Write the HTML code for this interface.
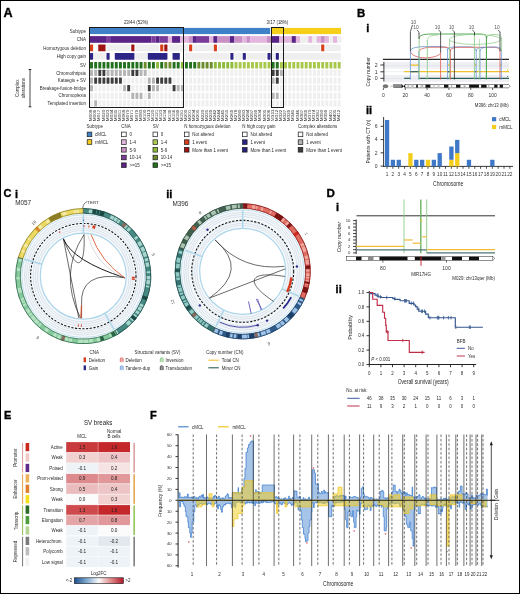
<!DOCTYPE html>
<html><head><meta charset="utf-8"><style>
html,body{margin:0;padding:0;background:#fff;}
body{width:520px;height:594px;overflow:hidden;}
svg{display:block;font-family:"Liberation Sans", sans-serif;will-change:transform;}
</style></head><body>
<svg width="520" height="594" viewBox="0 0 520 594">
<rect x="0" y="0" width="520" height="594" fill="#fff"/>
<text x="3.60" y="16.90" font-size="12.6" text-anchor="start" font-weight="bold" fill="#000" stroke="#000" stroke-width="0.35">A</text>
<text x="357.00" y="16.90" font-size="11.4" text-anchor="start" font-weight="bold" fill="#000" stroke="#000" stroke-width="0.35">B</text>
<text x="366.20" y="31.70" font-size="11" text-anchor="start" font-weight="bold" fill="#000" stroke="#000" stroke-width="0.35">i</text>
<text x="366.00" y="113.80" font-size="11" text-anchor="start" font-weight="bold" fill="#000" stroke="#000" stroke-width="0.35">ii</text>
<text x="3.60" y="197.10" font-size="11" text-anchor="start" font-weight="bold" fill="#000" stroke="#000" stroke-width="0.35">C</text>
<text x="15.00" y="197.50" font-size="11" text-anchor="start" font-weight="bold" fill="#000" stroke="#000" stroke-width="0.35">i</text>
<text x="166.20" y="197.80" font-size="11" text-anchor="start" font-weight="bold" fill="#000" stroke="#000" stroke-width="0.35">ii</text>
<text x="326.60" y="197.00" font-size="11.6" text-anchor="start" font-weight="bold" fill="#000" stroke="#000" stroke-width="0.35">D</text>
<text x="335.90" y="211.00" font-size="11" text-anchor="start" font-weight="bold" fill="#000" stroke="#000" stroke-width="0.35">i</text>
<text x="335.60" y="293.10" font-size="11" text-anchor="start" font-weight="bold" fill="#000" stroke="#000" stroke-width="0.35">ii</text>
<text x="4.00" y="419.20" font-size="11" text-anchor="start" font-weight="bold" fill="#000" stroke="#000" stroke-width="0.35">E</text>
<text x="150.00" y="418.60" font-size="11" text-anchor="start" font-weight="bold" fill="#000" stroke="#000" stroke-width="0.35">F</text>
<text x="86.00" y="32.60" font-size="4.45" text-anchor="end" font-weight="normal" fill="#2a2a2a">Subtype</text>
<text x="86.00" y="41.00" font-size="4.45" text-anchor="end" font-weight="normal" fill="#2a2a2a">CNA</text>
<text x="86.00" y="49.60" font-size="4.45" text-anchor="end" font-weight="normal" fill="#2a2a2a">Homozygous deletion</text>
<text x="86.00" y="58.00" font-size="4.45" text-anchor="end" font-weight="normal" fill="#2a2a2a">High copy gain</text>
<text x="86.00" y="66.70" font-size="4.45" text-anchor="end" font-weight="normal" fill="#2a2a2a">SV</text>
<text x="86.00" y="74.60" font-size="4.45" text-anchor="end" font-weight="normal" fill="#2a2a2a">Chromothripsis</text>
<text x="86.00" y="82.30" font-size="4.45" text-anchor="end" font-weight="normal" fill="#2a2a2a">Kataegis + SV</text>
<text x="86.00" y="89.80" font-size="4.45" text-anchor="end" font-weight="normal" fill="#2a2a2a">Breakage-fusion-bridge</text>
<text x="86.00" y="97.40" font-size="4.45" text-anchor="end" font-weight="normal" fill="#2a2a2a">Chromoplexia</text>
<text x="86.00" y="104.90" font-size="4.45" text-anchor="end" font-weight="normal" fill="#2a2a2a">Templated insertion</text>
<line x1="30.00" y1="69.50" x2="30.00" y2="106.80" stroke="#333" stroke-width="0.9"/>
<line x1="28.70" y1="69.50" x2="31.30" y2="69.50" stroke="#222" stroke-width="1.0"/>
<line x1="28.70" y1="106.80" x2="31.30" y2="106.80" stroke="#222" stroke-width="1.0"/>
<text x="19.50" y="88.30" font-size="4.45" text-anchor="middle" font-weight="normal" fill="#2a2a2a" transform="rotate(-90 19.50 88.30)" textLength="17.4" lengthAdjust="spacingAndGlyphs">Complex</text>
<text x="25.00" y="88.20" font-size="4.45" text-anchor="middle" font-weight="normal" fill="#2a2a2a" transform="rotate(-90 25.00 88.20)" textLength="20.2" lengthAdjust="spacingAndGlyphs">alterations</text>
<rect x="89.70" y="27.90" width="180.43" height="6.20" fill="#4080c6"/>
<rect x="271.63" y="27.90" width="69.38" height="6.20" fill="#f5cf1a"/>
<rect x="89.50" y="36.10" width="16.51" height="6.70" fill="#5a2388"/>
<rect x="106.01" y="36.10" width="4.13" height="6.70" fill="#7c3c99"/>
<rect x="110.14" y="36.10" width="41.28" height="6.70" fill="#5a2388"/>
<rect x="151.42" y="36.10" width="4.13" height="6.70" fill="#7c3c99"/>
<rect x="155.55" y="36.10" width="4.13" height="6.70" fill="#5a2388"/>
<rect x="159.68" y="36.10" width="8.26" height="6.70" fill="#7c3c99"/>
<rect x="167.93" y="36.10" width="4.13" height="6.70" fill="#e3b6dd"/>
<rect x="172.06" y="36.10" width="8.26" height="6.70" fill="#5a2388"/>
<rect x="180.32" y="36.10" width="8.26" height="6.70" fill="#e3b6dd"/>
<rect x="188.57" y="36.10" width="4.13" height="6.70" fill="#c990c6"/>
<rect x="192.70" y="36.10" width="4.13" height="6.70" fill="#5a2388"/>
<rect x="196.83" y="36.10" width="12.38" height="6.70" fill="#7c3c99"/>
<rect x="209.21" y="36.10" width="4.13" height="6.70" fill="#e3b6dd"/>
<rect x="213.34" y="36.10" width="4.13" height="6.70" fill="#5a2388"/>
<rect x="217.47" y="36.10" width="12.38" height="6.70" fill="#c990c6"/>
<rect x="229.85" y="36.10" width="4.13" height="6.70" fill="#5a2388"/>
<rect x="233.98" y="36.10" width="8.26" height="6.70" fill="#c990c6"/>
<rect x="242.24" y="36.10" width="4.13" height="6.70" fill="#e3b6dd"/>
<rect x="246.36" y="36.10" width="4.13" height="6.70" fill="#c990c6"/>
<rect x="250.49" y="36.10" width="16.51" height="6.70" fill="#e3b6dd"/>
<rect x="267.00" y="36.10" width="4.13" height="6.70" fill="#c990c6"/>
<rect x="271.13" y="36.10" width="8.26" height="6.70" fill="#5a2388"/>
<rect x="279.39" y="36.10" width="12.38" height="6.70" fill="#e3b6dd"/>
<rect x="291.77" y="36.10" width="4.13" height="6.70" fill="#5a2388"/>
<rect x="295.90" y="36.10" width="4.13" height="6.70" fill="#e3b6dd"/>
<rect x="300.03" y="36.10" width="8.26" height="6.70" fill="#efefef"/>
<rect x="308.28" y="36.10" width="4.13" height="6.70" fill="#e3b6dd"/>
<rect x="312.41" y="36.10" width="4.13" height="6.70" fill="#efefef"/>
<rect x="316.54" y="36.10" width="4.13" height="6.70" fill="#e3b6dd"/>
<rect x="320.67" y="36.10" width="4.13" height="6.70" fill="#c990c6"/>
<rect x="324.80" y="36.10" width="4.13" height="6.70" fill="#e3b6dd"/>
<rect x="328.92" y="36.10" width="4.13" height="6.70" fill="#efefef"/>
<rect x="333.05" y="36.10" width="4.13" height="6.70" fill="#e3b6dd"/>
<rect x="337.18" y="36.10" width="4.13" height="6.70" fill="#efefef"/>
<rect x="90.00" y="44.60" width="3.13" height="6.70" fill="#d8401c" rx="0.6"/>
<rect x="98.26" y="44.60" width="7.26" height="6.70" fill="#a01414" rx="0.6"/>
<rect x="106.51" y="44.60" width="23.77" height="6.70" fill="#efefef" rx="0.6"/>
<rect x="131.28" y="44.60" width="3.13" height="6.70" fill="#a01414" rx="0.6"/>
<rect x="135.41" y="44.60" width="23.77" height="6.70" fill="#efefef" rx="0.6"/>
<rect x="160.18" y="44.60" width="3.13" height="6.70" fill="#d8401c" rx="0.6"/>
<rect x="164.30" y="44.60" width="3.13" height="6.70" fill="#a01414" rx="0.6"/>
<rect x="168.43" y="44.60" width="19.64" height="6.70" fill="#efefef" rx="0.6"/>
<rect x="189.07" y="44.60" width="3.13" height="6.70" fill="#d8401c" rx="0.6"/>
<rect x="193.20" y="44.60" width="19.64" height="6.70" fill="#efefef" rx="0.6"/>
<rect x="213.84" y="44.60" width="3.13" height="6.70" fill="#d8401c" rx="0.6"/>
<rect x="217.97" y="44.60" width="102.20" height="6.70" fill="#efefef" rx="0.6"/>
<rect x="321.17" y="44.60" width="3.13" height="6.70" fill="#d8401c" rx="0.6"/>
<rect x="325.30" y="44.60" width="15.51" height="6.70" fill="#efefef" rx="0.6"/>
<rect x="90.00" y="53.00" width="3.13" height="6.70" fill="#2c2586" rx="0.6"/>
<rect x="94.13" y="53.00" width="11.38" height="6.70" fill="#efefef" rx="0.6"/>
<rect x="106.51" y="53.00" width="3.13" height="6.70" fill="#2c2586" rx="0.6"/>
<rect x="114.77" y="53.00" width="19.64" height="6.70" fill="#2c2586" rx="0.6"/>
<rect x="135.41" y="53.00" width="11.38" height="6.70" fill="#efefef" rx="0.6"/>
<rect x="147.79" y="53.00" width="19.64" height="6.70" fill="#2c2586" rx="0.6"/>
<rect x="172.56" y="53.00" width="7.26" height="6.70" fill="#2c2586" rx="0.6"/>
<rect x="184.94" y="53.00" width="44.41" height="6.70" fill="#efefef" rx="0.6"/>
<rect x="230.35" y="53.00" width="3.13" height="6.70" fill="#2c2586" rx="0.6"/>
<rect x="234.48" y="53.00" width="7.26" height="6.70" fill="#efefef" rx="0.6"/>
<rect x="242.74" y="53.00" width="3.13" height="6.70" fill="#2c2586" rx="0.6"/>
<rect x="246.86" y="53.00" width="19.64" height="6.70" fill="#efefef" rx="0.6"/>
<rect x="267.50" y="53.00" width="3.13" height="6.70" fill="#2c2586" rx="0.6"/>
<rect x="271.63" y="53.00" width="3.13" height="6.70" fill="#efefef" rx="0.6"/>
<rect x="275.76" y="53.00" width="3.13" height="6.70" fill="#2c2586" rx="0.6"/>
<rect x="279.89" y="53.00" width="60.92" height="6.70" fill="#efefef" rx="0.6"/>
<rect x="90.05" y="61.90" width="2.93" height="6.70" fill="#23701f" rx="0.5"/>
<rect x="94.18" y="61.90" width="2.93" height="6.70" fill="#23701f" rx="0.5"/>
<rect x="98.31" y="61.90" width="2.93" height="6.70" fill="#23701f" rx="0.5"/>
<rect x="102.43" y="61.90" width="2.93" height="6.70" fill="#23701f" rx="0.5"/>
<rect x="106.56" y="61.90" width="2.93" height="6.70" fill="#23701f" rx="0.5"/>
<rect x="110.69" y="61.90" width="2.93" height="6.70" fill="#23701f" rx="0.5"/>
<rect x="114.82" y="61.90" width="2.93" height="6.70" fill="#23701f" rx="0.5"/>
<rect x="118.95" y="61.90" width="2.93" height="6.70" fill="#23701f" rx="0.5"/>
<rect x="123.07" y="61.90" width="2.93" height="6.70" fill="#23701f" rx="0.5"/>
<rect x="127.20" y="61.90" width="2.93" height="6.70" fill="#23701f" rx="0.5"/>
<rect x="131.33" y="61.90" width="2.93" height="6.70" fill="#23701f" rx="0.5"/>
<rect x="135.46" y="61.90" width="2.93" height="6.70" fill="#23701f" rx="0.5"/>
<rect x="139.59" y="61.90" width="2.93" height="6.70" fill="#23701f" rx="0.5"/>
<rect x="143.71" y="61.90" width="2.93" height="6.70" fill="#6b8b2c" rx="0.5"/>
<rect x="147.84" y="61.90" width="2.93" height="6.70" fill="#23701f" rx="0.5"/>
<rect x="151.97" y="61.90" width="2.93" height="6.70" fill="#23701f" rx="0.5"/>
<rect x="156.10" y="61.90" width="2.93" height="6.70" fill="#8dbb3d" rx="0.5"/>
<rect x="160.23" y="61.90" width="2.93" height="6.70" fill="#23701f" rx="0.5"/>
<rect x="164.35" y="61.90" width="2.93" height="6.70" fill="#6b8b2c" rx="0.5"/>
<rect x="168.48" y="61.90" width="2.93" height="6.70" fill="#6b8b2c" rx="0.5"/>
<rect x="172.61" y="61.90" width="2.93" height="6.70" fill="#23701f" rx="0.5"/>
<rect x="176.74" y="61.90" width="2.93" height="6.70" fill="#23701f" rx="0.5"/>
<rect x="180.87" y="61.90" width="2.93" height="6.70" fill="#8dbb3d" rx="0.5"/>
<rect x="184.99" y="61.90" width="2.93" height="6.70" fill="#23701f" rx="0.5"/>
<rect x="189.12" y="61.90" width="2.93" height="6.70" fill="#23701f" rx="0.5"/>
<rect x="193.25" y="61.90" width="2.93" height="6.70" fill="#23701f" rx="0.5"/>
<rect x="197.38" y="61.90" width="2.93" height="6.70" fill="#6b8b2c" rx="0.5"/>
<rect x="201.51" y="61.90" width="2.93" height="6.70" fill="#6b8b2c" rx="0.5"/>
<rect x="205.63" y="61.90" width="2.93" height="6.70" fill="#6b8b2c" rx="0.5"/>
<rect x="209.76" y="61.90" width="2.93" height="6.70" fill="#6b8b2c" rx="0.5"/>
<rect x="213.89" y="61.90" width="2.93" height="6.70" fill="#8dbb3d" rx="0.5"/>
<rect x="218.02" y="61.90" width="2.93" height="6.70" fill="#8dbb3d" rx="0.5"/>
<rect x="222.15" y="61.90" width="2.93" height="6.70" fill="#8dbb3d" rx="0.5"/>
<rect x="226.27" y="61.90" width="2.93" height="6.70" fill="#8dbb3d" rx="0.5"/>
<rect x="230.40" y="61.90" width="2.93" height="6.70" fill="#8dbb3d" rx="0.5"/>
<rect x="234.53" y="61.90" width="2.93" height="6.70" fill="#a8c84c" rx="0.5"/>
<rect x="238.66" y="61.90" width="2.93" height="6.70" fill="#a8c84c" rx="0.5"/>
<rect x="242.79" y="61.90" width="2.93" height="6.70" fill="#a8c84c" rx="0.5"/>
<rect x="246.91" y="61.90" width="2.93" height="6.70" fill="#a8c84c" rx="0.5"/>
<rect x="251.04" y="61.90" width="2.93" height="6.70" fill="#a8c84c" rx="0.5"/>
<rect x="255.17" y="61.90" width="2.93" height="6.70" fill="#a8c84c" rx="0.5"/>
<rect x="259.30" y="61.90" width="2.93" height="6.70" fill="#a8c84c" rx="0.5"/>
<rect x="263.43" y="61.90" width="2.93" height="6.70" fill="#a8c84c" rx="0.5"/>
<rect x="267.55" y="61.90" width="2.93" height="6.70" fill="#a8c84c" rx="0.5"/>
<rect x="271.68" y="61.90" width="2.93" height="6.70" fill="#23701f" rx="0.5"/>
<rect x="275.81" y="61.90" width="2.93" height="6.70" fill="#23701f" rx="0.5"/>
<rect x="279.94" y="61.90" width="2.93" height="6.70" fill="#a8c84c" rx="0.5"/>
<rect x="284.07" y="61.90" width="2.93" height="6.70" fill="#a8c84c" rx="0.5"/>
<rect x="288.19" y="61.90" width="2.93" height="6.70" fill="#a8c84c" rx="0.5"/>
<rect x="292.32" y="61.90" width="2.93" height="6.70" fill="#a8c84c" rx="0.5"/>
<rect x="296.45" y="61.90" width="2.93" height="6.70" fill="#a8c84c" rx="0.5"/>
<rect x="300.58" y="61.90" width="2.93" height="6.70" fill="#a8c84c" rx="0.5"/>
<rect x="304.71" y="61.90" width="2.93" height="6.70" fill="#a8c84c" rx="0.5"/>
<rect x="308.83" y="61.90" width="2.93" height="6.70" fill="#a8c84c" rx="0.5"/>
<rect x="312.96" y="61.90" width="2.93" height="6.70" fill="#a8c84c" rx="0.5"/>
<rect x="317.09" y="61.90" width="2.93" height="6.70" fill="#a8c84c" rx="0.5"/>
<rect x="321.22" y="61.90" width="2.93" height="6.70" fill="#a8c84c" rx="0.5"/>
<rect x="325.35" y="61.90" width="2.93" height="6.70" fill="#a8c84c" rx="0.5"/>
<rect x="329.47" y="61.90" width="2.93" height="6.70" fill="#a8c84c" rx="0.5"/>
<rect x="333.60" y="61.90" width="2.93" height="6.70" fill="#a8c84c" rx="0.5"/>
<rect x="337.73" y="61.90" width="2.93" height="6.70" fill="#a8c84c" rx="0.5"/>
<rect x="90.05" y="69.80" width="2.93" height="6.20" fill="#b4b4b4" rx="0.4"/>
<rect x="94.18" y="69.80" width="2.93" height="6.20" fill="#b4b4b4" rx="0.4"/>
<rect x="98.31" y="69.80" width="2.93" height="6.20" fill="#3e3e3e" rx="0.4"/>
<rect x="102.43" y="69.80" width="2.93" height="6.20" fill="#3e3e3e" rx="0.4"/>
<rect x="106.56" y="69.80" width="2.93" height="6.20" fill="#b4b4b4" rx="0.4"/>
<rect x="110.69" y="69.80" width="2.93" height="6.20" fill="#b4b4b4" rx="0.4"/>
<rect x="114.82" y="69.80" width="2.93" height="6.20" fill="#b4b4b4" rx="0.4"/>
<rect x="118.95" y="69.80" width="2.93" height="6.20" fill="#b4b4b4" rx="0.4"/>
<rect x="123.07" y="69.80" width="2.93" height="6.20" fill="#b4b4b4" rx="0.4"/>
<rect x="127.20" y="69.80" width="2.93" height="6.20" fill="#b4b4b4" rx="0.4"/>
<rect x="131.33" y="69.80" width="2.93" height="6.20" fill="#3e3e3e" rx="0.4"/>
<rect x="135.46" y="69.80" width="2.93" height="6.20" fill="#3e3e3e" rx="0.4"/>
<rect x="139.59" y="69.80" width="2.93" height="6.20" fill="#b4b4b4" rx="0.4"/>
<rect x="143.71" y="69.80" width="2.93" height="6.20" fill="#b4b4b4" rx="0.4"/>
<rect x="147.84" y="69.80" width="2.93" height="6.20" fill="#efefef" rx="0.4"/>
<rect x="151.97" y="69.80" width="2.93" height="6.20" fill="#efefef" rx="0.4"/>
<rect x="156.10" y="69.80" width="2.93" height="6.20" fill="#efefef" rx="0.4"/>
<rect x="160.23" y="69.80" width="2.93" height="6.20" fill="#efefef" rx="0.4"/>
<rect x="164.35" y="69.80" width="2.93" height="6.20" fill="#efefef" rx="0.4"/>
<rect x="168.48" y="69.80" width="2.93" height="6.20" fill="#efefef" rx="0.4"/>
<rect x="172.61" y="69.80" width="2.93" height="6.20" fill="#efefef" rx="0.4"/>
<rect x="176.74" y="69.80" width="2.93" height="6.20" fill="#efefef" rx="0.4"/>
<rect x="180.87" y="69.80" width="2.93" height="6.20" fill="#efefef" rx="0.4"/>
<rect x="184.99" y="69.80" width="2.93" height="6.20" fill="#efefef" rx="0.4"/>
<rect x="189.12" y="69.80" width="2.93" height="6.20" fill="#efefef" rx="0.4"/>
<rect x="193.25" y="69.80" width="2.93" height="6.20" fill="#efefef" rx="0.4"/>
<rect x="197.38" y="69.80" width="2.93" height="6.20" fill="#efefef" rx="0.4"/>
<rect x="201.51" y="69.80" width="2.93" height="6.20" fill="#efefef" rx="0.4"/>
<rect x="205.63" y="69.80" width="2.93" height="6.20" fill="#efefef" rx="0.4"/>
<rect x="209.76" y="69.80" width="2.93" height="6.20" fill="#efefef" rx="0.4"/>
<rect x="213.89" y="69.80" width="2.93" height="6.20" fill="#efefef" rx="0.4"/>
<rect x="218.02" y="69.80" width="2.93" height="6.20" fill="#efefef" rx="0.4"/>
<rect x="222.15" y="69.80" width="2.93" height="6.20" fill="#efefef" rx="0.4"/>
<rect x="226.27" y="69.80" width="2.93" height="6.20" fill="#efefef" rx="0.4"/>
<rect x="230.40" y="69.80" width="2.93" height="6.20" fill="#efefef" rx="0.4"/>
<rect x="234.53" y="69.80" width="2.93" height="6.20" fill="#efefef" rx="0.4"/>
<rect x="238.66" y="69.80" width="2.93" height="6.20" fill="#efefef" rx="0.4"/>
<rect x="242.79" y="69.80" width="2.93" height="6.20" fill="#efefef" rx="0.4"/>
<rect x="246.91" y="69.80" width="2.93" height="6.20" fill="#efefef" rx="0.4"/>
<rect x="251.04" y="69.80" width="2.93" height="6.20" fill="#efefef" rx="0.4"/>
<rect x="255.17" y="69.80" width="2.93" height="6.20" fill="#efefef" rx="0.4"/>
<rect x="259.30" y="69.80" width="2.93" height="6.20" fill="#efefef" rx="0.4"/>
<rect x="263.43" y="69.80" width="2.93" height="6.20" fill="#efefef" rx="0.4"/>
<rect x="267.55" y="69.80" width="2.93" height="6.20" fill="#efefef" rx="0.4"/>
<rect x="271.68" y="69.80" width="2.93" height="6.20" fill="#3e3e3e" rx="0.4"/>
<rect x="275.81" y="69.80" width="2.93" height="6.20" fill="#3e3e3e" rx="0.4"/>
<rect x="279.94" y="69.80" width="2.93" height="6.20" fill="#b4b4b4" rx="0.4"/>
<rect x="284.07" y="69.80" width="2.93" height="6.20" fill="#efefef" rx="0.4"/>
<rect x="288.19" y="69.80" width="2.93" height="6.20" fill="#efefef" rx="0.4"/>
<rect x="292.32" y="69.80" width="2.93" height="6.20" fill="#efefef" rx="0.4"/>
<rect x="296.45" y="69.80" width="2.93" height="6.20" fill="#efefef" rx="0.4"/>
<rect x="300.58" y="69.80" width="2.93" height="6.20" fill="#efefef" rx="0.4"/>
<rect x="304.71" y="69.80" width="2.93" height="6.20" fill="#efefef" rx="0.4"/>
<rect x="308.83" y="69.80" width="2.93" height="6.20" fill="#efefef" rx="0.4"/>
<rect x="312.96" y="69.80" width="2.93" height="6.20" fill="#efefef" rx="0.4"/>
<rect x="317.09" y="69.80" width="2.93" height="6.20" fill="#efefef" rx="0.4"/>
<rect x="321.22" y="69.80" width="2.93" height="6.20" fill="#efefef" rx="0.4"/>
<rect x="325.35" y="69.80" width="2.93" height="6.20" fill="#efefef" rx="0.4"/>
<rect x="329.47" y="69.80" width="2.93" height="6.20" fill="#efefef" rx="0.4"/>
<rect x="333.60" y="69.80" width="2.93" height="6.20" fill="#efefef" rx="0.4"/>
<rect x="337.73" y="69.80" width="2.93" height="6.20" fill="#efefef" rx="0.4"/>
<rect x="90.05" y="77.50" width="2.93" height="6.20" fill="#b4b4b4" rx="0.4"/>
<rect x="94.18" y="77.50" width="2.93" height="6.20" fill="#3e3e3e" rx="0.4"/>
<rect x="98.31" y="77.50" width="2.93" height="6.20" fill="#3e3e3e" rx="0.4"/>
<rect x="102.43" y="77.50" width="2.93" height="6.20" fill="#3e3e3e" rx="0.4"/>
<rect x="106.56" y="77.50" width="2.93" height="6.20" fill="#3e3e3e" rx="0.4"/>
<rect x="110.69" y="77.50" width="2.93" height="6.20" fill="#3e3e3e" rx="0.4"/>
<rect x="114.82" y="77.50" width="2.93" height="6.20" fill="#3e3e3e" rx="0.4"/>
<rect x="118.95" y="77.50" width="2.93" height="6.20" fill="#3e3e3e" rx="0.4"/>
<rect x="123.07" y="77.50" width="2.93" height="6.20" fill="#efefef" rx="0.4"/>
<rect x="127.20" y="77.50" width="2.93" height="6.20" fill="#efefef" rx="0.4"/>
<rect x="131.33" y="77.50" width="2.93" height="6.20" fill="#efefef" rx="0.4"/>
<rect x="135.46" y="77.50" width="2.93" height="6.20" fill="#efefef" rx="0.4"/>
<rect x="139.59" y="77.50" width="2.93" height="6.20" fill="#efefef" rx="0.4"/>
<rect x="143.71" y="77.50" width="2.93" height="6.20" fill="#efefef" rx="0.4"/>
<rect x="147.84" y="77.50" width="2.93" height="6.20" fill="#b4b4b4" rx="0.4"/>
<rect x="151.97" y="77.50" width="2.93" height="6.20" fill="#b4b4b4" rx="0.4"/>
<rect x="156.10" y="77.50" width="2.93" height="6.20" fill="#3e3e3e" rx="0.4"/>
<rect x="160.23" y="77.50" width="2.93" height="6.20" fill="#3e3e3e" rx="0.4"/>
<rect x="164.35" y="77.50" width="2.93" height="6.20" fill="#3e3e3e" rx="0.4"/>
<rect x="168.48" y="77.50" width="2.93" height="6.20" fill="#3e3e3e" rx="0.4"/>
<rect x="172.61" y="77.50" width="2.93" height="6.20" fill="#efefef" rx="0.4"/>
<rect x="176.74" y="77.50" width="2.93" height="6.20" fill="#efefef" rx="0.4"/>
<rect x="180.87" y="77.50" width="2.93" height="6.20" fill="#efefef" rx="0.4"/>
<rect x="184.99" y="77.50" width="2.93" height="6.20" fill="#efefef" rx="0.4"/>
<rect x="189.12" y="77.50" width="2.93" height="6.20" fill="#efefef" rx="0.4"/>
<rect x="193.25" y="77.50" width="2.93" height="6.20" fill="#efefef" rx="0.4"/>
<rect x="197.38" y="77.50" width="2.93" height="6.20" fill="#efefef" rx="0.4"/>
<rect x="201.51" y="77.50" width="2.93" height="6.20" fill="#efefef" rx="0.4"/>
<rect x="205.63" y="77.50" width="2.93" height="6.20" fill="#efefef" rx="0.4"/>
<rect x="209.76" y="77.50" width="2.93" height="6.20" fill="#efefef" rx="0.4"/>
<rect x="213.89" y="77.50" width="2.93" height="6.20" fill="#efefef" rx="0.4"/>
<rect x="218.02" y="77.50" width="2.93" height="6.20" fill="#efefef" rx="0.4"/>
<rect x="222.15" y="77.50" width="2.93" height="6.20" fill="#efefef" rx="0.4"/>
<rect x="226.27" y="77.50" width="2.93" height="6.20" fill="#efefef" rx="0.4"/>
<rect x="230.40" y="77.50" width="2.93" height="6.20" fill="#efefef" rx="0.4"/>
<rect x="234.53" y="77.50" width="2.93" height="6.20" fill="#efefef" rx="0.4"/>
<rect x="238.66" y="77.50" width="2.93" height="6.20" fill="#efefef" rx="0.4"/>
<rect x="242.79" y="77.50" width="2.93" height="6.20" fill="#efefef" rx="0.4"/>
<rect x="246.91" y="77.50" width="2.93" height="6.20" fill="#efefef" rx="0.4"/>
<rect x="251.04" y="77.50" width="2.93" height="6.20" fill="#efefef" rx="0.4"/>
<rect x="255.17" y="77.50" width="2.93" height="6.20" fill="#efefef" rx="0.4"/>
<rect x="259.30" y="77.50" width="2.93" height="6.20" fill="#efefef" rx="0.4"/>
<rect x="263.43" y="77.50" width="2.93" height="6.20" fill="#efefef" rx="0.4"/>
<rect x="267.55" y="77.50" width="2.93" height="6.20" fill="#efefef" rx="0.4"/>
<rect x="271.68" y="77.50" width="2.93" height="6.20" fill="#b4b4b4" rx="0.4"/>
<rect x="275.81" y="77.50" width="2.93" height="6.20" fill="#3e3e3e" rx="0.4"/>
<rect x="279.94" y="77.50" width="2.93" height="6.20" fill="#efefef" rx="0.4"/>
<rect x="284.07" y="77.50" width="2.93" height="6.20" fill="#efefef" rx="0.4"/>
<rect x="288.19" y="77.50" width="2.93" height="6.20" fill="#efefef" rx="0.4"/>
<rect x="292.32" y="77.50" width="2.93" height="6.20" fill="#efefef" rx="0.4"/>
<rect x="296.45" y="77.50" width="2.93" height="6.20" fill="#efefef" rx="0.4"/>
<rect x="300.58" y="77.50" width="2.93" height="6.20" fill="#efefef" rx="0.4"/>
<rect x="304.71" y="77.50" width="2.93" height="6.20" fill="#efefef" rx="0.4"/>
<rect x="308.83" y="77.50" width="2.93" height="6.20" fill="#efefef" rx="0.4"/>
<rect x="312.96" y="77.50" width="2.93" height="6.20" fill="#efefef" rx="0.4"/>
<rect x="317.09" y="77.50" width="2.93" height="6.20" fill="#efefef" rx="0.4"/>
<rect x="321.22" y="77.50" width="2.93" height="6.20" fill="#efefef" rx="0.4"/>
<rect x="325.35" y="77.50" width="2.93" height="6.20" fill="#efefef" rx="0.4"/>
<rect x="329.47" y="77.50" width="2.93" height="6.20" fill="#efefef" rx="0.4"/>
<rect x="333.60" y="77.50" width="2.93" height="6.20" fill="#efefef" rx="0.4"/>
<rect x="337.73" y="77.50" width="2.93" height="6.20" fill="#efefef" rx="0.4"/>
<rect x="90.05" y="85.10" width="2.93" height="6.20" fill="#b4b4b4" rx="0.4"/>
<rect x="94.18" y="85.10" width="2.93" height="6.20" fill="#efefef" rx="0.4"/>
<rect x="98.31" y="85.10" width="2.93" height="6.20" fill="#efefef" rx="0.4"/>
<rect x="102.43" y="85.10" width="2.93" height="6.20" fill="#efefef" rx="0.4"/>
<rect x="106.56" y="85.10" width="2.93" height="6.20" fill="#efefef" rx="0.4"/>
<rect x="110.69" y="85.10" width="2.93" height="6.20" fill="#efefef" rx="0.4"/>
<rect x="114.82" y="85.10" width="2.93" height="6.20" fill="#efefef" rx="0.4"/>
<rect x="118.95" y="85.10" width="2.93" height="6.20" fill="#efefef" rx="0.4"/>
<rect x="123.07" y="85.10" width="2.93" height="6.20" fill="#b4b4b4" rx="0.4"/>
<rect x="127.20" y="85.10" width="2.93" height="6.20" fill="#3e3e3e" rx="0.4"/>
<rect x="131.33" y="85.10" width="2.93" height="6.20" fill="#efefef" rx="0.4"/>
<rect x="135.46" y="85.10" width="2.93" height="6.20" fill="#efefef" rx="0.4"/>
<rect x="139.59" y="85.10" width="2.93" height="6.20" fill="#efefef" rx="0.4"/>
<rect x="143.71" y="85.10" width="2.93" height="6.20" fill="#efefef" rx="0.4"/>
<rect x="147.84" y="85.10" width="2.93" height="6.20" fill="#3e3e3e" rx="0.4"/>
<rect x="151.97" y="85.10" width="2.93" height="6.20" fill="#b4b4b4" rx="0.4"/>
<rect x="156.10" y="85.10" width="2.93" height="6.20" fill="#b4b4b4" rx="0.4"/>
<rect x="160.23" y="85.10" width="2.93" height="6.20" fill="#efefef" rx="0.4"/>
<rect x="164.35" y="85.10" width="2.93" height="6.20" fill="#efefef" rx="0.4"/>
<rect x="168.48" y="85.10" width="2.93" height="6.20" fill="#efefef" rx="0.4"/>
<rect x="172.61" y="85.10" width="2.93" height="6.20" fill="#3e3e3e" rx="0.4"/>
<rect x="176.74" y="85.10" width="2.93" height="6.20" fill="#b4b4b4" rx="0.4"/>
<rect x="180.87" y="85.10" width="2.93" height="6.20" fill="#b4b4b4" rx="0.4"/>
<rect x="184.99" y="85.10" width="2.93" height="6.20" fill="#efefef" rx="0.4"/>
<rect x="189.12" y="85.10" width="2.93" height="6.20" fill="#efefef" rx="0.4"/>
<rect x="193.25" y="85.10" width="2.93" height="6.20" fill="#efefef" rx="0.4"/>
<rect x="197.38" y="85.10" width="2.93" height="6.20" fill="#efefef" rx="0.4"/>
<rect x="201.51" y="85.10" width="2.93" height="6.20" fill="#efefef" rx="0.4"/>
<rect x="205.63" y="85.10" width="2.93" height="6.20" fill="#efefef" rx="0.4"/>
<rect x="209.76" y="85.10" width="2.93" height="6.20" fill="#efefef" rx="0.4"/>
<rect x="213.89" y="85.10" width="2.93" height="6.20" fill="#efefef" rx="0.4"/>
<rect x="218.02" y="85.10" width="2.93" height="6.20" fill="#efefef" rx="0.4"/>
<rect x="222.15" y="85.10" width="2.93" height="6.20" fill="#efefef" rx="0.4"/>
<rect x="226.27" y="85.10" width="2.93" height="6.20" fill="#efefef" rx="0.4"/>
<rect x="230.40" y="85.10" width="2.93" height="6.20" fill="#efefef" rx="0.4"/>
<rect x="234.53" y="85.10" width="2.93" height="6.20" fill="#efefef" rx="0.4"/>
<rect x="238.66" y="85.10" width="2.93" height="6.20" fill="#efefef" rx="0.4"/>
<rect x="242.79" y="85.10" width="2.93" height="6.20" fill="#efefef" rx="0.4"/>
<rect x="246.91" y="85.10" width="2.93" height="6.20" fill="#efefef" rx="0.4"/>
<rect x="251.04" y="85.10" width="2.93" height="6.20" fill="#efefef" rx="0.4"/>
<rect x="255.17" y="85.10" width="2.93" height="6.20" fill="#efefef" rx="0.4"/>
<rect x="259.30" y="85.10" width="2.93" height="6.20" fill="#efefef" rx="0.4"/>
<rect x="263.43" y="85.10" width="2.93" height="6.20" fill="#efefef" rx="0.4"/>
<rect x="267.55" y="85.10" width="2.93" height="6.20" fill="#efefef" rx="0.4"/>
<rect x="271.68" y="85.10" width="2.93" height="6.20" fill="#efefef" rx="0.4"/>
<rect x="275.81" y="85.10" width="2.93" height="6.20" fill="#efefef" rx="0.4"/>
<rect x="279.94" y="85.10" width="2.93" height="6.20" fill="#efefef" rx="0.4"/>
<rect x="284.07" y="85.10" width="2.93" height="6.20" fill="#efefef" rx="0.4"/>
<rect x="288.19" y="85.10" width="2.93" height="6.20" fill="#efefef" rx="0.4"/>
<rect x="292.32" y="85.10" width="2.93" height="6.20" fill="#efefef" rx="0.4"/>
<rect x="296.45" y="85.10" width="2.93" height="6.20" fill="#efefef" rx="0.4"/>
<rect x="300.58" y="85.10" width="2.93" height="6.20" fill="#efefef" rx="0.4"/>
<rect x="304.71" y="85.10" width="2.93" height="6.20" fill="#efefef" rx="0.4"/>
<rect x="308.83" y="85.10" width="2.93" height="6.20" fill="#efefef" rx="0.4"/>
<rect x="312.96" y="85.10" width="2.93" height="6.20" fill="#efefef" rx="0.4"/>
<rect x="317.09" y="85.10" width="2.93" height="6.20" fill="#efefef" rx="0.4"/>
<rect x="321.22" y="85.10" width="2.93" height="6.20" fill="#efefef" rx="0.4"/>
<rect x="325.35" y="85.10" width="2.93" height="6.20" fill="#efefef" rx="0.4"/>
<rect x="329.47" y="85.10" width="2.93" height="6.20" fill="#efefef" rx="0.4"/>
<rect x="333.60" y="85.10" width="2.93" height="6.20" fill="#efefef" rx="0.4"/>
<rect x="337.73" y="85.10" width="2.93" height="6.20" fill="#efefef" rx="0.4"/>
<rect x="90.05" y="92.70" width="2.93" height="6.20" fill="#efefef" rx="0.4"/>
<rect x="94.18" y="92.70" width="2.93" height="6.20" fill="#efefef" rx="0.4"/>
<rect x="98.31" y="92.70" width="2.93" height="6.20" fill="#efefef" rx="0.4"/>
<rect x="102.43" y="92.70" width="2.93" height="6.20" fill="#efefef" rx="0.4"/>
<rect x="106.56" y="92.70" width="2.93" height="6.20" fill="#efefef" rx="0.4"/>
<rect x="110.69" y="92.70" width="2.93" height="6.20" fill="#efefef" rx="0.4"/>
<rect x="114.82" y="92.70" width="2.93" height="6.20" fill="#efefef" rx="0.4"/>
<rect x="118.95" y="92.70" width="2.93" height="6.20" fill="#efefef" rx="0.4"/>
<rect x="123.07" y="92.70" width="2.93" height="6.20" fill="#efefef" rx="0.4"/>
<rect x="127.20" y="92.70" width="2.93" height="6.20" fill="#efefef" rx="0.4"/>
<rect x="131.33" y="92.70" width="2.93" height="6.20" fill="#b4b4b4" rx="0.4"/>
<rect x="135.46" y="92.70" width="2.93" height="6.20" fill="#b4b4b4" rx="0.4"/>
<rect x="139.59" y="92.70" width="2.93" height="6.20" fill="#b4b4b4" rx="0.4"/>
<rect x="143.71" y="92.70" width="2.93" height="6.20" fill="#efefef" rx="0.4"/>
<rect x="147.84" y="92.70" width="2.93" height="6.20" fill="#b4b4b4" rx="0.4"/>
<rect x="151.97" y="92.70" width="2.93" height="6.20" fill="#efefef" rx="0.4"/>
<rect x="156.10" y="92.70" width="2.93" height="6.20" fill="#efefef" rx="0.4"/>
<rect x="160.23" y="92.70" width="2.93" height="6.20" fill="#efefef" rx="0.4"/>
<rect x="164.35" y="92.70" width="2.93" height="6.20" fill="#efefef" rx="0.4"/>
<rect x="168.48" y="92.70" width="2.93" height="6.20" fill="#efefef" rx="0.4"/>
<rect x="172.61" y="92.70" width="2.93" height="6.20" fill="#efefef" rx="0.4"/>
<rect x="176.74" y="92.70" width="2.93" height="6.20" fill="#efefef" rx="0.4"/>
<rect x="180.87" y="92.70" width="2.93" height="6.20" fill="#efefef" rx="0.4"/>
<rect x="184.99" y="92.70" width="2.93" height="6.20" fill="#efefef" rx="0.4"/>
<rect x="189.12" y="92.70" width="2.93" height="6.20" fill="#efefef" rx="0.4"/>
<rect x="193.25" y="92.70" width="2.93" height="6.20" fill="#efefef" rx="0.4"/>
<rect x="197.38" y="92.70" width="2.93" height="6.20" fill="#efefef" rx="0.4"/>
<rect x="201.51" y="92.70" width="2.93" height="6.20" fill="#efefef" rx="0.4"/>
<rect x="205.63" y="92.70" width="2.93" height="6.20" fill="#efefef" rx="0.4"/>
<rect x="209.76" y="92.70" width="2.93" height="6.20" fill="#efefef" rx="0.4"/>
<rect x="213.89" y="92.70" width="2.93" height="6.20" fill="#efefef" rx="0.4"/>
<rect x="218.02" y="92.70" width="2.93" height="6.20" fill="#efefef" rx="0.4"/>
<rect x="222.15" y="92.70" width="2.93" height="6.20" fill="#efefef" rx="0.4"/>
<rect x="226.27" y="92.70" width="2.93" height="6.20" fill="#efefef" rx="0.4"/>
<rect x="230.40" y="92.70" width="2.93" height="6.20" fill="#efefef" rx="0.4"/>
<rect x="234.53" y="92.70" width="2.93" height="6.20" fill="#efefef" rx="0.4"/>
<rect x="238.66" y="92.70" width="2.93" height="6.20" fill="#efefef" rx="0.4"/>
<rect x="242.79" y="92.70" width="2.93" height="6.20" fill="#efefef" rx="0.4"/>
<rect x="246.91" y="92.70" width="2.93" height="6.20" fill="#efefef" rx="0.4"/>
<rect x="251.04" y="92.70" width="2.93" height="6.20" fill="#efefef" rx="0.4"/>
<rect x="255.17" y="92.70" width="2.93" height="6.20" fill="#efefef" rx="0.4"/>
<rect x="259.30" y="92.70" width="2.93" height="6.20" fill="#efefef" rx="0.4"/>
<rect x="263.43" y="92.70" width="2.93" height="6.20" fill="#efefef" rx="0.4"/>
<rect x="267.55" y="92.70" width="2.93" height="6.20" fill="#efefef" rx="0.4"/>
<rect x="271.68" y="92.70" width="2.93" height="6.20" fill="#b4b4b4" rx="0.4"/>
<rect x="275.81" y="92.70" width="2.93" height="6.20" fill="#b4b4b4" rx="0.4"/>
<rect x="279.94" y="92.70" width="2.93" height="6.20" fill="#efefef" rx="0.4"/>
<rect x="284.07" y="92.70" width="2.93" height="6.20" fill="#efefef" rx="0.4"/>
<rect x="288.19" y="92.70" width="2.93" height="6.20" fill="#efefef" rx="0.4"/>
<rect x="292.32" y="92.70" width="2.93" height="6.20" fill="#efefef" rx="0.4"/>
<rect x="296.45" y="92.70" width="2.93" height="6.20" fill="#efefef" rx="0.4"/>
<rect x="300.58" y="92.70" width="2.93" height="6.20" fill="#efefef" rx="0.4"/>
<rect x="304.71" y="92.70" width="2.93" height="6.20" fill="#efefef" rx="0.4"/>
<rect x="308.83" y="92.70" width="2.93" height="6.20" fill="#efefef" rx="0.4"/>
<rect x="312.96" y="92.70" width="2.93" height="6.20" fill="#efefef" rx="0.4"/>
<rect x="317.09" y="92.70" width="2.93" height="6.20" fill="#efefef" rx="0.4"/>
<rect x="321.22" y="92.70" width="2.93" height="6.20" fill="#efefef" rx="0.4"/>
<rect x="325.35" y="92.70" width="2.93" height="6.20" fill="#efefef" rx="0.4"/>
<rect x="329.47" y="92.70" width="2.93" height="6.20" fill="#efefef" rx="0.4"/>
<rect x="333.60" y="92.70" width="2.93" height="6.20" fill="#efefef" rx="0.4"/>
<rect x="337.73" y="92.70" width="2.93" height="6.20" fill="#efefef" rx="0.4"/>
<rect x="90.05" y="100.30" width="2.93" height="6.20" fill="#efefef" rx="0.4"/>
<rect x="94.18" y="100.30" width="2.93" height="6.20" fill="#b4b4b4" rx="0.4"/>
<rect x="98.31" y="100.30" width="2.93" height="6.20" fill="#efefef" rx="0.4"/>
<rect x="102.43" y="100.30" width="2.93" height="6.20" fill="#efefef" rx="0.4"/>
<rect x="106.56" y="100.30" width="2.93" height="6.20" fill="#efefef" rx="0.4"/>
<rect x="110.69" y="100.30" width="2.93" height="6.20" fill="#efefef" rx="0.4"/>
<rect x="114.82" y="100.30" width="2.93" height="6.20" fill="#efefef" rx="0.4"/>
<rect x="118.95" y="100.30" width="2.93" height="6.20" fill="#efefef" rx="0.4"/>
<rect x="123.07" y="100.30" width="2.93" height="6.20" fill="#efefef" rx="0.4"/>
<rect x="127.20" y="100.30" width="2.93" height="6.20" fill="#efefef" rx="0.4"/>
<rect x="131.33" y="100.30" width="2.93" height="6.20" fill="#efefef" rx="0.4"/>
<rect x="135.46" y="100.30" width="2.93" height="6.20" fill="#efefef" rx="0.4"/>
<rect x="139.59" y="100.30" width="2.93" height="6.20" fill="#efefef" rx="0.4"/>
<rect x="143.71" y="100.30" width="2.93" height="6.20" fill="#efefef" rx="0.4"/>
<rect x="147.84" y="100.30" width="2.93" height="6.20" fill="#efefef" rx="0.4"/>
<rect x="151.97" y="100.30" width="2.93" height="6.20" fill="#efefef" rx="0.4"/>
<rect x="156.10" y="100.30" width="2.93" height="6.20" fill="#efefef" rx="0.4"/>
<rect x="160.23" y="100.30" width="2.93" height="6.20" fill="#efefef" rx="0.4"/>
<rect x="164.35" y="100.30" width="2.93" height="6.20" fill="#efefef" rx="0.4"/>
<rect x="168.48" y="100.30" width="2.93" height="6.20" fill="#efefef" rx="0.4"/>
<rect x="172.61" y="100.30" width="2.93" height="6.20" fill="#efefef" rx="0.4"/>
<rect x="176.74" y="100.30" width="2.93" height="6.20" fill="#efefef" rx="0.4"/>
<rect x="180.87" y="100.30" width="2.93" height="6.20" fill="#efefef" rx="0.4"/>
<rect x="184.99" y="100.30" width="2.93" height="6.20" fill="#efefef" rx="0.4"/>
<rect x="189.12" y="100.30" width="2.93" height="6.20" fill="#efefef" rx="0.4"/>
<rect x="193.25" y="100.30" width="2.93" height="6.20" fill="#efefef" rx="0.4"/>
<rect x="197.38" y="100.30" width="2.93" height="6.20" fill="#efefef" rx="0.4"/>
<rect x="201.51" y="100.30" width="2.93" height="6.20" fill="#efefef" rx="0.4"/>
<rect x="205.63" y="100.30" width="2.93" height="6.20" fill="#efefef" rx="0.4"/>
<rect x="209.76" y="100.30" width="2.93" height="6.20" fill="#efefef" rx="0.4"/>
<rect x="213.89" y="100.30" width="2.93" height="6.20" fill="#efefef" rx="0.4"/>
<rect x="218.02" y="100.30" width="2.93" height="6.20" fill="#efefef" rx="0.4"/>
<rect x="222.15" y="100.30" width="2.93" height="6.20" fill="#efefef" rx="0.4"/>
<rect x="226.27" y="100.30" width="2.93" height="6.20" fill="#efefef" rx="0.4"/>
<rect x="230.40" y="100.30" width="2.93" height="6.20" fill="#efefef" rx="0.4"/>
<rect x="234.53" y="100.30" width="2.93" height="6.20" fill="#efefef" rx="0.4"/>
<rect x="238.66" y="100.30" width="2.93" height="6.20" fill="#efefef" rx="0.4"/>
<rect x="242.79" y="100.30" width="2.93" height="6.20" fill="#efefef" rx="0.4"/>
<rect x="246.91" y="100.30" width="2.93" height="6.20" fill="#efefef" rx="0.4"/>
<rect x="251.04" y="100.30" width="2.93" height="6.20" fill="#efefef" rx="0.4"/>
<rect x="255.17" y="100.30" width="2.93" height="6.20" fill="#efefef" rx="0.4"/>
<rect x="259.30" y="100.30" width="2.93" height="6.20" fill="#efefef" rx="0.4"/>
<rect x="263.43" y="100.30" width="2.93" height="6.20" fill="#efefef" rx="0.4"/>
<rect x="267.55" y="100.30" width="2.93" height="6.20" fill="#efefef" rx="0.4"/>
<rect x="271.68" y="100.30" width="2.93" height="6.20" fill="#efefef" rx="0.4"/>
<rect x="275.81" y="100.30" width="2.93" height="6.20" fill="#efefef" rx="0.4"/>
<rect x="279.94" y="100.30" width="2.93" height="6.20" fill="#efefef" rx="0.4"/>
<rect x="284.07" y="100.30" width="2.93" height="6.20" fill="#efefef" rx="0.4"/>
<rect x="288.19" y="100.30" width="2.93" height="6.20" fill="#efefef" rx="0.4"/>
<rect x="292.32" y="100.30" width="2.93" height="6.20" fill="#efefef" rx="0.4"/>
<rect x="296.45" y="100.30" width="2.93" height="6.20" fill="#efefef" rx="0.4"/>
<rect x="300.58" y="100.30" width="2.93" height="6.20" fill="#efefef" rx="0.4"/>
<rect x="304.71" y="100.30" width="2.93" height="6.20" fill="#efefef" rx="0.4"/>
<rect x="308.83" y="100.30" width="2.93" height="6.20" fill="#efefef" rx="0.4"/>
<rect x="312.96" y="100.30" width="2.93" height="6.20" fill="#efefef" rx="0.4"/>
<rect x="317.09" y="100.30" width="2.93" height="6.20" fill="#efefef" rx="0.4"/>
<rect x="321.22" y="100.30" width="2.93" height="6.20" fill="#efefef" rx="0.4"/>
<rect x="325.35" y="100.30" width="2.93" height="6.20" fill="#efefef" rx="0.4"/>
<rect x="329.47" y="100.30" width="2.93" height="6.20" fill="#efefef" rx="0.4"/>
<rect x="333.60" y="100.30" width="2.93" height="6.20" fill="#efefef" rx="0.4"/>
<rect x="337.73" y="100.30" width="2.93" height="6.20" fill="#efefef" rx="0.4"/>
<rect x="89.50" y="27.50" width="94.00" height="80.00" fill="none" stroke="#1a1a1a" stroke-width="1.0"/>
<rect x="271.50" y="27.50" width="12.00" height="80.00" fill="none" stroke="#1a1a1a" stroke-width="1.0"/>
<text x="136.00" y="23.60" font-size="4.45" text-anchor="middle" font-weight="normal" fill="#2a2a2a">23/44 (52%)</text>
<text x="277.40" y="23.60" font-size="4.45" text-anchor="middle" font-weight="normal" fill="#2a2a2a">3/17 (18%)</text>
<text x="92.16" y="121.20" font-size="3.9" text-anchor="start" font-weight="normal" fill="#333" transform="rotate(-90 92.16 121.20)" textLength="11.6" lengthAdjust="spacingAndGlyphs">M008</text>
<text x="96.29" y="121.20" font-size="3.9" text-anchor="start" font-weight="normal" fill="#333" transform="rotate(-90 96.29 121.20)" textLength="11.6" lengthAdjust="spacingAndGlyphs">M009</text>
<text x="100.42" y="121.20" font-size="3.9" text-anchor="start" font-weight="normal" fill="#333" transform="rotate(-90 100.42 121.20)" textLength="11.6" lengthAdjust="spacingAndGlyphs">M017</text>
<text x="104.55" y="121.20" font-size="3.9" text-anchor="start" font-weight="normal" fill="#333" transform="rotate(-90 104.55 121.20)" textLength="11.6" lengthAdjust="spacingAndGlyphs">M020</text>
<text x="108.68" y="121.20" font-size="3.9" text-anchor="start" font-weight="normal" fill="#333" transform="rotate(-90 108.68 121.20)" textLength="11.6" lengthAdjust="spacingAndGlyphs">M023</text>
<text x="112.80" y="121.20" font-size="3.9" text-anchor="start" font-weight="normal" fill="#333" transform="rotate(-90 112.80 121.20)" textLength="11.6" lengthAdjust="spacingAndGlyphs">M034</text>
<text x="116.93" y="121.20" font-size="3.9" text-anchor="start" font-weight="normal" fill="#333" transform="rotate(-90 116.93 121.20)" textLength="11.6" lengthAdjust="spacingAndGlyphs">M035</text>
<text x="121.06" y="121.20" font-size="3.9" text-anchor="start" font-weight="normal" fill="#333" transform="rotate(-90 121.06 121.20)" textLength="11.6" lengthAdjust="spacingAndGlyphs">M051</text>
<text x="125.19" y="121.20" font-size="3.9" text-anchor="start" font-weight="normal" fill="#333" transform="rotate(-90 125.19 121.20)" textLength="11.6" lengthAdjust="spacingAndGlyphs">M068</text>
<text x="129.32" y="121.20" font-size="3.9" text-anchor="start" font-weight="normal" fill="#333" transform="rotate(-90 129.32 121.20)" textLength="11.6" lengthAdjust="spacingAndGlyphs">M070</text>
<text x="133.44" y="121.20" font-size="3.9" text-anchor="start" font-weight="normal" fill="#333" transform="rotate(-90 133.44 121.20)" textLength="11.6" lengthAdjust="spacingAndGlyphs">M071</text>
<text x="137.57" y="121.20" font-size="3.9" text-anchor="start" font-weight="normal" fill="#333" transform="rotate(-90 137.57 121.20)" textLength="11.6" lengthAdjust="spacingAndGlyphs">M079</text>
<text x="141.70" y="121.20" font-size="3.9" text-anchor="start" font-weight="normal" fill="#333" transform="rotate(-90 141.70 121.20)" textLength="11.6" lengthAdjust="spacingAndGlyphs">M083</text>
<text x="145.83" y="121.20" font-size="3.9" text-anchor="start" font-weight="normal" fill="#333" transform="rotate(-90 145.83 121.20)" textLength="11.6" lengthAdjust="spacingAndGlyphs">M100</text>
<text x="149.96" y="121.20" font-size="3.9" text-anchor="start" font-weight="normal" fill="#333" transform="rotate(-90 149.96 121.20)" textLength="11.6" lengthAdjust="spacingAndGlyphs">M113</text>
<text x="154.08" y="121.20" font-size="3.9" text-anchor="start" font-weight="normal" fill="#333" transform="rotate(-90 154.08 121.20)" textLength="11.6" lengthAdjust="spacingAndGlyphs">M120</text>
<text x="158.21" y="121.20" font-size="3.9" text-anchor="start" font-weight="normal" fill="#333" transform="rotate(-90 158.21 121.20)" textLength="11.6" lengthAdjust="spacingAndGlyphs">M121</text>
<text x="162.34" y="121.20" font-size="3.9" text-anchor="start" font-weight="normal" fill="#333" transform="rotate(-90 162.34 121.20)" textLength="11.6" lengthAdjust="spacingAndGlyphs">M123</text>
<text x="166.47" y="121.20" font-size="3.9" text-anchor="start" font-weight="normal" fill="#333" transform="rotate(-90 166.47 121.20)" textLength="11.6" lengthAdjust="spacingAndGlyphs">M134</text>
<text x="170.60" y="121.20" font-size="3.9" text-anchor="start" font-weight="normal" fill="#333" transform="rotate(-90 170.60 121.20)" textLength="11.6" lengthAdjust="spacingAndGlyphs">M139</text>
<text x="174.72" y="121.20" font-size="3.9" text-anchor="start" font-weight="normal" fill="#333" transform="rotate(-90 174.72 121.20)" textLength="11.6" lengthAdjust="spacingAndGlyphs">M156</text>
<text x="178.85" y="121.20" font-size="3.9" text-anchor="start" font-weight="normal" fill="#333" transform="rotate(-90 178.85 121.20)" textLength="11.6" lengthAdjust="spacingAndGlyphs">M189</text>
<text x="182.98" y="121.20" font-size="3.9" text-anchor="start" font-weight="normal" fill="#333" transform="rotate(-90 182.98 121.20)" textLength="11.6" lengthAdjust="spacingAndGlyphs">M191</text>
<text x="187.11" y="121.20" font-size="3.9" text-anchor="start" font-weight="normal" fill="#333" transform="rotate(-90 187.11 121.20)" textLength="11.6" lengthAdjust="spacingAndGlyphs">M200</text>
<text x="191.24" y="121.20" font-size="3.9" text-anchor="start" font-weight="normal" fill="#333" transform="rotate(-90 191.24 121.20)" textLength="11.6" lengthAdjust="spacingAndGlyphs">M201</text>
<text x="195.36" y="121.20" font-size="3.9" text-anchor="start" font-weight="normal" fill="#333" transform="rotate(-90 195.36 121.20)" textLength="11.6" lengthAdjust="spacingAndGlyphs">M204</text>
<text x="199.49" y="121.20" font-size="3.9" text-anchor="start" font-weight="normal" fill="#333" transform="rotate(-90 199.49 121.20)" textLength="11.6" lengthAdjust="spacingAndGlyphs">M205</text>
<text x="203.62" y="121.20" font-size="3.9" text-anchor="start" font-weight="normal" fill="#333" transform="rotate(-90 203.62 121.20)" textLength="11.6" lengthAdjust="spacingAndGlyphs">M220</text>
<text x="207.75" y="121.20" font-size="3.9" text-anchor="start" font-weight="normal" fill="#333" transform="rotate(-90 207.75 121.20)" textLength="11.6" lengthAdjust="spacingAndGlyphs">M225</text>
<text x="211.88" y="121.20" font-size="3.9" text-anchor="start" font-weight="normal" fill="#333" transform="rotate(-90 211.88 121.20)" textLength="11.6" lengthAdjust="spacingAndGlyphs">M229</text>
<text x="216.00" y="121.20" font-size="3.9" text-anchor="start" font-weight="normal" fill="#333" transform="rotate(-90 216.00 121.20)" textLength="11.6" lengthAdjust="spacingAndGlyphs">M242</text>
<text x="220.13" y="121.20" font-size="3.9" text-anchor="start" font-weight="normal" fill="#333" transform="rotate(-90 220.13 121.20)" textLength="11.6" lengthAdjust="spacingAndGlyphs">M244</text>
<text x="224.26" y="121.20" font-size="3.9" text-anchor="start" font-weight="normal" fill="#333" transform="rotate(-90 224.26 121.20)" textLength="11.6" lengthAdjust="spacingAndGlyphs">M245</text>
<text x="228.39" y="121.20" font-size="3.9" text-anchor="start" font-weight="normal" fill="#333" transform="rotate(-90 228.39 121.20)" textLength="11.6" lengthAdjust="spacingAndGlyphs">M255</text>
<text x="232.52" y="121.20" font-size="3.9" text-anchor="start" font-weight="normal" fill="#333" transform="rotate(-90 232.52 121.20)" textLength="11.6" lengthAdjust="spacingAndGlyphs">M269</text>
<text x="236.64" y="121.20" font-size="3.9" text-anchor="start" font-weight="normal" fill="#333" transform="rotate(-90 236.64 121.20)" textLength="11.6" lengthAdjust="spacingAndGlyphs">M278</text>
<text x="240.77" y="121.20" font-size="3.9" text-anchor="start" font-weight="normal" fill="#333" transform="rotate(-90 240.77 121.20)" textLength="11.6" lengthAdjust="spacingAndGlyphs">M280</text>
<text x="244.90" y="121.20" font-size="3.9" text-anchor="start" font-weight="normal" fill="#333" transform="rotate(-90 244.90 121.20)" textLength="11.6" lengthAdjust="spacingAndGlyphs">M283</text>
<text x="249.03" y="121.20" font-size="3.9" text-anchor="start" font-weight="normal" fill="#333" transform="rotate(-90 249.03 121.20)" textLength="11.6" lengthAdjust="spacingAndGlyphs">M284</text>
<text x="253.16" y="121.20" font-size="3.9" text-anchor="start" font-weight="normal" fill="#333" transform="rotate(-90 253.16 121.20)" textLength="11.6" lengthAdjust="spacingAndGlyphs">M297</text>
<text x="257.28" y="121.20" font-size="3.9" text-anchor="start" font-weight="normal" fill="#333" transform="rotate(-90 257.28 121.20)" textLength="11.6" lengthAdjust="spacingAndGlyphs">M299</text>
<text x="261.41" y="121.20" font-size="3.9" text-anchor="start" font-weight="normal" fill="#333" transform="rotate(-90 261.41 121.20)" textLength="11.6" lengthAdjust="spacingAndGlyphs">M304</text>
<text x="265.54" y="121.20" font-size="3.9" text-anchor="start" font-weight="normal" fill="#333" transform="rotate(-90 265.54 121.20)" textLength="11.6" lengthAdjust="spacingAndGlyphs">M305</text>
<text x="269.67" y="121.20" font-size="3.9" text-anchor="start" font-weight="normal" fill="#333" transform="rotate(-90 269.67 121.20)" textLength="11.6" lengthAdjust="spacingAndGlyphs">M306</text>
<text x="273.80" y="121.20" font-size="3.9" text-anchor="start" font-weight="normal" fill="#333" transform="rotate(-90 273.80 121.20)" textLength="11.6" lengthAdjust="spacingAndGlyphs">M311</text>
<text x="277.92" y="121.20" font-size="3.9" text-anchor="start" font-weight="normal" fill="#333" transform="rotate(-90 277.92 121.20)" textLength="11.6" lengthAdjust="spacingAndGlyphs">M312</text>
<text x="282.05" y="121.20" font-size="3.9" text-anchor="start" font-weight="normal" fill="#333" transform="rotate(-90 282.05 121.20)" textLength="11.6" lengthAdjust="spacingAndGlyphs">M322</text>
<text x="286.18" y="121.20" font-size="3.9" text-anchor="start" font-weight="normal" fill="#333" transform="rotate(-90 286.18 121.20)" textLength="11.6" lengthAdjust="spacingAndGlyphs">M327</text>
<text x="290.31" y="121.20" font-size="3.9" text-anchor="start" font-weight="normal" fill="#333" transform="rotate(-90 290.31 121.20)" textLength="11.6" lengthAdjust="spacingAndGlyphs">M329</text>
<text x="294.44" y="121.20" font-size="3.9" text-anchor="start" font-weight="normal" fill="#333" transform="rotate(-90 294.44 121.20)" textLength="11.6" lengthAdjust="spacingAndGlyphs">M345</text>
<text x="298.56" y="121.20" font-size="3.9" text-anchor="start" font-weight="normal" fill="#333" transform="rotate(-90 298.56 121.20)" textLength="11.6" lengthAdjust="spacingAndGlyphs">M346</text>
<text x="302.69" y="121.20" font-size="3.9" text-anchor="start" font-weight="normal" fill="#333" transform="rotate(-90 302.69 121.20)" textLength="11.6" lengthAdjust="spacingAndGlyphs">M367</text>
<text x="306.82" y="121.20" font-size="3.9" text-anchor="start" font-weight="normal" fill="#333" transform="rotate(-90 306.82 121.20)" textLength="11.6" lengthAdjust="spacingAndGlyphs">M369</text>
<text x="310.95" y="121.20" font-size="3.9" text-anchor="start" font-weight="normal" fill="#333" transform="rotate(-90 310.95 121.20)" textLength="11.6" lengthAdjust="spacingAndGlyphs">M370</text>
<text x="315.08" y="121.20" font-size="3.9" text-anchor="start" font-weight="normal" fill="#333" transform="rotate(-90 315.08 121.20)" textLength="11.6" lengthAdjust="spacingAndGlyphs">M374</text>
<text x="319.20" y="121.20" font-size="3.9" text-anchor="start" font-weight="normal" fill="#333" transform="rotate(-90 319.20 121.20)" textLength="11.6" lengthAdjust="spacingAndGlyphs">M381</text>
<text x="323.33" y="121.20" font-size="3.9" text-anchor="start" font-weight="normal" fill="#333" transform="rotate(-90 323.33 121.20)" textLength="11.6" lengthAdjust="spacingAndGlyphs">M390</text>
<text x="327.46" y="121.20" font-size="3.9" text-anchor="start" font-weight="normal" fill="#333" transform="rotate(-90 327.46 121.20)" textLength="11.6" lengthAdjust="spacingAndGlyphs">M399</text>
<text x="331.59" y="121.20" font-size="3.9" text-anchor="start" font-weight="normal" fill="#333" transform="rotate(-90 331.59 121.20)" textLength="11.6" lengthAdjust="spacingAndGlyphs">M401</text>
<text x="335.72" y="121.20" font-size="3.9" text-anchor="start" font-weight="normal" fill="#333" transform="rotate(-90 335.72 121.20)" textLength="11.6" lengthAdjust="spacingAndGlyphs">M405</text>
<text x="339.84" y="121.20" font-size="3.9" text-anchor="start" font-weight="normal" fill="#333" transform="rotate(-90 339.84 121.20)" textLength="11.6" lengthAdjust="spacingAndGlyphs">M412</text>
<text x="86.60" y="128.20" font-size="4.45" text-anchor="start" font-weight="normal" fill="#2a2a2a">Subtype</text>
<rect x="87.20" y="132.10" width="4.60" height="4.60" fill="#4381c6" stroke="#1a1a1a" stroke-width="0.7"/>
<text x="95.00" y="136.10" font-size="4.45" text-anchor="start" font-weight="normal" fill="#2a2a2a">cMCL</text>
<rect x="87.20" y="139.70" width="4.60" height="4.60" fill="#f4cd1c" stroke="#1a1a1a" stroke-width="0.7"/>
<text x="95.00" y="143.70" font-size="4.45" text-anchor="start" font-weight="normal" fill="#2a2a2a">rnMCL</text>
<text x="121.30" y="128.20" font-size="4.45" text-anchor="start" font-weight="normal" fill="#2a2a2a">CNA</text>
<rect x="121.60" y="132.10" width="4.60" height="4.60" fill="#ffffff" stroke="#1a1a1a" stroke-width="0.7"/>
<text x="129.60" y="136.10" font-size="4.45" text-anchor="start" font-weight="normal" fill="#2a2a2a">0</text>
<rect x="121.60" y="139.80" width="4.60" height="4.60" fill="#e3b6dd" stroke="#1a1a1a" stroke-width="0.7"/>
<text x="129.60" y="143.80" font-size="4.45" text-anchor="start" font-weight="normal" fill="#2a2a2a">1-4</text>
<rect x="121.60" y="147.50" width="4.60" height="4.60" fill="#c990c6" stroke="#1a1a1a" stroke-width="0.7"/>
<text x="129.60" y="151.50" font-size="4.45" text-anchor="start" font-weight="normal" fill="#2a2a2a">5-9</text>
<rect x="121.60" y="155.20" width="4.60" height="4.60" fill="#7c3c99" stroke="#1a1a1a" stroke-width="0.7"/>
<text x="129.60" y="159.20" font-size="4.45" text-anchor="start" font-weight="normal" fill="#2a2a2a">10-14</text>
<rect x="121.60" y="162.90" width="4.60" height="4.60" fill="#5a2388" stroke="#1a1a1a" stroke-width="0.7"/>
<text x="129.60" y="166.90" font-size="4.45" text-anchor="start" font-weight="normal" fill="#2a2a2a">&gt;=15</text>
<text x="152.70" y="128.20" font-size="4.45" text-anchor="start" font-weight="normal" fill="#2a2a2a">SV</text>
<rect x="153.00" y="132.10" width="4.60" height="4.60" fill="#ffffff" stroke="#1a1a1a" stroke-width="0.7"/>
<text x="160.80" y="136.10" font-size="4.45" text-anchor="start" font-weight="normal" fill="#2a2a2a">0</text>
<rect x="153.00" y="139.80" width="4.60" height="4.60" fill="#b0cb52" stroke="#1a1a1a" stroke-width="0.7"/>
<text x="160.80" y="143.80" font-size="4.45" text-anchor="start" font-weight="normal" fill="#2a2a2a">1-4</text>
<rect x="153.00" y="147.50" width="4.60" height="4.60" fill="#8dbb3d" stroke="#1a1a1a" stroke-width="0.7"/>
<text x="160.80" y="151.50" font-size="4.45" text-anchor="start" font-weight="normal" fill="#2a2a2a">5-9</text>
<rect x="153.00" y="155.20" width="4.60" height="4.60" fill="#6b8b2c" stroke="#1a1a1a" stroke-width="0.7"/>
<text x="160.80" y="159.20" font-size="4.45" text-anchor="start" font-weight="normal" fill="#2a2a2a">10-14</text>
<rect x="153.00" y="162.90" width="4.60" height="4.60" fill="#23701f" stroke="#1a1a1a" stroke-width="0.7"/>
<text x="160.80" y="166.90" font-size="4.45" text-anchor="start" font-weight="normal" fill="#2a2a2a">&gt;=15</text>
<text x="184.20" y="128.20" font-size="4.45" text-anchor="start" font-weight="normal" fill="#2a2a2a">N homozygous deletion</text>
<rect x="184.40" y="132.10" width="4.60" height="4.60" fill="#ffffff" stroke="#1a1a1a" stroke-width="0.7"/>
<text x="192.30" y="136.10" font-size="4.45" text-anchor="start" font-weight="normal" fill="#2a2a2a">Not altered</text>
<rect x="184.40" y="139.80" width="4.60" height="4.60" fill="#d8401c" stroke="#1a1a1a" stroke-width="0.7"/>
<text x="192.30" y="143.80" font-size="4.45" text-anchor="start" font-weight="normal" fill="#2a2a2a">1 event</text>
<rect x="184.40" y="147.50" width="4.60" height="4.60" fill="#a01414" stroke="#1a1a1a" stroke-width="0.7"/>
<text x="192.30" y="151.50" font-size="4.45" text-anchor="start" font-weight="normal" fill="#2a2a2a">More than 1 event</text>
<text x="242.30" y="128.20" font-size="4.45" text-anchor="start" font-weight="normal" fill="#2a2a2a">N high copy gain</text>
<rect x="242.50" y="132.10" width="4.60" height="4.60" fill="#ffffff" stroke="#1a1a1a" stroke-width="0.7"/>
<text x="250.40" y="136.10" font-size="4.45" text-anchor="start" font-weight="normal" fill="#2a2a2a">Not altered</text>
<rect x="242.50" y="139.80" width="4.60" height="4.60" fill="#2c2586" stroke="#1a1a1a" stroke-width="0.7"/>
<text x="250.40" y="143.80" font-size="4.45" text-anchor="start" font-weight="normal" fill="#2a2a2a">1 event</text>
<rect x="242.50" y="147.50" width="4.60" height="4.60" fill="#27237a" stroke="#1a1a1a" stroke-width="0.7"/>
<text x="250.40" y="151.50" font-size="4.45" text-anchor="start" font-weight="normal" fill="#2a2a2a">More than 1 event</text>
<text x="298.00" y="128.20" font-size="4.45" text-anchor="start" font-weight="normal" fill="#2a2a2a">Complex alterations</text>
<rect x="298.20" y="132.10" width="4.60" height="4.60" fill="#ffffff" stroke="#1a1a1a" stroke-width="0.7"/>
<text x="306.20" y="136.10" font-size="4.45" text-anchor="start" font-weight="normal" fill="#2a2a2a">Not altered</text>
<rect x="298.20" y="139.80" width="4.60" height="4.60" fill="#b4b4b4" stroke="#1a1a1a" stroke-width="0.7"/>
<text x="306.20" y="143.80" font-size="4.45" text-anchor="start" font-weight="normal" fill="#2a2a2a">1 event</text>
<rect x="298.20" y="147.50" width="4.60" height="4.60" fill="#3e3e3e" stroke="#1a1a1a" stroke-width="0.7"/>
<text x="306.20" y="151.50" font-size="4.45" text-anchor="start" font-weight="normal" fill="#2a2a2a">More than 1 event</text>
<rect x="383.40" y="61.90" width="125.60" height="6.80" fill="#eef0f3"/>
<rect x="383.40" y="75.10" width="125.60" height="6.80" fill="#eef0f3"/>
<line x1="383.40" y1="65.70" x2="509.00" y2="65.70" stroke="#dfe1e6" stroke-width="0.6"/>
<line x1="383.40" y1="71.70" x2="509.00" y2="71.70" stroke="#e6e6e9" stroke-width="0.6"/>
<line x1="383.40" y1="78.40" x2="509.00" y2="78.40" stroke="#dcdee3" stroke-width="0.6"/>
<line x1="382.90" y1="59.40" x2="509.00" y2="59.40" stroke="#2a2a2a" stroke-width="1.1"/>
<line x1="383.90" y1="61.90" x2="383.90" y2="81.50" stroke="#222" stroke-width="0.9"/>
<line x1="380.40" y1="65.00" x2="383.90" y2="65.00" stroke="#222" stroke-width="0.9"/>
<text x="376.20" y="66.80" font-size="5.2" text-anchor="middle" font-weight="normal" fill="#333">2</text>
<line x1="380.40" y1="71.80" x2="383.90" y2="71.80" stroke="#222" stroke-width="0.9"/>
<text x="376.20" y="73.60" font-size="5.2" text-anchor="middle" font-weight="normal" fill="#333">1</text>
<line x1="380.40" y1="78.30" x2="383.90" y2="78.30" stroke="#222" stroke-width="0.9"/>
<text x="376.20" y="80.10" font-size="5.2" text-anchor="middle" font-weight="normal" fill="#333">0</text>
<text x="369.90" y="71.80" font-size="5.8" text-anchor="middle" font-weight="normal" fill="#2a2a2a" transform="rotate(-90 369.90 71.80)" textLength="29.5" lengthAdjust="spacingAndGlyphs">Copy number</text>
<line x1="410.30" y1="65.10" x2="418.80" y2="65.10" stroke="#f2c12e" stroke-width="1.3"/>
<line x1="404.20" y1="71.70" x2="509.00" y2="71.70" stroke="#f2c12e" stroke-width="1.3"/>
<line x1="410.30" y1="71.70" x2="418.80" y2="71.70" stroke="#2f5f5a" stroke-width="1.2"/>
<line x1="404.20" y1="78.30" x2="410.30" y2="78.30" stroke="#2f5f5a" stroke-width="1.2"/>
<line x1="418.80" y1="78.30" x2="509.00" y2="78.30" stroke="#2f5f5a" stroke-width="1.2"/>
<circle cx="507.5" cy="76.5" r="0.5" fill="#2f5f5a"/>
<line x1="447.80" y1="65.00" x2="450.20" y2="65.00" stroke="#f2c12e" stroke-width="1.3"/>
<line x1="474.60" y1="65.00" x2="476.00" y2="65.00" stroke="#f2c12e" stroke-width="1.3"/>
<line x1="500.10" y1="65.00" x2="501.10" y2="65.00" stroke="#f2c12e" stroke-width="1.3"/>
<line x1="447.80" y1="71.70" x2="450.20" y2="71.70" stroke="#2f5f5a" stroke-width="1.3"/>
<line x1="474.60" y1="71.70" x2="476.00" y2="71.70" stroke="#2f5f5a" stroke-width="1.3"/>
<line x1="507.60" y1="69.00" x2="507.60" y2="71.50" stroke="#f2c12e" stroke-width="0.8"/>
<path d="M419,39 C419,35.2 423,34.1 432,34.0 L480,34.0 C484,34.0 486.7,35.0 486.7,38" stroke="#4fa64f" stroke-width="0.95" fill="none"/>
<path d="M427.3,41 C427.3,37 430,35.2 438,35.0" stroke="#8fcb8a" stroke-width="0.75" fill="none"/>
<path d="M486.7,38 C486.7,35.5 490,34.5 494,34.5 C499,34.5 501.5,35.5 501.5,39" stroke="#8fcb8a" stroke-width="0.85" fill="none"/>
<ellipse cx="475" cy="39.4" rx="25.5" ry="5.0" fill="none" stroke="#8fcb8a" stroke-width="0.75"/>
<path d="M410.5,51 C410.5,47.5 418,46.5 430,46.5 L440,46.6 C445,46.8 447.6,47.3 447.6,50" stroke="#5b8fd6" stroke-width="0.75" fill="none"/>
<path d="M410.5,51 C410.5,55.5 418,57.8 425.5,57.8 C433,57.8 440.6,55.5 440.6,52.5" stroke="#d9504a" stroke-width="0.75" fill="none"/>
<path d="M418.8,52.5 C418.8,48.8 425,47.3 432,47.2 L445,47.2 C448.5,47.3 450.4,48.2 450.4,51" stroke="#d9504a" stroke-width="0.75" fill="none"/>
<path d="M447.6,50 C447.6,47.8 452,46.8 458,46.8 L470,46.8 C474,47 476.2,48 476.2,51" stroke="#5b8fd6" stroke-width="0.75" fill="none"/>
<path d="M450.4,51 C450.4,48.5 454,47.3 460,47.3 L494,47.3 C498,47.5 500,48.8 500,51.5" stroke="#d9504a" stroke-width="0.75" fill="none"/>
<path d="M480,51 C480,48.2 484,47.0 490,47.0 L496,47.0 C499.5,47.2 501.3,48.5 501.3,51" stroke="#5b8fd6" stroke-width="0.75" fill="none"/>
<path d="M476.2,51 C476.2,48.6 479,47.5 484,47.3" stroke="#5b8fd6" stroke-width="0.75" fill="none"/>
<line x1="410.40" y1="50.80" x2="410.40" y2="79.50" stroke="#5b8fd6" stroke-width="0.75"/>
<line x1="418.80" y1="52.00" x2="418.80" y2="79.50" stroke="#5b8fd6" stroke-width="0.75"/>
<line x1="419.20" y1="38.00" x2="419.20" y2="79.50" stroke="#8fcb8a" stroke-width="0.9"/>
<line x1="427.30" y1="40.00" x2="427.30" y2="79.50" stroke="#8fcb8a" stroke-width="0.9"/>
<line x1="440.60" y1="52.50" x2="440.60" y2="79.50" stroke="#d9504a" stroke-width="0.75"/>
<line x1="447.60" y1="49.00" x2="447.60" y2="79.50" stroke="#5b8fd6" stroke-width="0.75"/>
<line x1="450.40" y1="50.00" x2="450.40" y2="79.50" stroke="#d9504a" stroke-width="0.75"/>
<line x1="449.60" y1="39.00" x2="449.60" y2="79.50" stroke="#8fcb8a" stroke-width="0.8"/>
<line x1="474.40" y1="35.00" x2="474.40" y2="79.50" stroke="#8fcb8a" stroke-width="0.9"/>
<line x1="476.20" y1="50.00" x2="476.20" y2="79.50" stroke="#5b8fd6" stroke-width="0.75"/>
<line x1="480.00" y1="50.00" x2="480.00" y2="79.50" stroke="#5b8fd6" stroke-width="0.75"/>
<line x1="486.40" y1="36.00" x2="486.40" y2="79.50" stroke="#4fa64f" stroke-width="1.1"/>
<line x1="500.00" y1="51.00" x2="500.00" y2="79.50" stroke="#d9504a" stroke-width="0.75"/>
<line x1="501.30" y1="50.00" x2="501.30" y2="79.50" stroke="#5b8fd6" stroke-width="0.75"/>
<line x1="479.40" y1="39.00" x2="479.40" y2="79.50" stroke="#8fcb8a" stroke-width="0.6"/>
<line x1="501.60" y1="38.00" x2="501.60" y2="52.00" stroke="#8fcb8a" stroke-width="0.8"/>
<line x1="410.40" y1="32.50" x2="410.40" y2="50.80" stroke="#222" stroke-width="0.75"/>
<path d="M410.4,32.8 L410.4,31.7 L412.50,24.90" stroke="#222" stroke-width="0.7" fill="none"/>
<text x="413.40" y="23.60" font-size="4.8" text-anchor="middle" font-weight="normal" fill="#555">10</text>
<line x1="419.00" y1="33.00" x2="419.00" y2="38.50" stroke="#222" stroke-width="0.75"/>
<path d="M419.0,33.3 L419.0,32.2 L416.90,30.10" stroke="#222" stroke-width="0.7" fill="none"/>
<text x="416.00" y="28.80" font-size="4.8" text-anchor="middle" font-weight="normal" fill="#555">10</text>
<line x1="440.60" y1="32.50" x2="440.60" y2="52.50" stroke="#222" stroke-width="0.75"/>
<path d="M440.6,32.8 L440.6,31.7 L438.43,30.10" stroke="#222" stroke-width="0.7" fill="none"/>
<text x="437.50" y="28.80" font-size="4.8" text-anchor="middle" font-weight="normal" fill="#555">10</text>
<line x1="454.40" y1="32.50" x2="454.40" y2="79.50" stroke="#222" stroke-width="0.75"/>
<path d="M454.4,32.8 L454.4,31.7 L452.44,30.10" stroke="#222" stroke-width="0.7" fill="none"/>
<text x="451.60" y="28.80" font-size="4.8" text-anchor="middle" font-weight="normal" fill="#555">10</text>
<line x1="474.50" y1="32.80" x2="474.50" y2="35.50" stroke="#222" stroke-width="0.75"/>
<path d="M474.5,33.099999999999994 L474.5,31.999999999999996 L472.33,30.10" stroke="#222" stroke-width="0.7" fill="none"/>
<text x="471.40" y="28.80" font-size="4.8" text-anchor="middle" font-weight="normal" fill="#555">10</text>
<line x1="500.00" y1="32.50" x2="500.00" y2="51.00" stroke="#222" stroke-width="0.75"/>
<path d="M500.0,32.8 L500.0,31.7 L497.90,30.10" stroke="#222" stroke-width="0.7" fill="none"/>
<text x="497.00" y="28.80" font-size="4.8" text-anchor="middle" font-weight="normal" fill="#555">10</text>
<rect x="383.10" y="84.70" width="4.80" height="3.00" fill="#777" stroke="#333" stroke-width="0.4" rx="1.6"/>
<rect x="390.28" y="85.50" width="3.00" height="1.40" fill="#cfcfcf"/>
<rect x="393.77" y="84.60" width="8.19" height="3.20" fill="#8a8a8a" stroke="#444" stroke-width="0.4"/>
<path d="M401.75,84.50 L403.93,86.20 L401.75,87.90 Z" stroke="none" stroke-width="1" fill="#111"/>
<path d="M405.24,84.50 L403.38,86.20 L405.24,87.90 Z" stroke="none" stroke-width="1" fill="#111"/>
<rect x="405.02" y="84.50" width="102.32" height="3.40" fill="#fff" stroke="#222" stroke-width="0.5"/>
<rect x="407.42" y="84.75" width="1.64" height="2.90" fill="#bbb"/>
<rect x="410.70" y="84.75" width="3.28" height="2.90" fill="#ccc"/>
<rect x="416.16" y="84.75" width="1.75" height="2.90" fill="#111"/>
<rect x="420.53" y="84.75" width="2.73" height="2.90" fill="#bbb"/>
<rect x="425.44" y="84.75" width="4.91" height="2.90" fill="#111"/>
<rect x="433.09" y="84.75" width="1.64" height="2.90" fill="#ccc"/>
<rect x="437.45" y="84.75" width="2.18" height="2.90" fill="#ccc"/>
<rect x="444.01" y="84.75" width="4.37" height="2.90" fill="#111"/>
<rect x="451.10" y="84.75" width="1.09" height="2.90" fill="#aaa"/>
<rect x="456.02" y="84.75" width="4.37" height="2.90" fill="#111"/>
<rect x="463.66" y="84.75" width="1.64" height="2.90" fill="#aaa"/>
<rect x="469.12" y="84.75" width="9.83" height="2.90" fill="#111"/>
<rect x="481.13" y="84.75" width="5.46" height="2.90" fill="#111"/>
<rect x="488.23" y="84.75" width="1.09" height="2.90" fill="#aaa"/>
<rect x="494.24" y="84.75" width="3.28" height="2.90" fill="#111"/>
<rect x="499.70" y="84.75" width="3.28" height="2.90" fill="#111"/>
<path d="M507.01,84.50 L508.51,84.50 L510.21,86.20 L508.51,87.90 L507.01,87.90" stroke="#222" stroke-width="0.5" fill="#fff"/>
<line x1="383.40" y1="87.90" x2="383.40" y2="90.00" stroke="#222" stroke-width="0.7"/>
<text x="383.40" y="97.20" font-size="5.0" text-anchor="middle" font-weight="normal" fill="#333">0</text>
<line x1="405.24" y1="87.90" x2="405.24" y2="90.00" stroke="#222" stroke-width="0.7"/>
<text x="405.24" y="97.20" font-size="5.0" text-anchor="middle" font-weight="normal" fill="#333">20</text>
<line x1="427.08" y1="87.90" x2="427.08" y2="90.00" stroke="#222" stroke-width="0.7"/>
<text x="427.08" y="97.20" font-size="5.0" text-anchor="middle" font-weight="normal" fill="#333">40</text>
<line x1="448.92" y1="87.90" x2="448.92" y2="90.00" stroke="#222" stroke-width="0.7"/>
<text x="448.92" y="97.20" font-size="5.0" text-anchor="middle" font-weight="normal" fill="#333">60</text>
<line x1="470.76" y1="87.90" x2="470.76" y2="90.00" stroke="#222" stroke-width="0.7"/>
<text x="470.76" y="97.20" font-size="5.0" text-anchor="middle" font-weight="normal" fill="#333">80</text>
<line x1="492.60" y1="87.90" x2="492.60" y2="90.00" stroke="#222" stroke-width="0.7"/>
<text x="492.60" y="97.20" font-size="5.0" text-anchor="middle" font-weight="normal" fill="#333">100</text>
<text x="508.80" y="106.60" font-size="4.45" text-anchor="end" font-weight="normal" fill="#2a2a2a" textLength="34.0" lengthAdjust="spacingAndGlyphs">M396: chr13 (Mb)</text>
<line x1="383.60" y1="117.00" x2="383.60" y2="166.80" stroke="#222" stroke-width="0.9"/>
<line x1="383.20" y1="166.40" x2="513.00" y2="166.40" stroke="#222" stroke-width="0.9"/>
<line x1="380.60" y1="166.10" x2="383.60" y2="166.10" stroke="#222" stroke-width="0.9"/>
<text x="376.20" y="167.90" font-size="5.0" text-anchor="middle" font-weight="normal" fill="#333">0</text>
<line x1="380.60" y1="152.84" x2="383.60" y2="152.84" stroke="#222" stroke-width="0.9"/>
<text x="376.20" y="154.64" font-size="5.0" text-anchor="middle" font-weight="normal" fill="#333">2</text>
<line x1="380.60" y1="139.58" x2="383.60" y2="139.58" stroke="#222" stroke-width="0.9"/>
<text x="376.20" y="141.38" font-size="5.0" text-anchor="middle" font-weight="normal" fill="#333">4</text>
<line x1="380.60" y1="126.32" x2="383.60" y2="126.32" stroke="#222" stroke-width="0.9"/>
<text x="376.20" y="128.12" font-size="5.0" text-anchor="middle" font-weight="normal" fill="#333">6</text>
<text x="370.10" y="141.60" font-size="6.0" text-anchor="middle" font-weight="normal" fill="#2a2a2a" transform="rotate(-90 370.10 141.60)" textLength="44.0" lengthAdjust="spacingAndGlyphs">Patients with CT (n)</text>
<line x1="387.00" y1="166.40" x2="387.00" y2="168.80" stroke="#222" stroke-width="0.8"/>
<text x="387.00" y="176.40" font-size="4.7" text-anchor="middle" font-weight="normal" fill="#333">1</text>
<rect x="384.90" y="119.99" width="4.30" height="46.41" fill="#3f78c6"/>
<line x1="392.85" y1="166.40" x2="392.85" y2="168.80" stroke="#222" stroke-width="0.8"/>
<text x="392.85" y="176.40" font-size="4.7" text-anchor="middle" font-weight="normal" fill="#333">2</text>
<rect x="390.75" y="159.77" width="4.30" height="6.63" fill="#3f78c6"/>
<line x1="398.70" y1="166.40" x2="398.70" y2="168.80" stroke="#222" stroke-width="0.8"/>
<text x="398.70" y="176.40" font-size="4.7" text-anchor="middle" font-weight="normal" fill="#333">3</text>
<rect x="396.60" y="159.77" width="4.30" height="6.63" fill="#3f78c6"/>
<line x1="404.55" y1="166.40" x2="404.55" y2="168.80" stroke="#222" stroke-width="0.8"/>
<text x="404.55" y="176.40" font-size="4.7" text-anchor="middle" font-weight="normal" fill="#333">4</text>
<line x1="410.40" y1="166.40" x2="410.40" y2="168.80" stroke="#222" stroke-width="0.8"/>
<text x="410.40" y="176.40" font-size="4.7" text-anchor="middle" font-weight="normal" fill="#333">5</text>
<rect x="408.30" y="153.14" width="4.30" height="13.26" fill="#f4cd1c"/>
<line x1="416.25" y1="166.40" x2="416.25" y2="168.80" stroke="#222" stroke-width="0.8"/>
<text x="416.25" y="176.40" font-size="4.7" text-anchor="middle" font-weight="normal" fill="#333">6</text>
<rect x="414.15" y="159.77" width="4.30" height="6.63" fill="#3f78c6"/>
<line x1="422.10" y1="166.40" x2="422.10" y2="168.80" stroke="#222" stroke-width="0.8"/>
<text x="422.10" y="176.40" font-size="4.7" text-anchor="middle" font-weight="normal" fill="#333">7</text>
<rect x="420.00" y="159.77" width="4.30" height="6.63" fill="#3f78c6"/>
<line x1="427.95" y1="166.40" x2="427.95" y2="168.80" stroke="#222" stroke-width="0.8"/>
<text x="427.95" y="176.40" font-size="4.7" text-anchor="middle" font-weight="normal" fill="#333">8</text>
<rect x="425.85" y="159.77" width="4.30" height="6.63" fill="#f4cd1c"/>
<line x1="433.80" y1="166.40" x2="433.80" y2="168.80" stroke="#222" stroke-width="0.8"/>
<text x="433.80" y="176.40" font-size="4.7" text-anchor="middle" font-weight="normal" fill="#333">9</text>
<rect x="431.70" y="159.77" width="4.30" height="6.63" fill="#3f78c6"/>
<line x1="439.65" y1="166.40" x2="439.65" y2="168.80" stroke="#222" stroke-width="0.8"/>
<text x="439.65" y="176.40" font-size="4.7" text-anchor="middle" font-weight="normal" fill="#333">10</text>
<rect x="437.55" y="153.14" width="4.30" height="13.26" fill="#3f78c6"/>
<line x1="445.50" y1="166.40" x2="445.50" y2="168.80" stroke="#222" stroke-width="0.8"/>
<text x="445.50" y="176.40" font-size="4.7" text-anchor="middle" font-weight="normal" fill="#333">11</text>
<line x1="451.35" y1="166.40" x2="451.35" y2="168.80" stroke="#222" stroke-width="0.8"/>
<text x="451.35" y="176.40" font-size="4.7" text-anchor="middle" font-weight="normal" fill="#333">12</text>
<rect x="449.25" y="159.77" width="4.30" height="6.63" fill="#f4cd1c"/>
<rect x="449.25" y="146.51" width="4.30" height="13.26" fill="#3f78c6"/>
<line x1="457.20" y1="166.40" x2="457.20" y2="168.80" stroke="#222" stroke-width="0.8"/>
<text x="457.20" y="176.40" font-size="4.7" text-anchor="middle" font-weight="normal" fill="#333">13</text>
<rect x="455.10" y="153.14" width="4.30" height="13.26" fill="#f4cd1c"/>
<rect x="455.10" y="139.88" width="4.30" height="13.26" fill="#3f78c6"/>
<line x1="463.05" y1="166.40" x2="463.05" y2="168.80" stroke="#222" stroke-width="0.8"/>
<text x="463.05" y="176.40" font-size="4.7" text-anchor="middle" font-weight="normal" fill="#333">14</text>
<line x1="468.90" y1="166.40" x2="468.90" y2="168.80" stroke="#222" stroke-width="0.8"/>
<text x="468.90" y="176.40" font-size="4.7" text-anchor="middle" font-weight="normal" fill="#333">15</text>
<rect x="466.80" y="159.77" width="4.30" height="6.63" fill="#3f78c6"/>
<line x1="474.75" y1="166.40" x2="474.75" y2="168.80" stroke="#222" stroke-width="0.8"/>
<text x="474.75" y="176.40" font-size="4.7" text-anchor="middle" font-weight="normal" fill="#333">16</text>
<line x1="480.60" y1="166.40" x2="480.60" y2="168.80" stroke="#222" stroke-width="0.8"/>
<text x="480.60" y="176.40" font-size="4.7" text-anchor="middle" font-weight="normal" fill="#333">17</text>
<line x1="486.45" y1="166.40" x2="486.45" y2="168.80" stroke="#222" stroke-width="0.8"/>
<text x="486.45" y="176.40" font-size="4.7" text-anchor="middle" font-weight="normal" fill="#333">18</text>
<line x1="492.30" y1="166.40" x2="492.30" y2="168.80" stroke="#222" stroke-width="0.8"/>
<text x="492.30" y="176.40" font-size="4.7" text-anchor="middle" font-weight="normal" fill="#333">19</text>
<rect x="490.20" y="159.77" width="4.30" height="6.63" fill="#3f78c6"/>
<line x1="498.15" y1="166.40" x2="498.15" y2="168.80" stroke="#222" stroke-width="0.8"/>
<text x="498.15" y="176.40" font-size="4.7" text-anchor="middle" font-weight="normal" fill="#333">20</text>
<line x1="504.00" y1="166.40" x2="504.00" y2="168.80" stroke="#222" stroke-width="0.8"/>
<text x="504.00" y="176.40" font-size="4.7" text-anchor="middle" font-weight="normal" fill="#333">21</text>
<line x1="509.85" y1="166.40" x2="509.85" y2="168.80" stroke="#222" stroke-width="0.8"/>
<text x="509.85" y="176.40" font-size="4.7" text-anchor="middle" font-weight="normal" fill="#333">22</text>
<rect x="492.00" y="117.10" width="4.20" height="4.20" fill="#3f78c6"/>
<text x="499.20" y="121.00" font-size="4.45" text-anchor="start" font-weight="normal" fill="#2a2a2a">cMCL</text>
<rect x="492.00" y="124.90" width="4.20" height="4.20" fill="#f4cd1c"/>
<text x="499.20" y="128.80" font-size="4.45" text-anchor="start" font-weight="normal" fill="#2a2a2a">rnMCL</text>
<text x="448.10" y="185.80" font-size="6.4" text-anchor="middle" font-weight="normal" fill="#2a2a2a" textLength="30.2" lengthAdjust="spacingAndGlyphs">Chromosome</text>
<text x="15.20" y="205.00" font-size="6.4" text-anchor="start" font-weight="normal" fill="#2a2a2a">M057</text>
<circle cx="83.3" cy="276.1" r="62.7" fill="#f4f8fb"/>
<circle cx="83.3" cy="276.1" r="43.0" fill="#ffffff"/>
<circle cx="83.3" cy="276.1" r="45.9" fill="none" stroke="#d3dce6" stroke-width="0.8"/>
<circle cx="83.3" cy="276.1" r="47.9" fill="none" stroke="#d3dce6" stroke-width="0.8"/>
<circle cx="83.3" cy="276.1" r="50.2" fill="none" stroke="#d3dce6" stroke-width="0.8"/>
<circle cx="83.3" cy="276.1" r="54.8" fill="none" stroke="#d3dce6" stroke-width="0.8"/>
<circle cx="83.3" cy="276.1" r="56.9" fill="none" stroke="#d3dce6" stroke-width="0.8"/>
<circle cx="83.3" cy="276.1" r="58.9" fill="none" stroke="#d3dce6" stroke-width="0.8"/>
<circle cx="83.3" cy="276.1" r="61.4" fill="none" stroke="#bfdfee" stroke-width="0.9"/>
<circle cx="83.3" cy="276.1" r="43.0" fill="none" stroke="#acd5ea" stroke-width="1.2"/>
<circle cx="83.3" cy="276.1" r="52.7" fill="none" stroke="#111" stroke-width="1.05" stroke-dasharray="2.2,1.5"/>
<line x1="83.30" y1="233.10" x2="83.30" y2="214.70" stroke="#acd6ea" stroke-width="1.5"/>
<line x1="104.80" y1="313.34" x2="114.00" y2="329.27" stroke="#acd6ea" stroke-width="1.5"/>
<line x1="41.97" y1="264.25" x2="24.28" y2="259.18" stroke="#acd6ea" stroke-width="1.5"/>
<path d="M83.30,208.20 A67.9,67.9 0 0 1 117.25,334.90 L114.65,330.40 A62.7,62.7 0 0 0 83.30,213.40 Z" stroke="none" stroke-width="0" fill="#468a83"/>
<path d="M89.01,208.74 A67.60000000000001,67.60000000000001 0 0 1 92.39,209.11 L91.77,213.67 A63.0,63.0 0 0 0 88.63,213.33 Z" stroke="none" stroke-width="0" fill="#a6d5cd"/>
<path d="M93.11,209.22 A67.60000000000001,67.60000000000001 0 0 1 96.47,209.80 L95.58,214.31 A63.0,63.0 0 0 0 92.44,213.77 Z" stroke="none" stroke-width="0" fill="#1c4743"/>
<path d="M98.03,210.12 A67.60000000000001,67.60000000000001 0 0 1 99.77,210.54 L98.65,215.00 A63.0,63.0 0 0 0 97.03,214.61 Z" stroke="none" stroke-width="0" fill="#a6d5cd"/>
<path d="M100.35,210.68 A67.60000000000001,67.60000000000001 0 0 1 104.73,211.99 L103.27,216.35 A63.0,63.0 0 0 0 99.19,215.14 Z" stroke="none" stroke-width="0" fill="#1c4743"/>
<path d="M111.39,214.61 A67.60000000000001,67.60000000000001 0 0 1 114.81,216.29 L112.67,220.36 A63.0,63.0 0 0 0 109.48,218.80 Z" stroke="none" stroke-width="0" fill="#a6d5cd"/>
<path d="M115.25,216.53 A67.60000000000001,67.60000000000001 0 0 1 118.27,218.25 L115.89,222.18 A63.0,63.0 0 0 0 113.07,220.58 Z" stroke="none" stroke-width="0" fill="#a6d5cd"/>
<path d="M118.90,218.63 A67.60000000000001,67.60000000000001 0 0 1 120.88,219.91 L118.32,223.73 A63.0,63.0 0 0 0 116.48,222.54 Z" stroke="none" stroke-width="0" fill="#a6d5cd"/>
<path d="M125.30,223.13 A67.60000000000001,67.60000000000001 0 0 1 128.29,225.64 L125.23,229.08 A63.0,63.0 0 0 0 122.44,226.73 Z" stroke="none" stroke-width="0" fill="#a6d5cd"/>
<path d="M129.33,226.59 A67.60000000000001,67.60000000000001 0 0 1 131.62,228.82 L128.33,232.04 A63.0,63.0 0 0 0 126.20,229.96 Z" stroke="none" stroke-width="0" fill="#a6d5cd"/>
<path d="M137.26,235.38 A67.60000000000001,67.60000000000001 0 0 1 138.81,237.52 L135.03,240.14 A63.0,63.0 0 0 0 133.59,238.15 Z" stroke="none" stroke-width="0" fill="#a6d5cd"/>
<path d="M140.79,240.53 A67.60000000000001,67.60000000000001 0 0 1 143.13,244.62 L139.05,246.77 A63.0,63.0 0 0 0 136.88,242.95 Z" stroke="none" stroke-width="0" fill="#a6d5cd"/>
<path d="M143.95,246.25 A67.60000000000001,67.60000000000001 0 0 1 145.89,250.55 L141.63,252.29 A63.0,63.0 0 0 0 139.83,248.29 Z" stroke="none" stroke-width="0" fill="#a6d5cd"/>
<path d="M146.17,251.27 A67.60000000000001,67.60000000000001 0 0 1 147.82,255.94 L143.43,257.31 A63.0,63.0 0 0 0 141.90,252.96 Z" stroke="none" stroke-width="0" fill="#a6d5cd"/>
<path d="M148.35,257.73 A67.60000000000001,67.60000000000001 0 0 1 149.10,260.59 L144.62,261.65 A63.0,63.0 0 0 0 143.93,258.98 Z" stroke="none" stroke-width="0" fill="#a6d5cd"/>
<path d="M149.40,261.92 A67.60000000000001,67.60000000000001 0 0 1 150.19,266.30 L145.63,266.97 A63.0,63.0 0 0 0 144.90,262.89 Z" stroke="none" stroke-width="0" fill="#a6d5cd"/>
<path d="M150.72,271.12 A67.60000000000001,67.60000000000001 0 0 1 150.83,272.99 L146.23,273.20 A63.0,63.0 0 0 0 146.13,271.46 Z" stroke="none" stroke-width="0" fill="#a6d5cd"/>
<path d="M150.90,275.98 A67.60000000000001,67.60000000000001 0 0 1 150.81,279.57 L146.22,279.33 A63.0,63.0 0 0 0 146.30,275.99 Z" stroke="none" stroke-width="0" fill="#a6d5cd"/>
<path d="M150.77,280.31 A67.60000000000001,67.60000000000001 0 0 1 150.37,284.56 L145.81,283.98 A63.0,63.0 0 0 0 146.18,280.02 Z" stroke="none" stroke-width="0" fill="#a6d5cd"/>
<path d="M150.18,285.93 A67.60000000000001,67.60000000000001 0 0 1 149.88,287.77 L145.35,286.98 A63.0,63.0 0 0 0 145.63,285.26 Z" stroke="none" stroke-width="0" fill="#a6d5cd"/>
<path d="M144.26,305.33 A67.60000000000001,67.60000000000001 0 0 1 143.10,307.62 L139.03,305.48 A63.0,63.0 0 0 0 140.11,303.34 Z" stroke="none" stroke-width="0" fill="#a6d5cd"/>
<path d="M142.82,308.15 A67.60000000000001,67.60000000000001 0 0 1 140.98,311.35 L137.06,308.95 A63.0,63.0 0 0 0 138.77,305.97 Z" stroke="none" stroke-width="0" fill="#a6d5cd"/>
<path d="M140.28,312.47 A67.60000000000001,67.60000000000001 0 0 1 138.69,314.85 L134.92,312.21 A63.0,63.0 0 0 0 136.41,309.99 Z" stroke="none" stroke-width="0" fill="#a6d5cd"/>
<path d="M137.62,316.33 A67.60000000000001,67.60000000000001 0 0 1 135.60,318.94 L132.04,316.02 A63.0,63.0 0 0 0 133.93,313.59 Z" stroke="none" stroke-width="0" fill="#a6d5cd"/>
<path d="M134.50,320.24 A67.60000000000001,67.60000000000001 0 0 1 133.09,321.83 L129.70,318.71 A63.0,63.0 0 0 0 131.02,317.23 Z" stroke="none" stroke-width="0" fill="#a6d5cd"/>
<path d="M131.88,323.10 A67.60000000000001,67.60000000000001 0 0 1 128.58,326.30 L125.49,322.88 A63.0,63.0 0 0 0 128.58,319.91 Z" stroke="none" stroke-width="0" fill="#a6d5cd"/>
<path d="M118.81,333.62 A67.60000000000001,67.60000000000001 0 0 1 117.41,334.47 L115.09,330.49 A63.0,63.0 0 0 0 116.39,329.71 Z" stroke="none" stroke-width="0" fill="#a6d5cd"/>
<path d="M97.42,209.68 A67.9,67.9 0 0 1 99.73,210.22 L98.47,215.26 A62.7,62.7 0 0 0 96.34,214.77 Z" stroke="none" stroke-width="0" fill="#1c4743"/>
<path d="M147.88,297.08 A67.9,67.9 0 0 1 146.69,300.43 L141.84,298.57 A62.7,62.7 0 0 0 142.93,295.48 Z" stroke="none" stroke-width="0" fill="#1c4743"/>
<path d="M136.81,317.90 A67.9,67.9 0 0 1 134.54,320.65 L130.62,317.23 A62.7,62.7 0 0 0 132.71,314.70 Z" stroke="none" stroke-width="0" fill="#1c4743"/>
<path d="M124.45,222.09 A67.9,67.9 0 0 1 127.04,224.16 L123.69,228.14 A62.7,62.7 0 0 0 121.30,226.22 Z" stroke="none" stroke-width="0" fill="#8a6a5e"/>
<path d="M117.25,334.90 A67.9,67.9 0 0 1 18.03,257.38 L23.03,258.82 A62.7,62.7 0 0 0 114.65,330.40 Z" stroke="none" stroke-width="0" fill="#86c99c"/>
<path d="M116.21,335.15 A67.60000000000001,67.60000000000001 0 0 1 112.68,336.98 L110.68,332.84 A63.0,63.0 0 0 0 113.97,331.13 Z" stroke="none" stroke-width="0" fill="#2a6646"/>
<path d="M112.07,337.27 A67.60000000000001,67.60000000000001 0 0 1 110.75,337.88 L108.88,333.67 A63.0,63.0 0 0 0 110.11,333.11 Z" stroke="none" stroke-width="0" fill="#b4e2c2"/>
<path d="M104.45,340.31 A67.60000000000001,67.60000000000001 0 0 1 101.01,341.34 L99.80,336.90 A63.0,63.0 0 0 0 103.01,335.94 Z" stroke="none" stroke-width="0" fill="#2a6646"/>
<path d="M100.35,341.51 A67.60000000000001,67.60000000000001 0 0 1 97.31,342.23 L96.36,337.73 A63.0,63.0 0 0 0 99.19,337.06 Z" stroke="none" stroke-width="0" fill="#b4e2c2"/>
<path d="M93.40,342.94 A67.60000000000001,67.60000000000001 0 0 1 89.34,343.43 L88.93,338.85 A63.0,63.0 0 0 0 92.71,338.39 Z" stroke="none" stroke-width="0" fill="#b4e2c2"/>
<path d="M88.29,343.52 A67.60000000000001,67.60000000000001 0 0 1 83.60,343.70 L83.58,339.10 A63.0,63.0 0 0 0 87.95,338.93 Z" stroke="none" stroke-width="0" fill="#b4e2c2"/>
<path d="M83.05,343.70 A67.60000000000001,67.60000000000001 0 0 1 78.07,343.50 L78.43,338.91 A63.0,63.0 0 0 0 83.06,339.10 Z" stroke="none" stroke-width="0" fill="#b4e2c2"/>
<path d="M71.63,342.69 A67.60000000000001,67.60000000000001 0 0 1 68.63,342.09 L69.63,337.60 A63.0,63.0 0 0 0 72.43,338.15 Z" stroke="none" stroke-width="0" fill="#b4e2c2"/>
<path d="M67.74,341.88 A67.60000000000001,67.60000000000001 0 0 1 64.03,340.90 L65.34,336.49 A63.0,63.0 0 0 0 68.80,337.41 Z" stroke="none" stroke-width="0" fill="#b4e2c2"/>
<path d="M62.64,340.47 A67.60000000000001,67.60000000000001 0 0 1 61.11,339.95 L62.62,335.61 A63.0,63.0 0 0 0 64.05,336.09 Z" stroke="none" stroke-width="0" fill="#b4e2c2"/>
<path d="M59.58,339.40 A67.60000000000001,67.60000000000001 0 0 1 56.82,338.30 L58.62,334.06 A63.0,63.0 0 0 0 61.19,335.09 Z" stroke="none" stroke-width="0" fill="#b4e2c2"/>
<path d="M55.61,337.77 A67.60000000000001,67.60000000000001 0 0 1 52.66,336.36 L54.74,332.26 A63.0,63.0 0 0 0 57.49,333.57 Z" stroke="none" stroke-width="0" fill="#b4e2c2"/>
<path d="M46.92,333.08 A67.60000000000001,67.60000000000001 0 0 1 43.61,330.82 L46.31,327.10 A63.0,63.0 0 0 0 49.40,329.20 Z" stroke="none" stroke-width="0" fill="#b4e2c2"/>
<path d="M39.13,327.27 A67.60000000000001,67.60000000000001 0 0 1 37.39,325.72 L40.52,322.34 A63.0,63.0 0 0 0 42.14,323.79 Z" stroke="none" stroke-width="0" fill="#b4e2c2"/>
<path d="M36.52,324.90 A67.60000000000001,67.60000000000001 0 0 1 33.33,321.63 L36.73,318.53 A63.0,63.0 0 0 0 39.70,321.58 Z" stroke="none" stroke-width="0" fill="#b4e2c2"/>
<path d="M32.99,321.25 A67.60000000000001,67.60000000000001 0 0 1 30.02,317.71 L33.65,314.88 A63.0,63.0 0 0 0 36.41,318.18 Z" stroke="none" stroke-width="0" fill="#b4e2c2"/>
<path d="M29.29,316.75 A67.60000000000001,67.60000000000001 0 0 1 27.95,314.91 L31.72,312.27 A63.0,63.0 0 0 0 32.96,313.99 Z" stroke="none" stroke-width="0" fill="#b4e2c2"/>
<path d="M27.37,314.07 A67.60000000000001,67.60000000000001 0 0 1 25.01,310.33 L28.97,308.00 A63.0,63.0 0 0 0 31.17,311.48 Z" stroke="none" stroke-width="0" fill="#b4e2c2"/>
<path d="M23.14,306.93 A67.60000000000001,67.60000000000001 0 0 1 22.04,304.69 L26.21,302.74 A63.0,63.0 0 0 0 27.23,304.83 Z" stroke="none" stroke-width="0" fill="#b4e2c2"/>
<path d="M21.47,303.44 A67.60000000000001,67.60000000000001 0 0 1 20.84,301.95 L25.09,300.19 A63.0,63.0 0 0 0 25.68,301.58 Z" stroke="none" stroke-width="0" fill="#b4e2c2"/>
<path d="M20.55,301.24 A67.60000000000001,67.60000000000001 0 0 1 19.66,298.89 L23.99,297.34 A63.0,63.0 0 0 0 24.82,299.53 Z" stroke="none" stroke-width="0" fill="#b4e2c2"/>
<path d="M17.93,293.32 A67.60000000000001,67.60000000000001 0 0 1 16.83,288.43 L21.36,287.59 A63.0,63.0 0 0 0 22.38,292.15 Z" stroke="none" stroke-width="0" fill="#b4e2c2"/>
<path d="M15.79,279.53 A67.60000000000001,67.60000000000001 0 0 1 15.71,277.18 L20.31,277.10 A63.0,63.0 0 0 0 20.38,279.30 Z" stroke="none" stroke-width="0" fill="#b4e2c2"/>
<path d="M15.90,270.94 A67.60000000000001,67.60000000000001 0 0 1 16.24,267.58 L20.80,268.16 A63.0,63.0 0 0 0 20.48,271.29 Z" stroke="none" stroke-width="0" fill="#b4e2c2"/>
<path d="M17.43,260.90 A67.60000000000001,67.60000000000001 0 0 1 17.99,258.66 L22.43,259.85 A63.0,63.0 0 0 0 21.91,261.94 Z" stroke="none" stroke-width="0" fill="#b4e2c2"/>
<path d="M63.90,341.17 A67.9,67.9 0 0 1 60.75,340.14 L62.47,335.24 A62.7,62.7 0 0 0 65.39,336.19 Z" stroke="none" stroke-width="0" fill="#8a6a5e"/>
<path d="M18.03,257.38 A67.9,67.9 0 0 1 83.30,208.20 L83.30,213.40 A62.7,62.7 0 0 0 23.03,258.82 Z" stroke="none" stroke-width="0" fill="#ecda62"/>
<path d="M20.40,251.33 A67.60000000000001,67.60000000000001 0 0 1 21.22,249.36 L25.44,251.18 A63.0,63.0 0 0 0 24.68,253.02 Z" stroke="none" stroke-width="0" fill="#f4eba4"/>
<path d="M22.74,246.06 A67.60000000000001,67.60000000000001 0 0 1 24.37,242.98 L28.38,245.24 A63.0,63.0 0 0 0 26.86,248.11 Z" stroke="none" stroke-width="0" fill="#f4eba4"/>
<path d="M27.15,238.45 A67.60000000000001,67.60000000000001 0 0 1 27.99,237.24 L31.75,239.88 A63.0,63.0 0 0 0 30.97,241.02 Z" stroke="none" stroke-width="0" fill="#f4eba4"/>
<path d="M36.83,227.00 A67.60000000000001,67.60000000000001 0 0 1 40.20,224.02 L43.14,227.56 A63.0,63.0 0 0 0 39.99,230.35 Z" stroke="none" stroke-width="0" fill="#f4eba4"/>
<path d="M45.20,220.26 A67.60000000000001,67.60000000000001 0 0 1 47.79,218.58 L50.21,222.49 A63.0,63.0 0 0 0 47.79,224.06 Z" stroke="none" stroke-width="0" fill="#f4eba4"/>
<path d="M48.72,218.02 A67.60000000000001,67.60000000000001 0 0 1 51.01,216.71 L53.21,220.75 A63.0,63.0 0 0 0 51.07,221.97 Z" stroke="none" stroke-width="0" fill="#f4eba4"/>
<path d="M61.85,211.99 A67.60000000000001,67.60000000000001 0 0 1 65.73,210.82 L66.93,215.26 A63.0,63.0 0 0 0 63.31,216.35 Z" stroke="none" stroke-width="0" fill="#f4eba4"/>
<path d="M73.56,209.21 A67.60000000000001,67.60000000000001 0 0 1 75.46,208.96 L76.00,213.52 A63.0,63.0 0 0 0 74.22,213.76 Z" stroke="none" stroke-width="0" fill="#f4eba4"/>
<path d="M76.26,208.87 A67.60000000000001,67.60000000000001 0 0 1 78.59,208.66 L78.91,213.25 A63.0,63.0 0 0 0 76.74,213.44 Z" stroke="none" stroke-width="0" fill="#f4eba4"/>
<path d="M48.33,217.90 A67.9,67.9 0 0 1 60.08,212.29 L61.86,217.18 A62.7,62.7 0 0 0 51.01,222.36 Z" stroke="none" stroke-width="0" fill="#8c7e24"/>
<path d="M34.70,228.68 A67.9,67.9 0 0 1 37.08,226.36 L40.62,230.17 A62.7,62.7 0 0 0 38.43,232.31 Z" stroke="none" stroke-width="0" fill="#e0882e"/>
<path d="M83.48,208.50 A67.60000000000001,67.60000000000001 0 0 1 117.25,334.55" stroke="#1c4743" stroke-width="0.8" fill="none"/>
<path d="M83.46,213.10 A63.0,63.0 0 0 1 114.94,330.58" stroke="#1c4743" stroke-width="0.7" fill="none"/>
<path d="M116.95,334.73 A67.60000000000001,67.60000000000001 0 0 1 18.27,257.64" stroke="#2a6646" stroke-width="0.8" fill="none"/>
<path d="M114.66,330.74 A63.0,63.0 0 0 1 22.70,258.89" stroke="#2a6646" stroke-width="0.7" fill="none"/>
<path d="M18.37,257.30 A67.60000000000001,67.60000000000001 0 0 1 83.12,208.50" stroke="#8c7e24" stroke-width="0.8" fill="none"/>
<path d="M22.79,258.58 A63.0,63.0 0 0 1 83.14,213.10" stroke="#8c7e24" stroke-width="0.7" fill="none"/>
<line x1="83.30" y1="213.40" x2="83.30" y2="208.20" stroke="#1c2a28" stroke-width="0.6"/>
<line x1="114.65" y1="330.40" x2="117.25" y2="334.90" stroke="#1c2a28" stroke-width="0.6"/>
<line x1="23.03" y1="258.82" x2="18.03" y2="257.38" stroke="#1c2a28" stroke-width="0.6"/>
<path d="M82.8,208.2 C82.8,205 84.8,202.5 87.3,201.5" stroke="#222" stroke-width="0.6" fill="none"/>
<text x="87.40" y="203.90" font-size="4.3" text-anchor="start" font-weight="normal" fill="#2a2a2a">TERT</text>
<text x="35.00" y="223.80" font-size="4.2" text-anchor="middle" font-weight="normal" fill="#444" transform="rotate(-45 35.00 223.80)">16</text>
<text x="152.00" y="255.00" font-size="4.2" text-anchor="middle" font-weight="normal" fill="#444" transform="rotate(70 152.00 255.00)">5</text>
<text x="38.50" y="336.50" font-size="4.2" text-anchor="middle" font-weight="normal" fill="#444" transform="rotate(-140 38.50 336.50)">6</text>
<path d="M83.70,224.90 A51.2,51.2 0 0 1 84.51,224.91 L84.45,227.31 A48.8,48.8 0 0 0 83.68,227.30 Z" stroke="none" stroke-width="0" fill="#d83b1e"/>
<path d="M88.70,225.19 A51.2,51.2 0 0 1 89.50,225.28 L89.20,227.66 A48.8,48.8 0 0 0 88.44,227.57 Z" stroke="none" stroke-width="0" fill="#d83b1e"/>
<path d="M92.83,225.18 A51.8,51.8 0 0 1 95.66,225.80 L94.89,228.90 A48.6,48.6 0 0 0 92.24,228.33 Z" stroke="none" stroke-width="0" fill="#d83b1e"/>
<path d="M58.77,231.39 A51.0,51.0 0 0 1 59.47,231.01 L60.50,232.95 A48.8,48.8 0 0 0 59.83,233.32 Z" stroke="none" stroke-width="0" fill="#d83b1e"/>
<path d="M134.89,276.82 A51.6,51.6 0 0 1 134.85,278.26 L131.86,278.14 A48.6,48.6 0 0 0 131.90,276.78 Z" stroke="none" stroke-width="0" fill="#d83b1e"/>
<path d="M134.84,278.62 A51.6,51.6 0 0 1 134.75,280.06 L131.76,279.83 A48.6,48.6 0 0 0 131.84,278.47 Z" stroke="none" stroke-width="0" fill="#d83b1e"/>
<path d="M81.65,327.07 A51.0,51.0 0 0 1 80.85,327.04 L80.98,324.34 A48.3,48.3 0 0 0 81.74,324.37 Z" stroke="none" stroke-width="0" fill="#d83b1e"/>
<path d="M78.54,326.88 A51.0,51.0 0 0 1 77.75,326.80 L78.04,324.11 A48.3,48.3 0 0 0 78.80,324.19 Z" stroke="none" stroke-width="0" fill="#d83b1e"/>
<rect x="83.09" y="219.70" width="1.00" height="0.90" fill="#2b2a8a"/>
<path d="M63.4,238.8 Q72.5,260.9 124.8,277.8" stroke="#1a1a1a" stroke-width="1.0" fill="none"/>
<path d="M63.4,238.8 L78.8,318.2" stroke="#1a1a1a" stroke-width="0.65" fill="none"/>
<path d="M84.1,234.5 Q58.3,273.8 80.6,318.2" stroke="#1a1a1a" stroke-width="0.65" fill="none"/>
<path d="M84.1,234.5 C85.2,266 78,276 63.4,238.8" stroke="#1a1a1a" stroke-width="0.65" fill="none"/>
<path d="M124.8,277.8 Q79,270 81.6,305.5 L81.6,318.2" stroke="#1a1a1a" stroke-width="0.65" fill="none"/>
<path d="M87.6,234.5 Q96,266 124.8,277.8" stroke="#c4c4c4" stroke-width="0.6" fill="none"/>
<path d="M91.0,234.5 Q101,262 124.8,277.8" stroke="#d9481f" stroke-width="0.8" fill="none"/>
<path d="M81.7,305.0 L80.2,318.2 M81.2,305.5 L81.6,318.2" stroke="#d9481f" stroke-width="0.6" fill="none"/>
<text x="172.40" y="205.60" font-size="6.4" text-anchor="start" font-weight="normal" fill="#2a2a2a">M396</text>
<circle cx="242.7" cy="271.3" r="62.7" fill="#f4f8fb"/>
<circle cx="242.7" cy="271.3" r="43.0" fill="#ffffff"/>
<circle cx="242.7" cy="271.3" r="45.9" fill="none" stroke="#d3dce6" stroke-width="0.8"/>
<circle cx="242.7" cy="271.3" r="47.9" fill="none" stroke="#d3dce6" stroke-width="0.8"/>
<circle cx="242.7" cy="271.3" r="50.2" fill="none" stroke="#d3dce6" stroke-width="0.8"/>
<circle cx="242.7" cy="271.3" r="54.8" fill="none" stroke="#d3dce6" stroke-width="0.8"/>
<circle cx="242.7" cy="271.3" r="56.9" fill="none" stroke="#d3dce6" stroke-width="0.8"/>
<circle cx="242.7" cy="271.3" r="58.9" fill="none" stroke="#d3dce6" stroke-width="0.8"/>
<circle cx="242.7" cy="271.3" r="61.4" fill="none" stroke="#bfdfee" stroke-width="0.9"/>
<circle cx="242.7" cy="271.3" r="43.0" fill="none" stroke="#acd5ea" stroke-width="1.2"/>
<circle cx="242.7" cy="271.3" r="51.0" fill="none" stroke="#111" stroke-width="1.05" stroke-dasharray="2.2,1.5"/>
<line x1="242.70" y1="228.30" x2="242.70" y2="209.90" stroke="#acd6ea" stroke-width="1.5"/>
<line x1="281.98" y1="288.79" x2="298.79" y2="296.27" stroke="#acd6ea" stroke-width="1.5"/>
<line x1="223.85" y1="309.95" x2="215.78" y2="326.49" stroke="#acd6ea" stroke-width="1.5"/>
<line x1="202.29" y1="256.59" x2="185.00" y2="250.30" stroke="#acd6ea" stroke-width="1.5"/>
<path d="M242.70,203.40 A67.9,67.9 0 0 1 304.73,298.92 L299.98,296.80 A62.7,62.7 0 0 0 242.70,208.60 Z" stroke="none" stroke-width="0" fill="#e06c62"/>
<path d="M243.29,203.70 A67.60000000000001,67.60000000000001 0 0 1 247.39,203.86 L247.07,208.45 A63.0,63.0 0 0 0 243.25,208.30 Z" stroke="none" stroke-width="0" fill="#7a1414"/>
<path d="M252.38,204.40 A67.60000000000001,67.60000000000001 0 0 1 255.74,204.97 L254.85,209.48 A63.0,63.0 0 0 0 251.72,208.95 Z" stroke="none" stroke-width="0" fill="#f1a49c"/>
<path d="M256.53,205.13 A67.60000000000001,67.60000000000001 0 0 1 257.93,205.44 L256.89,209.92 A63.0,63.0 0 0 0 255.59,209.63 Z" stroke="none" stroke-width="0" fill="#f1a49c"/>
<path d="M261.59,206.39 A67.60000000000001,67.60000000000001 0 0 1 263.81,207.08 L262.37,211.45 A63.0,63.0 0 0 0 260.30,210.81 Z" stroke="none" stroke-width="0" fill="#f1a49c"/>
<path d="M270.81,209.82 A67.60000000000001,67.60000000000001 0 0 1 272.21,210.48 L270.20,214.62 A63.0,63.0 0 0 0 268.89,214.00 Z" stroke="none" stroke-width="0" fill="#f1a49c"/>
<path d="M278.08,213.70 A67.60000000000001,67.60000000000001 0 0 1 282.27,216.49 L279.57,220.22 A63.0,63.0 0 0 0 275.68,217.62 Z" stroke="none" stroke-width="0" fill="#f1a49c"/>
<path d="M283.28,217.23 A67.60000000000001,67.60000000000001 0 0 1 285.44,218.93 L282.53,222.49 A63.0,63.0 0 0 0 280.51,220.91 Z" stroke="none" stroke-width="0" fill="#f1a49c"/>
<path d="M287.80,220.94 A67.60000000000001,67.60000000000001 0 0 1 291.02,224.02 L287.73,227.24 A63.0,63.0 0 0 0 284.73,224.37 Z" stroke="none" stroke-width="0" fill="#f1a49c"/>
<path d="M303.90,242.59 A67.60000000000001,67.60000000000001 0 0 1 305.05,245.18 L300.81,246.96 A63.0,63.0 0 0 0 299.73,244.54 Z" stroke="none" stroke-width="0" fill="#f1a49c"/>
<path d="M305.44,246.12 A67.60000000000001,67.60000000000001 0 0 1 307.21,251.10 L302.82,252.48 A63.0,63.0 0 0 0 301.17,247.84 Z" stroke="none" stroke-width="0" fill="#f1a49c"/>
<path d="M308.33,255.11 A67.60000000000001,67.60000000000001 0 0 1 309.05,258.38 L304.54,259.26 A63.0,63.0 0 0 0 303.87,256.22 Z" stroke="none" stroke-width="0" fill="#f1a49c"/>
<path d="M309.28,259.61 A67.60000000000001,67.60000000000001 0 0 1 309.89,263.90 L305.32,264.40 A63.0,63.0 0 0 0 304.75,260.41 Z" stroke="none" stroke-width="0" fill="#f1a49c"/>
<path d="M310.03,265.23 A67.60000000000001,67.60000000000001 0 0 1 310.25,268.80 L305.66,268.97 A63.0,63.0 0 0 0 305.45,265.64 Z" stroke="none" stroke-width="0" fill="#7a1414"/>
<path d="M310.28,269.53 A67.60000000000001,67.60000000000001 0 0 1 310.30,271.61 L305.70,271.58 A63.0,63.0 0 0 0 305.68,269.65 Z" stroke="none" stroke-width="0" fill="#f1a49c"/>
<path d="M310.27,273.39 A67.60000000000001,67.60000000000001 0 0 1 310.13,276.15 L305.54,275.82 A63.0,63.0 0 0 0 305.67,273.25 Z" stroke="none" stroke-width="0" fill="#f1a49c"/>
<path d="M310.05,277.05 A67.60000000000001,67.60000000000001 0 0 1 309.88,278.86 L305.30,278.35 A63.0,63.0 0 0 0 305.47,276.66 Z" stroke="none" stroke-width="0" fill="#f1a49c"/>
<path d="M309.67,280.47 A67.60000000000001,67.60000000000001 0 0 1 308.93,284.85 L304.42,283.93 A63.0,63.0 0 0 0 305.12,279.85 Z" stroke="none" stroke-width="0" fill="#f1a49c"/>
<path d="M276.65,212.50 A67.9,67.9 0 0 1 283.56,217.07 L280.43,221.23 A62.7,62.7 0 0 0 274.05,217.00 Z" stroke="none" stroke-width="0" fill="#7a1414"/>
<path d="M289.87,222.46 A67.9,67.9 0 0 1 292.36,224.99 L288.56,228.54 A62.7,62.7 0 0 0 286.26,226.20 Z" stroke="none" stroke-width="0" fill="#8a1a1a"/>
<path d="M309.76,281.92 A67.9,67.9 0 0 1 309.35,284.26 L304.25,283.26 A62.7,62.7 0 0 0 304.63,281.11 Z" stroke="none" stroke-width="0" fill="#8a1a1a"/>
<path d="M308.58,287.73 A67.9,67.9 0 0 1 306.90,293.41 L301.98,291.71 A62.7,62.7 0 0 0 303.54,286.47 Z" stroke="none" stroke-width="0" fill="#7a1414"/>
<path d="M297.35,231.01 A67.9,67.9 0 0 1 299.26,233.72 L294.92,236.60 A62.7,62.7 0 0 0 293.17,234.09 Z" stroke="none" stroke-width="0" fill="#d42a1e"/>
<path d="M304.73,298.92 A67.9,67.9 0 0 1 212.93,332.33 L215.21,327.65 A62.7,62.7 0 0 0 299.98,296.80 Z" stroke="none" stroke-width="0" fill="#2f5c8a"/>
<path d="M303.74,300.35 A67.60000000000001,67.60000000000001 0 0 1 302.87,302.11 L298.78,300.01 A63.0,63.0 0 0 0 299.59,298.37 Z" stroke="none" stroke-width="0" fill="#9ec2e6"/>
<path d="M301.99,303.77 A67.60000000000001,67.60000000000001 0 0 1 300.93,305.63 L296.97,303.29 A63.0,63.0 0 0 0 297.95,301.57 Z" stroke="none" stroke-width="0" fill="#9ec2e6"/>
<path d="M298.26,309.80 A67.60000000000001,67.60000000000001 0 0 1 295.17,313.92 L291.60,311.02 A63.0,63.0 0 0 0 294.48,307.18 Z" stroke="none" stroke-width="0" fill="#9ec2e6"/>
<path d="M294.33,314.94 A67.60000000000001,67.60000000000001 0 0 1 290.93,318.67 L287.65,315.44 A63.0,63.0 0 0 0 290.81,311.97 Z" stroke="none" stroke-width="0" fill="#1d3f66"/>
<path d="M289.67,319.92 A67.60000000000001,67.60000000000001 0 0 1 286.58,322.73 L283.59,319.23 A63.0,63.0 0 0 0 286.47,316.61 Z" stroke="none" stroke-width="0" fill="#9ec2e6"/>
<path d="M285.25,323.83 A67.60000000000001,67.60000000000001 0 0 1 282.31,326.08 L279.61,322.35 A63.0,63.0 0 0 0 282.36,320.25 Z" stroke="none" stroke-width="0" fill="#9ec2e6"/>
<path d="M281.71,326.51 A67.60000000000001,67.60000000000001 0 0 1 277.75,329.10 L275.37,325.17 A63.0,63.0 0 0 0 279.05,322.75 Z" stroke="none" stroke-width="0" fill="#9ec2e6"/>
<path d="M271.14,332.63 A67.60000000000001,67.60000000000001 0 0 1 267.33,334.25 L265.66,329.97 A63.0,63.0 0 0 0 269.20,328.45 Z" stroke="none" stroke-width="0" fill="#9ec2e6"/>
<path d="M266.55,334.55 A67.60000000000001,67.60000000000001 0 0 1 261.68,336.18 L260.39,331.77 A63.0,63.0 0 0 0 264.93,330.25 Z" stroke="none" stroke-width="0" fill="#9ec2e6"/>
<path d="M260.16,336.61 A67.60000000000001,67.60000000000001 0 0 1 255.15,337.74 L254.31,333.22 A63.0,63.0 0 0 0 258.97,332.16 Z" stroke="none" stroke-width="0" fill="#9ec2e6"/>
<path d="M254.49,337.86 A67.60000000000001,67.60000000000001 0 0 1 249.91,338.51 L249.42,333.94 A63.0,63.0 0 0 0 253.69,333.33 Z" stroke="none" stroke-width="0" fill="#1d3f66"/>
<path d="M249.18,338.59 A67.60000000000001,67.60000000000001 0 0 1 247.58,338.72 L247.25,334.14 A63.0,63.0 0 0 0 248.74,334.01 Z" stroke="none" stroke-width="0" fill="#9ec2e6"/>
<path d="M247.06,338.76 A67.60000000000001,67.60000000000001 0 0 1 242.05,338.90 L242.09,334.30 A63.0,63.0 0 0 0 246.77,334.17 Z" stroke="none" stroke-width="0" fill="#9ec2e6"/>
<path d="M240.84,338.87 A67.60000000000001,67.60000000000001 0 0 1 237.84,338.72 L238.17,334.14 A63.0,63.0 0 0 0 240.97,334.28 Z" stroke="none" stroke-width="0" fill="#1d3f66"/>
<path d="M236.07,338.57 A67.60000000000001,67.60000000000001 0 0 1 233.48,338.27 L234.11,333.71 A63.0,63.0 0 0 0 236.53,334.00 Z" stroke="none" stroke-width="0" fill="#9ec2e6"/>
<path d="M232.20,338.08 A67.60000000000001,67.60000000000001 0 0 1 229.66,337.63 L230.55,333.12 A63.0,63.0 0 0 0 232.91,333.54 Z" stroke="none" stroke-width="0" fill="#9ec2e6"/>
<path d="M228.45,337.38 A67.60000000000001,67.60000000000001 0 0 1 225.43,336.66 L226.61,332.21 A63.0,63.0 0 0 0 229.42,332.88 Z" stroke="none" stroke-width="0" fill="#1d3f66"/>
<path d="M221.64,335.54 A67.60000000000001,67.60000000000001 0 0 1 218.72,334.50 L220.35,330.20 A63.0,63.0 0 0 0 223.07,331.16 Z" stroke="none" stroke-width="0" fill="#9ec2e6"/>
<path d="M217.06,333.85 A67.60000000000001,67.60000000000001 0 0 1 213.38,332.21 L215.38,328.07 A63.0,63.0 0 0 0 218.80,329.59 Z" stroke="none" stroke-width="0" fill="#9ec2e6"/>
<path d="M258.44,337.35 A67.9,67.9 0 0 1 255.19,338.04 L254.23,332.93 A62.7,62.7 0 0 0 257.23,332.29 Z" stroke="none" stroke-width="0" fill="#8a6a5e"/>
<path d="M212.93,332.33 A67.9,67.9 0 0 1 178.89,248.08 L183.78,249.86 A62.7,62.7 0 0 0 215.21,327.65 Z" stroke="none" stroke-width="0" fill="#357372"/>
<path d="M206.64,328.48 A67.60000000000001,67.60000000000001 0 0 1 203.55,326.41 L206.21,322.66 A63.0,63.0 0 0 0 209.09,324.59 Z" stroke="none" stroke-width="0" fill="#92cac6"/>
<path d="M202.56,325.69 A67.60000000000001,67.60000000000001 0 0 1 201.03,324.53 L203.86,320.90 A63.0,63.0 0 0 0 205.29,321.99 Z" stroke="none" stroke-width="0" fill="#92cac6"/>
<path d="M200.16,323.84 A67.60000000000001,67.60000000000001 0 0 1 198.42,322.38 L201.43,318.90 A63.0,63.0 0 0 0 203.06,320.26 Z" stroke="none" stroke-width="0" fill="#92cac6"/>
<path d="M198.04,322.04 A67.60000000000001,67.60000000000001 0 0 1 196.74,320.87 L199.87,317.50 A63.0,63.0 0 0 0 201.08,318.59 Z" stroke="none" stroke-width="0" fill="#92cac6"/>
<path d="M195.96,320.14 A67.60000000000001,67.60000000000001 0 0 1 193.56,317.72 L196.90,314.56 A63.0,63.0 0 0 0 199.14,316.82 Z" stroke="none" stroke-width="0" fill="#92cac6"/>
<path d="M192.89,317.00 A67.60000000000001,67.60000000000001 0 0 1 191.79,315.78 L195.26,312.75 A63.0,63.0 0 0 0 196.28,313.89 Z" stroke="none" stroke-width="0" fill="#1e4a48"/>
<path d="M190.95,314.79 A67.60000000000001,67.60000000000001 0 0 1 188.48,311.67 L192.17,308.92 A63.0,63.0 0 0 0 194.47,311.83 Z" stroke="none" stroke-width="0" fill="#92cac6"/>
<path d="M187.40,310.17 A67.60000000000001,67.60000000000001 0 0 1 185.82,307.83 L189.69,305.34 A63.0,63.0 0 0 0 191.16,307.53 Z" stroke="none" stroke-width="0" fill="#1e4a48"/>
<path d="M185.29,306.99 A67.60000000000001,67.60000000000001 0 0 1 183.45,303.84 L187.48,301.63 A63.0,63.0 0 0 0 189.19,304.56 Z" stroke="none" stroke-width="0" fill="#92cac6"/>
<path d="M183.01,303.03 A67.60000000000001,67.60000000000001 0 0 1 182.21,301.48 L186.33,299.43 A63.0,63.0 0 0 0 187.07,300.88 Z" stroke="none" stroke-width="0" fill="#92cac6"/>
<path d="M181.56,300.14 A67.60000000000001,67.60000000000001 0 0 1 180.07,296.74 L184.33,295.01 A63.0,63.0 0 0 0 185.72,298.18 Z" stroke="none" stroke-width="0" fill="#92cac6"/>
<path d="M179.56,295.45 A67.60000000000001,67.60000000000001 0 0 1 178.83,293.46 L183.18,291.95 A63.0,63.0 0 0 0 183.86,293.81 Z" stroke="none" stroke-width="0" fill="#92cac6"/>
<path d="M178.54,292.58 A67.60000000000001,67.60000000000001 0 0 1 177.24,288.17 L181.69,287.02 A63.0,63.0 0 0 0 182.90,291.13 Z" stroke="none" stroke-width="0" fill="#92cac6"/>
<path d="M177.08,287.56 A67.60000000000001,67.60000000000001 0 0 1 176.67,285.81 L181.17,284.82 A63.0,63.0 0 0 0 181.55,286.45 Z" stroke="none" stroke-width="0" fill="#92cac6"/>
<path d="M175.72,280.44 A67.60000000000001,67.60000000000001 0 0 1 175.39,277.61 L179.97,277.18 A63.0,63.0 0 0 0 180.28,279.82 Z" stroke="none" stroke-width="0" fill="#92cac6"/>
<path d="M175.32,276.71 A67.60000000000001,67.60000000000001 0 0 1 175.11,272.27 L179.71,272.20 A63.0,63.0 0 0 0 179.90,276.34 Z" stroke="none" stroke-width="0" fill="#92cac6"/>
<path d="M175.10,271.43 A67.60000000000001,67.60000000000001 0 0 1 175.12,269.60 L179.72,269.71 A63.0,63.0 0 0 0 179.70,271.42 Z" stroke="none" stroke-width="0" fill="#1e4a48"/>
<path d="M175.17,268.13 A67.60000000000001,67.60000000000001 0 0 1 175.55,263.50 L180.12,264.03 A63.0,63.0 0 0 0 179.77,268.34 Z" stroke="none" stroke-width="0" fill="#92cac6"/>
<path d="M175.71,262.27 A67.60000000000001,67.60000000000001 0 0 1 176.56,257.35 L181.06,258.30 A63.0,63.0 0 0 0 180.27,262.88 Z" stroke="none" stroke-width="0" fill="#92cac6"/>
<path d="M177.61,253.05 A67.60000000000001,67.60000000000001 0 0 1 178.50,250.14 L182.87,251.58 A63.0,63.0 0 0 0 182.04,254.29 Z" stroke="none" stroke-width="0" fill="#92cac6"/>
<path d="M193.37,317.95 A67.9,67.9 0 0 1 191.15,315.49 L195.09,312.10 A62.7,62.7 0 0 0 197.14,314.38 Z" stroke="none" stroke-width="0" fill="#8a6a5e"/>
<path d="M178.89,248.08 A67.9,67.9 0 0 1 242.70,203.40 L242.70,208.60 A62.7,62.7 0 0 0 183.78,249.86 Z" stroke="none" stroke-width="0" fill="#42604f"/>
<path d="M179.66,246.90 A67.60000000000001,67.60000000000001 0 0 1 181.50,242.60 L185.66,244.55 A63.0,63.0 0 0 0 183.95,248.56 Z" stroke="none" stroke-width="0" fill="#a9c2b1"/>
<path d="M183.62,238.45 A67.60000000000001,67.60000000000001 0 0 1 185.86,234.71 L189.73,237.20 A63.0,63.0 0 0 0 187.64,240.69 Z" stroke="none" stroke-width="0" fill="#a9c2b1"/>
<path d="M196.88,221.59 A67.60000000000001,67.60000000000001 0 0 1 199.25,219.52 L202.20,223.04 A63.0,63.0 0 0 0 200.00,224.98 Z" stroke="none" stroke-width="0" fill="#a9c2b1"/>
<path d="M203.38,216.31 A67.60000000000001,67.60000000000001 0 0 1 205.05,215.16 L207.61,218.98 A63.0,63.0 0 0 0 206.06,220.05 Z" stroke="none" stroke-width="0" fill="#a9c2b1"/>
<path d="M205.80,214.66 A67.60000000000001,67.60000000000001 0 0 1 208.81,212.81 L211.11,216.79 A63.0,63.0 0 0 0 208.32,218.51 Z" stroke="none" stroke-width="0" fill="#a9c2b1"/>
<path d="M210.32,211.96 A67.60000000000001,67.60000000000001 0 0 1 214.81,209.72 L216.71,213.91 A63.0,63.0 0 0 0 212.53,216.00 Z" stroke="none" stroke-width="0" fill="#a9c2b1"/>
<path d="M216.40,209.02 A67.60000000000001,67.60000000000001 0 0 1 217.97,208.39 L219.65,212.67 A63.0,63.0 0 0 0 218.19,213.26 Z" stroke="none" stroke-width="0" fill="#a9c2b1"/>
<path d="M225.39,205.95 A67.60000000000001,67.60000000000001 0 0 1 230.03,204.90 L230.89,209.42 A63.0,63.0 0 0 0 226.57,210.40 Z" stroke="none" stroke-width="0" fill="#a9c2b1"/>
<path d="M231.53,204.63 A67.60000000000001,67.60000000000001 0 0 1 236.51,203.98 L236.93,208.57 A63.0,63.0 0 0 0 232.29,209.17 Z" stroke="none" stroke-width="0" fill="#a9c2b1"/>
<path d="M237.67,203.89 A67.60000000000001,67.60000000000001 0 0 1 239.69,203.77 L239.89,208.36 A63.0,63.0 0 0 0 238.02,208.47 Z" stroke="none" stroke-width="0" fill="#a9c2b1"/>
<path d="M190.76,227.56 A67.9,67.9 0 0 1 192.96,225.08 L196.77,228.62 A62.7,62.7 0 0 0 194.74,230.91 Z" stroke="none" stroke-width="0" fill="#b85a44"/>
<path d="M242.88,203.70 A67.60000000000001,67.60000000000001 0 0 1 304.53,298.63" stroke="#7a1414" stroke-width="0.8" fill="none"/>
<path d="M242.86,208.30 A63.0,63.0 0 0 1 300.32,296.77" stroke="#7a1414" stroke-width="0.7" fill="none"/>
<path d="M304.38,298.96 A67.60000000000001,67.60000000000001 0 0 1 213.23,332.14" stroke="#1d3f66" stroke-width="0.8" fill="none"/>
<path d="M300.19,297.07 A63.0,63.0 0 0 1 215.23,328.00" stroke="#1d3f66" stroke-width="0.7" fill="none"/>
<path d="M212.91,331.98 A67.60000000000001,67.60000000000001 0 0 1 179.12,248.35" stroke="#1e4a48" stroke-width="0.8" fill="none"/>
<path d="M214.93,327.85 A63.0,63.0 0 0 1 183.44,249.91" stroke="#1e4a48" stroke-width="0.7" fill="none"/>
<path d="M179.24,248.01 A67.60000000000001,67.60000000000001 0 0 1 242.52,203.70" stroke="#2e4a3b" stroke-width="0.8" fill="none"/>
<path d="M183.56,249.60 A63.0,63.0 0 0 1 242.54,208.30" stroke="#2e4a3b" stroke-width="0.7" fill="none"/>
<line x1="242.70" y1="208.60" x2="242.70" y2="203.40" stroke="#1c2a28" stroke-width="0.6"/>
<line x1="299.98" y1="296.80" x2="304.73" y2="298.92" stroke="#1c2a28" stroke-width="0.6"/>
<line x1="215.21" y1="327.65" x2="212.93" y2="332.33" stroke="#1c2a28" stroke-width="0.6"/>
<line x1="183.78" y1="249.86" x2="178.89" y2="248.08" stroke="#1c2a28" stroke-width="0.6"/>
<text x="200.80" y="213.90" font-size="4.2" text-anchor="middle" font-weight="normal" fill="#444" transform="rotate(-30 200.80 213.90)">8</text>
<text x="305.00" y="234.50" font-size="4.2" text-anchor="middle" font-weight="normal" fill="#444" transform="rotate(60 305.00 234.50)">1</text>
<text x="268.50" y="342.50" font-size="4.2" text-anchor="middle" font-weight="normal" fill="#444" transform="rotate(160 268.50 342.50)">6</text>
<text x="174.00" y="301.50" font-size="4.2" text-anchor="middle" font-weight="normal" fill="#444" transform="rotate(-110 174.00 301.50)">12</text>
<path d="M292.63,277.43 A50.3,50.3 0 0 1 288.29,292.56 L286.11,291.54 A47.9,47.9 0 0 0 290.24,277.14 Z" stroke="none" stroke-width="0" fill="#d83b1e"/>
<path d="M291.97,297.50 A55.8,55.8 0 0 1 283.84,309.00 L282.51,307.78 A54.0,54.0 0 0 0 290.38,296.65 Z" stroke="none" stroke-width="0" fill="#2b2a8a"/>
<path d="M257.73,325.14 A55.9,55.9 0 0 1 219.61,322.21" stroke="#3d3a9e" stroke-width="0.9" fill="none"/>
<circle cx="207.51" cy="229.81" r="1.2" fill="#2b2a8a"/>
<circle cx="199.81" cy="305.41" r="1.2" fill="#2b2a8a"/>
<circle cx="267.07" cy="320.61" r="1.2" fill="#2b2a8a"/>
<circle cx="296.89" cy="266.56" r="1.2" fill="#2b2a8a"/>
<circle cx="257.73" cy="325.14" r="1.2" fill="#2b2a8a"/>
<path d="M215.2,240.0 Q242.7,271.3 284.4,266.3" stroke="#2a2a2a" stroke-width="0.7" fill="none"/>
<path d="M215.2,240.0 Q250.0,270.0 209.4,298.1" stroke="#2a2a2a" stroke-width="0.7" fill="none"/>
<path d="M209.4,298.1 L285.4,268.8" stroke="#2a2a2a" stroke-width="0.7" fill="none"/>
<path d="M285.0,276.5 C245,270 247,284 273.8,301.5" stroke="#2a2a2a" stroke-width="0.7" fill="none"/>
<path d="M248.5,301.5 L251.2,313.8" stroke="#4a3fb0" stroke-width="0.8" fill="none"/>
<path d="M256.2,299.0 L261.9,309.6 M257.5,298.8 L261.2,310" stroke="#4a3fb0" stroke-width="0.7" fill="none"/>
<text x="89.50" y="353.80" font-size="4.45" text-anchor="start" font-weight="normal" fill="#2a2a2a">CNA</text>
<rect x="83.60" y="357.40" width="2.40" height="4.80" fill="#d83b1e"/>
<text x="88.80" y="361.60" font-size="4.45" text-anchor="start" font-weight="normal" fill="#2a2a2a">Deletion</text>
<rect x="83.60" y="365.40" width="2.40" height="4.80" fill="#2b2a8a"/>
<text x="88.80" y="369.60" font-size="4.45" text-anchor="start" font-weight="normal" fill="#2a2a2a">Gain</text>
<text x="134.50" y="353.80" font-size="4.45" text-anchor="start" font-weight="normal" fill="#2a2a2a">Structural variants (SV)</text>
<path d="M120.3,362.09999999999997 L120.3,358.79999999999995 C120.3,357.4 123.1,357.4 123.1,358.79999999999995 L123.1,362.09999999999997" stroke="#d9504a" stroke-width="0.8" fill="none"/>
<path d="M121.2,362.09999999999997 L121.2,359.09999999999997 C121.2,358.5 122.2,358.5 122.2,359.09999999999997 L122.2,362.09999999999997" stroke="#d9504a" stroke-width="0.5" fill="none"/>
<text x="125.50" y="361.60" font-size="4.45" text-anchor="start" font-weight="normal" fill="#2a2a2a">Deletion</text>
<path d="M120.3,370.09999999999997 L120.3,366.79999999999995 C120.3,365.4 123.1,365.4 123.1,366.79999999999995 L123.1,370.09999999999997" stroke="#5b8fd6" stroke-width="0.8" fill="none"/>
<path d="M121.2,370.09999999999997 L121.2,367.09999999999997 C121.2,366.5 122.2,366.5 122.2,367.09999999999997 L122.2,370.09999999999997" stroke="#5b8fd6" stroke-width="0.5" fill="none"/>
<text x="125.50" y="369.60" font-size="4.45" text-anchor="start" font-weight="normal" fill="#2a2a2a">Tandem-dup</text>
<path d="M160.3,362.09999999999997 L160.3,358.79999999999995 C160.3,357.4 163.10000000000002,357.4 163.10000000000002,358.79999999999995 L163.10000000000002,362.09999999999997" stroke="#6fbf6a" stroke-width="0.8" fill="none"/>
<path d="M161.20000000000002,362.09999999999997 L161.20000000000002,359.09999999999997 C161.20000000000002,358.5 162.20000000000002,358.5 162.20000000000002,359.09999999999997 L162.20000000000002,362.09999999999997" stroke="#6fbf6a" stroke-width="0.5" fill="none"/>
<text x="165.50" y="361.60" font-size="4.45" text-anchor="start" font-weight="normal" fill="#2a2a2a">Inversion</text>
<path d="M160.3,370.09999999999997 L160.3,366.79999999999995 C160.3,365.4 163.10000000000002,365.4 163.10000000000002,366.79999999999995 L163.10000000000002,370.09999999999997" stroke="#222" stroke-width="0.8" fill="none"/>
<path d="M161.20000000000002,370.09999999999997 L161.20000000000002,367.09999999999997 C161.20000000000002,366.5 162.20000000000002,366.5 162.20000000000002,367.09999999999997 L162.20000000000002,370.09999999999997" stroke="#222" stroke-width="0.5" fill="none"/>
<text x="165.50" y="369.60" font-size="4.45" text-anchor="start" font-weight="normal" fill="#2a2a2a">Translocation</text>
<text x="206.20" y="354.40" font-size="4.45" text-anchor="start" font-weight="normal" fill="#2a2a2a">Copy number (CN)</text>
<line x1="208.30" y1="360.20" x2="218.80" y2="360.20" stroke="#f2c12e" stroke-width="1.1"/>
<text x="221.80" y="361.90" font-size="4.45" text-anchor="start" font-weight="normal" fill="#2a2a2a">Total CN</text>
<line x1="208.30" y1="367.80" x2="218.80" y2="367.80" stroke="#2f5f5a" stroke-width="1.1"/>
<text x="221.80" y="369.50" font-size="4.45" text-anchor="start" font-weight="normal" fill="#2a2a2a">Minor CN</text>
<line x1="356.50" y1="215.80" x2="495.00" y2="215.80" stroke="#333" stroke-width="1.0"/>
<line x1="356.20" y1="219.50" x2="356.20" y2="254.00" stroke="#222" stroke-width="0.9"/>
<line x1="353.00" y1="252.90" x2="356.20" y2="252.90" stroke="#222" stroke-width="0.85"/>
<text x="350.40" y="254.40" font-size="4.2" text-anchor="end" font-weight="normal" fill="#2a2a2a">0</text>
<line x1="353.00" y1="249.67" x2="356.20" y2="249.67" stroke="#222" stroke-width="0.85"/>
<line x1="353.00" y1="246.44" x2="356.20" y2="246.44" stroke="#222" stroke-width="0.85"/>
<text x="350.40" y="247.94" font-size="4.2" text-anchor="end" font-weight="normal" fill="#2a2a2a">2</text>
<line x1="353.00" y1="243.21" x2="356.20" y2="243.21" stroke="#222" stroke-width="0.85"/>
<line x1="353.00" y1="239.98" x2="356.20" y2="239.98" stroke="#222" stroke-width="0.85"/>
<text x="350.40" y="241.48" font-size="4.2" text-anchor="end" font-weight="normal" fill="#2a2a2a">4</text>
<line x1="353.00" y1="236.75" x2="356.20" y2="236.75" stroke="#222" stroke-width="0.85"/>
<line x1="353.00" y1="233.52" x2="356.20" y2="233.52" stroke="#222" stroke-width="0.85"/>
<text x="350.40" y="235.02" font-size="4.2" text-anchor="end" font-weight="normal" fill="#2a2a2a">6</text>
<line x1="353.00" y1="230.29" x2="356.20" y2="230.29" stroke="#222" stroke-width="0.85"/>
<line x1="353.00" y1="227.06" x2="356.20" y2="227.06" stroke="#222" stroke-width="0.85"/>
<text x="350.40" y="228.56" font-size="4.2" text-anchor="end" font-weight="normal" fill="#2a2a2a">8</text>
<line x1="353.00" y1="223.83" x2="356.20" y2="223.83" stroke="#222" stroke-width="0.85"/>
<line x1="353.00" y1="220.60" x2="356.20" y2="220.60" stroke="#222" stroke-width="0.85"/>
<text x="350.40" y="222.10" font-size="4.2" text-anchor="end" font-weight="normal" fill="#2a2a2a">10</text>
<text x="340.80" y="237.10" font-size="5.8" text-anchor="middle" font-weight="normal" fill="#2a2a2a" font-style="italic" transform="rotate(-90 340.80 237.10)" textLength="30.4" lengthAdjust="spacingAndGlyphs">Copy number</text>
<line x1="404.00" y1="199.40" x2="404.00" y2="253.30" stroke="#8ccc88" stroke-width="0.9"/>
<line x1="420.80" y1="199.40" x2="420.80" y2="253.30" stroke="#5fae5c" stroke-width="1.3"/>
<line x1="426.70" y1="199.40" x2="426.70" y2="253.30" stroke="#8ccc88" stroke-width="0.9"/>
<line x1="356.20" y1="249.80" x2="426.70" y2="249.80" stroke="#4d7479" stroke-width="1.2"/>
<line x1="426.70" y1="252.90" x2="495.00" y2="252.90" stroke="#4d7479" stroke-width="1.2"/>
<line x1="356.20" y1="246.44" x2="404.00" y2="246.44" stroke="#f0bd36" stroke-width="1.2"/>
<line x1="404.00" y1="239.98" x2="412.70" y2="239.98" stroke="#f0bd36" stroke-width="1.2"/>
<line x1="412.70" y1="243.21" x2="420.80" y2="243.21" stroke="#f0bd36" stroke-width="1.2"/>
<line x1="420.00" y1="220.60" x2="422.30" y2="220.60" stroke="#f0bd36" stroke-width="1.2"/>
<line x1="422.30" y1="236.75" x2="426.70" y2="236.75" stroke="#f0bd36" stroke-width="1.2"/>
<line x1="426.70" y1="249.67" x2="495.00" y2="249.67" stroke="#f0bd36" stroke-width="1.2"/>
<rect x="346.30" y="256.50" width="146.50" height="3.90" fill="#fff" stroke="#222" stroke-width="0.5"/>
<rect x="356.00" y="256.75" width="5.50" height="3.40" fill="#111"/>
<rect x="368.00" y="256.75" width="5.50" height="3.40" fill="#888"/>
<rect x="379.50" y="256.75" width="28.00" height="3.40" fill="#111"/>
<rect x="414.80" y="256.75" width="26.20" height="3.40" fill="#111"/>
<rect x="441.20" y="256.75" width="4.30" height="3.40" fill="#999"/>
<rect x="452.00" y="256.75" width="10.00" height="3.40" fill="#111"/>
<rect x="469.00" y="256.75" width="10.00" height="3.40" fill="#111"/>
<path d="M492.8,256.5 L494.9,258.45 L492.8,260.4" stroke="#222" stroke-width="0.5" fill="#fff"/>
<line x1="421.00" y1="256.00" x2="421.00" y2="265.80" stroke="#c8303c" stroke-width="1.0"/>
<text x="421.00" y="275.80" font-size="4.45" text-anchor="middle" font-weight="normal" fill="#2a2a2a">MIR17HG</text>
<line x1="382.90" y1="260.40" x2="382.90" y2="262.60" stroke="#222" stroke-width="0.7"/>
<text x="382.90" y="270.40" font-size="5.0" text-anchor="middle" font-weight="normal" fill="#333">80</text>
<line x1="446.50" y1="260.40" x2="446.50" y2="262.60" stroke="#222" stroke-width="0.7"/>
<text x="446.50" y="270.40" font-size="5.0" text-anchor="middle" font-weight="normal" fill="#333">100</text>
<text x="495.00" y="280.00" font-size="4.45" text-anchor="end" font-weight="normal" fill="#2a2a2a">M029: chr13qter (Mb)</text>
<line x1="369.30" y1="291.00" x2="369.30" y2="365.00" stroke="#222" stroke-width="1.0"/>
<line x1="368.80" y1="364.50" x2="476.10" y2="364.50" stroke="#222" stroke-width="1.0"/>
<line x1="366.50" y1="364.50" x2="369.30" y2="364.50" stroke="#222" stroke-width="0.9"/>
<text x="364.30" y="366.20" font-size="4.45" text-anchor="end" font-weight="normal" fill="#2a2a2a">0.0</text>
<line x1="366.50" y1="350.10" x2="369.30" y2="350.10" stroke="#222" stroke-width="0.9"/>
<text x="364.30" y="351.80" font-size="4.45" text-anchor="end" font-weight="normal" fill="#2a2a2a">0.2</text>
<line x1="366.50" y1="335.70" x2="369.30" y2="335.70" stroke="#222" stroke-width="0.9"/>
<text x="364.30" y="337.40" font-size="4.45" text-anchor="end" font-weight="normal" fill="#2a2a2a">0.4</text>
<line x1="366.50" y1="321.30" x2="369.30" y2="321.30" stroke="#222" stroke-width="0.9"/>
<text x="364.30" y="323.00" font-size="4.45" text-anchor="end" font-weight="normal" fill="#2a2a2a">0.6</text>
<line x1="366.50" y1="306.90" x2="369.30" y2="306.90" stroke="#222" stroke-width="0.9"/>
<text x="364.30" y="308.60" font-size="4.45" text-anchor="end" font-weight="normal" fill="#2a2a2a">0.8</text>
<line x1="366.50" y1="292.50" x2="369.30" y2="292.50" stroke="#222" stroke-width="0.9"/>
<text x="364.30" y="294.20" font-size="4.45" text-anchor="end" font-weight="normal" fill="#2a2a2a">1.0</text>
<line x1="369.30" y1="364.50" x2="369.30" y2="367.20" stroke="#222" stroke-width="0.9"/>
<text x="369.30" y="374.50" font-size="4.45" text-anchor="middle" font-weight="normal" fill="#2a2a2a">0</text>
<line x1="380.90" y1="364.50" x2="380.90" y2="367.20" stroke="#222" stroke-width="0.9"/>
<text x="380.90" y="374.50" font-size="4.45" text-anchor="middle" font-weight="normal" fill="#2a2a2a">1</text>
<line x1="392.50" y1="364.50" x2="392.50" y2="367.20" stroke="#222" stroke-width="0.9"/>
<text x="392.50" y="374.50" font-size="4.45" text-anchor="middle" font-weight="normal" fill="#2a2a2a">2</text>
<line x1="404.10" y1="364.50" x2="404.10" y2="367.20" stroke="#222" stroke-width="0.9"/>
<text x="404.10" y="374.50" font-size="4.45" text-anchor="middle" font-weight="normal" fill="#2a2a2a">3</text>
<line x1="415.70" y1="364.50" x2="415.70" y2="367.20" stroke="#222" stroke-width="0.9"/>
<text x="415.70" y="374.50" font-size="4.45" text-anchor="middle" font-weight="normal" fill="#2a2a2a">4</text>
<line x1="427.30" y1="364.50" x2="427.30" y2="367.20" stroke="#222" stroke-width="0.9"/>
<text x="427.30" y="374.50" font-size="4.45" text-anchor="middle" font-weight="normal" fill="#2a2a2a">5</text>
<line x1="438.90" y1="364.50" x2="438.90" y2="367.20" stroke="#222" stroke-width="0.9"/>
<text x="438.90" y="374.50" font-size="4.45" text-anchor="middle" font-weight="normal" fill="#2a2a2a">6</text>
<line x1="450.50" y1="364.50" x2="450.50" y2="367.20" stroke="#222" stroke-width="0.9"/>
<text x="450.50" y="374.50" font-size="4.45" text-anchor="middle" font-weight="normal" fill="#2a2a2a">7</text>
<line x1="462.10" y1="364.50" x2="462.10" y2="367.20" stroke="#222" stroke-width="0.9"/>
<text x="462.10" y="374.50" font-size="4.45" text-anchor="middle" font-weight="normal" fill="#2a2a2a">8</text>
<line x1="473.70" y1="364.50" x2="473.70" y2="367.20" stroke="#222" stroke-width="0.9"/>
<text x="473.70" y="374.50" font-size="4.45" text-anchor="middle" font-weight="normal" fill="#2a2a2a">9</text>
<text x="352.40" y="327.50" font-size="6.0" text-anchor="middle" font-weight="normal" fill="#2a2a2a" transform="rotate(-90 352.40 327.50)" textLength="24.7" lengthAdjust="spacingAndGlyphs">Probability</text>
<text x="397.70" y="384.10" font-size="6.4" text-anchor="start" font-weight="normal" fill="#2a2a2a" textLength="50.9" lengthAdjust="spacingAndGlyphs">Overall survival (years)</text>
<text x="371.2" y="361.0" font-size="4.45" fill="#2a2a2a"><tspan font-style="italic">P</tspan> &lt; 0.001</text>
<path d="M369.30,293.58 H375.10 V295.24 H378.00 V296.82 H381.40 V297.54 H392.90 V298.62 H394.80 V299.34 H400.10 V300.78 H409.20 V303.30 H414.00 V305.03 H415.60 V306.61 H417.20 V309.20 H418.80 V311.29 H425.60 V314.10 H428.30 V317.70 H455.30 V327.20 H482.90 V327.20" stroke="#36578f" stroke-width="1.15" fill="none"/>
<path d="M369.30,292.50 H372.70 V299.20 H377.20 V305.32 H382.70 V312.23 H384.50 V318.28 H385.70 V325.40 H386.30 V331.88 H388.00 V340.52 H409.30 V352.33 H424.60 V352.33" stroke="#bf2e48" stroke-width="1.15" fill="none"/>
<line x1="377.00" y1="293.44" x2="377.00" y2="297.04" stroke="#36578f" stroke-width="0.8"/>
<line x1="378.00" y1="293.44" x2="378.00" y2="297.04" stroke="#36578f" stroke-width="0.8"/>
<line x1="380.40" y1="295.02" x2="380.40" y2="298.62" stroke="#36578f" stroke-width="0.8"/>
<line x1="386.70" y1="295.74" x2="386.70" y2="299.34" stroke="#36578f" stroke-width="0.8"/>
<line x1="394.80" y1="296.82" x2="394.80" y2="300.42" stroke="#36578f" stroke-width="0.8"/>
<line x1="404.50" y1="298.98" x2="404.50" y2="302.58" stroke="#36578f" stroke-width="0.8"/>
<line x1="405.50" y1="298.98" x2="405.50" y2="302.58" stroke="#36578f" stroke-width="0.8"/>
<line x1="406.40" y1="298.98" x2="406.40" y2="302.58" stroke="#36578f" stroke-width="0.8"/>
<line x1="411.30" y1="301.50" x2="411.30" y2="305.10" stroke="#36578f" stroke-width="0.8"/>
<line x1="413.60" y1="301.50" x2="413.60" y2="305.10" stroke="#36578f" stroke-width="0.8"/>
<line x1="418.80" y1="307.40" x2="418.80" y2="311.00" stroke="#36578f" stroke-width="0.8"/>
<line x1="421.40" y1="309.49" x2="421.40" y2="313.09" stroke="#36578f" stroke-width="0.8"/>
<line x1="422.50" y1="309.49" x2="422.50" y2="313.09" stroke="#36578f" stroke-width="0.8"/>
<line x1="424.60" y1="309.49" x2="424.60" y2="313.09" stroke="#36578f" stroke-width="0.8"/>
<line x1="429.90" y1="315.90" x2="429.90" y2="319.50" stroke="#36578f" stroke-width="0.8"/>
<line x1="437.30" y1="315.90" x2="437.30" y2="319.50" stroke="#36578f" stroke-width="0.8"/>
<line x1="438.30" y1="315.90" x2="438.30" y2="319.50" stroke="#36578f" stroke-width="0.8"/>
<line x1="438.90" y1="315.90" x2="438.90" y2="319.50" stroke="#36578f" stroke-width="0.8"/>
<line x1="443.60" y1="315.90" x2="443.60" y2="319.50" stroke="#36578f" stroke-width="0.8"/>
<line x1="448.40" y1="315.90" x2="448.40" y2="319.50" stroke="#36578f" stroke-width="0.8"/>
<line x1="451.00" y1="315.90" x2="451.00" y2="319.50" stroke="#36578f" stroke-width="0.8"/>
<line x1="455.80" y1="325.40" x2="455.80" y2="329.00" stroke="#36578f" stroke-width="0.8"/>
<line x1="469.30" y1="325.40" x2="469.30" y2="329.00" stroke="#36578f" stroke-width="0.8"/>
<line x1="470.30" y1="325.40" x2="470.30" y2="329.00" stroke="#36578f" stroke-width="0.8"/>
<line x1="387.40" y1="330.08" x2="387.40" y2="333.68" stroke="#bf2e48" stroke-width="0.8"/>
<line x1="385.80" y1="331.88" x2="389.00" y2="331.88" stroke="#bf2e48" stroke-width="0.8"/>
<line x1="402.80" y1="338.72" x2="402.80" y2="342.32" stroke="#bf2e48" stroke-width="0.8"/>
<line x1="401.20" y1="340.52" x2="404.40" y2="340.52" stroke="#bf2e48" stroke-width="0.8"/>
<line x1="422.20" y1="350.53" x2="422.20" y2="354.13" stroke="#bf2e48" stroke-width="0.8"/>
<line x1="420.60" y1="352.33" x2="423.80" y2="352.33" stroke="#bf2e48" stroke-width="0.8"/>
<text x="456.80" y="342.60" font-size="4.45" text-anchor="start" font-weight="normal" fill="#2a2a2a">BFB</text>
<line x1="456.80" y1="348.30" x2="464.90" y2="348.30" stroke="#3a5a9a" stroke-width="1.0"/>
<text x="468.00" y="350.00" font-size="4.45" text-anchor="start" font-weight="normal" fill="#2a2a2a">No</text>
<line x1="456.80" y1="356.00" x2="464.90" y2="356.00" stroke="#c0334d" stroke-width="1.0"/>
<text x="468.00" y="357.70" font-size="4.45" text-anchor="start" font-weight="normal" fill="#2a2a2a">Yes</text>
<text x="346.30" y="392.00" font-size="4.45" text-anchor="start" font-weight="normal" fill="#2a2a2a">No. at risk:</text>
<line x1="347.20" y1="398.30" x2="359.60" y2="398.30" stroke="#3a5a9a" stroke-width="1.0"/>
<line x1="347.20" y1="406.00" x2="359.60" y2="406.00" stroke="#c0334d" stroke-width="1.0"/>
<text x="369.30" y="400.00" font-size="4.45" text-anchor="middle" font-weight="normal" fill="#2a2a2a">46</text>
<text x="369.30" y="407.70" font-size="4.45" text-anchor="middle" font-weight="normal" fill="#2a2a2a">11</text>
<text x="380.90" y="400.00" font-size="4.45" text-anchor="middle" font-weight="normal" fill="#2a2a2a">38</text>
<text x="380.90" y="407.70" font-size="4.45" text-anchor="middle" font-weight="normal" fill="#2a2a2a">9</text>
<text x="392.50" y="400.00" font-size="4.45" text-anchor="middle" font-weight="normal" fill="#2a2a2a">35</text>
<text x="392.50" y="407.70" font-size="4.45" text-anchor="middle" font-weight="normal" fill="#2a2a2a">3</text>
<text x="404.10" y="400.00" font-size="4.45" text-anchor="middle" font-weight="normal" fill="#2a2a2a">30</text>
<text x="404.10" y="407.70" font-size="4.45" text-anchor="middle" font-weight="normal" fill="#2a2a2a">2</text>
<text x="415.70" y="400.00" font-size="4.45" text-anchor="middle" font-weight="normal" fill="#2a2a2a">24</text>
<text x="415.70" y="407.70" font-size="4.45" text-anchor="middle" font-weight="normal" fill="#2a2a2a">1</text>
<text x="427.30" y="400.00" font-size="4.45" text-anchor="middle" font-weight="normal" fill="#2a2a2a">15</text>
<text x="427.30" y="407.70" font-size="4.45" text-anchor="middle" font-weight="normal" fill="#2a2a2a">0</text>
<text x="438.90" y="400.00" font-size="4.45" text-anchor="middle" font-weight="normal" fill="#2a2a2a">11</text>
<text x="438.90" y="407.70" font-size="4.45" text-anchor="middle" font-weight="normal" fill="#2a2a2a">0</text>
<text x="450.50" y="400.00" font-size="4.45" text-anchor="middle" font-weight="normal" fill="#2a2a2a">6</text>
<text x="450.50" y="407.70" font-size="4.45" text-anchor="middle" font-weight="normal" fill="#2a2a2a">0</text>
<text x="462.10" y="400.00" font-size="4.45" text-anchor="middle" font-weight="normal" fill="#2a2a2a">3</text>
<text x="462.10" y="407.70" font-size="4.45" text-anchor="middle" font-weight="normal" fill="#2a2a2a">0</text>
<text x="473.70" y="400.00" font-size="4.45" text-anchor="middle" font-weight="normal" fill="#2a2a2a">1</text>
<text x="473.70" y="407.70" font-size="4.45" text-anchor="middle" font-weight="normal" fill="#2a2a2a">0</text>
<text x="98.10" y="424.90" font-size="6.6" text-anchor="middle" font-weight="normal" fill="#222" textLength="28.4" lengthAdjust="spacingAndGlyphs">SV breaks</text>
<text x="82.00" y="437.80" font-size="4.45" text-anchor="middle" font-weight="normal" fill="#2a2a2a">MCL</text>
<text x="114.20" y="432.80" font-size="4.45" text-anchor="middle" font-weight="normal" fill="#2a2a2a">Normal</text>
<text x="114.00" y="437.80" font-size="4.45" text-anchor="middle" font-weight="normal" fill="#2a2a2a">B cells</text>
<rect x="66.20" y="442.10" width="31.90" height="10.42" fill="#c93a3c"/>
<rect x="98.10" y="442.10" width="31.90" height="10.42" fill="#c5282b"/>
<text x="82.20" y="449.01" font-size="4.6" text-anchor="middle" font-weight="normal" fill="#222">1.5</text>
<text x="114.10" y="449.01" font-size="4.6" text-anchor="middle" font-weight="normal" fill="#222">1.6</text>
<text x="62.80" y="449.01" font-size="4.45" text-anchor="end" font-weight="normal" fill="#2a2a2a">Active</text>
<rect x="25.60" y="443.00" width="3.60" height="8.22" fill="#c9281e"/>
<rect x="66.20" y="452.52" width="31.90" height="10.42" fill="#f1d2d1"/>
<rect x="98.10" y="452.52" width="31.90" height="10.42" fill="#edc5c6"/>
<text x="82.20" y="459.43" font-size="4.6" text-anchor="middle" font-weight="normal" fill="#222">0.3</text>
<text x="114.10" y="459.43" font-size="4.6" text-anchor="middle" font-weight="normal" fill="#222">0.4</text>
<text x="62.80" y="459.43" font-size="4.45" text-anchor="end" font-weight="normal" fill="#2a2a2a">Weak</text>
<rect x="25.60" y="453.42" width="3.60" height="8.22" fill="#efc8c8"/>
<rect x="66.20" y="462.94" width="31.90" height="10.42" fill="#eef3f7"/>
<rect x="98.10" y="462.94" width="31.90" height="10.42" fill="#f6e3e3"/>
<text x="82.20" y="469.85" font-size="4.6" text-anchor="middle" font-weight="normal" fill="#222">-0.1</text>
<text x="114.10" y="469.85" font-size="4.6" text-anchor="middle" font-weight="normal" fill="#222">0.2</text>
<text x="62.80" y="469.85" font-size="4.45" text-anchor="end" font-weight="normal" fill="#2a2a2a">Poised</text>
<rect x="25.60" y="463.84" width="3.60" height="8.22" fill="#5d2a8c"/>
<rect x="66.20" y="473.36" width="31.90" height="10.42" fill="#dc8a8d"/>
<rect x="98.10" y="473.36" width="31.90" height="10.42" fill="#e0989b"/>
<text x="82.20" y="480.27" font-size="4.6" text-anchor="middle" font-weight="normal" fill="#222">0.9</text>
<text x="114.10" y="480.27" font-size="4.6" text-anchor="middle" font-weight="normal" fill="#222">0.8</text>
<text x="62.80" y="480.27" font-size="4.45" text-anchor="end" font-weight="normal" fill="#2a2a2a">Prom-related</text>
<rect x="25.60" y="474.26" width="3.60" height="8.22" fill="#eeb35a"/>
<rect x="66.20" y="483.78" width="31.90" height="10.42" fill="#eabcbd"/>
<rect x="98.10" y="483.78" width="31.90" height="10.42" fill="#edc5c6"/>
<text x="82.20" y="490.69" font-size="4.6" text-anchor="middle" font-weight="normal" fill="#222">0.5</text>
<text x="114.10" y="490.69" font-size="4.6" text-anchor="middle" font-weight="normal" fill="#222">0.4</text>
<text x="62.80" y="490.69" font-size="4.45" text-anchor="end" font-weight="normal" fill="#2a2a2a">Strong</text>
<rect x="25.60" y="484.68" width="3.60" height="8.22" fill="#df7f2f"/>
<rect x="66.20" y="494.20" width="31.90" height="10.42" fill="#fbfbfb"/>
<rect x="98.10" y="494.20" width="31.90" height="10.42" fill="#f1d2d1"/>
<text x="82.20" y="501.11" font-size="4.6" text-anchor="middle" font-weight="normal" fill="#222">0.0</text>
<text x="114.10" y="501.11" font-size="4.6" text-anchor="middle" font-weight="normal" fill="#222">0.3</text>
<text x="62.80" y="501.11" font-size="4.45" text-anchor="end" font-weight="normal" fill="#2a2a2a">Weak</text>
<rect x="25.60" y="495.10" width="3.60" height="8.22" fill="#f6e01e"/>
<rect x="66.20" y="504.62" width="31.90" height="10.42" fill="#cf4a4c"/>
<rect x="98.10" y="504.62" width="31.90" height="10.42" fill="#c5282b"/>
<text x="82.20" y="511.53" font-size="4.6" text-anchor="middle" font-weight="normal" fill="#222">1.3</text>
<text x="114.10" y="511.53" font-size="4.6" text-anchor="middle" font-weight="normal" fill="#222">1.6</text>
<text x="62.80" y="511.53" font-size="4.45" text-anchor="end" font-weight="normal" fill="#2a2a2a">Transition</text>
<rect x="25.60" y="505.52" width="3.60" height="8.22" fill="#2c6a2a"/>
<rect x="66.20" y="515.04" width="31.90" height="10.42" fill="#e4a5a7"/>
<rect x="98.10" y="515.04" width="31.90" height="10.42" fill="#e0989b"/>
<text x="82.20" y="521.95" font-size="4.6" text-anchor="middle" font-weight="normal" fill="#222">0.7</text>
<text x="114.10" y="521.95" font-size="4.6" text-anchor="middle" font-weight="normal" fill="#222">0.8</text>
<text x="62.80" y="521.95" font-size="4.45" text-anchor="end" font-weight="normal" fill="#2a2a2a">Elongation</text>
<rect x="25.60" y="515.94" width="3.60" height="8.22" fill="#4b9c3a"/>
<rect x="66.20" y="525.46" width="31.90" height="10.42" fill="#eef3f7"/>
<rect x="98.10" y="525.46" width="31.90" height="10.42" fill="#fbfbfb"/>
<text x="82.20" y="532.37" font-size="4.6" text-anchor="middle" font-weight="normal" fill="#222">-0.1</text>
<text x="114.10" y="532.37" font-size="4.6" text-anchor="middle" font-weight="normal" fill="#222">0.0</text>
<text x="62.80" y="532.37" font-size="4.45" text-anchor="end" font-weight="normal" fill="#2a2a2a">Weak</text>
<rect x="25.60" y="526.36" width="3.60" height="8.22" fill="#b5d596"/>
<rect x="66.20" y="535.88" width="31.90" height="10.42" fill="#eef3f7"/>
<rect x="98.10" y="535.88" width="31.90" height="10.42" fill="#e2e8ee"/>
<text x="82.20" y="542.79" font-size="4.6" text-anchor="middle" font-weight="normal" fill="#222">-0.1</text>
<text x="114.10" y="542.79" font-size="4.6" text-anchor="middle" font-weight="normal" fill="#222">-0.2</text>
<text x="62.80" y="542.79" font-size="4.45" text-anchor="end" font-weight="normal" fill="#2a2a2a">Heterochrom.</text>
<rect x="25.60" y="536.78" width="3.60" height="8.22" fill="#7b7b7b"/>
<rect x="66.20" y="546.30" width="31.90" height="10.42" fill="#eef3f7"/>
<rect x="98.10" y="546.30" width="31.90" height="10.42" fill="#eef3f7"/>
<text x="82.20" y="553.21" font-size="4.6" text-anchor="middle" font-weight="normal" fill="#222">-0.1</text>
<text x="114.10" y="553.21" font-size="4.6" text-anchor="middle" font-weight="normal" fill="#222">-0.1</text>
<text x="62.80" y="553.21" font-size="4.45" text-anchor="end" font-weight="normal" fill="#2a2a2a">Polycomb</text>
<rect x="25.60" y="547.20" width="3.60" height="8.22" fill="#bdbdbd"/>
<rect x="66.20" y="556.72" width="31.90" height="10.42" fill="#eef3f7"/>
<rect x="98.10" y="556.72" width="31.90" height="10.42" fill="#eef3f7"/>
<text x="82.20" y="563.63" font-size="4.6" text-anchor="middle" font-weight="normal" fill="#222">-0.1</text>
<text x="114.10" y="563.63" font-size="4.6" text-anchor="middle" font-weight="normal" fill="#222">-0.1</text>
<text x="62.80" y="563.63" font-size="4.45" text-anchor="end" font-weight="normal" fill="#2a2a2a">Low signal</text>
<rect x="25.60" y="557.62" width="3.60" height="8.22" fill="#f1f1f1"/>
<line x1="66.20" y1="452.52" x2="130.00" y2="452.52" stroke="#ffffff" stroke-width="0.5"/>
<line x1="66.20" y1="462.94" x2="130.00" y2="462.94" stroke="#ffffff" stroke-width="0.5"/>
<line x1="66.20" y1="473.36" x2="130.00" y2="473.36" stroke="#ffffff" stroke-width="0.9"/>
<line x1="66.20" y1="483.78" x2="130.00" y2="483.78" stroke="#ffffff" stroke-width="0.5"/>
<line x1="66.20" y1="494.20" x2="130.00" y2="494.20" stroke="#ffffff" stroke-width="0.5"/>
<line x1="66.20" y1="504.62" x2="130.00" y2="504.62" stroke="#ffffff" stroke-width="0.9"/>
<line x1="66.20" y1="515.04" x2="130.00" y2="515.04" stroke="#ffffff" stroke-width="0.5"/>
<line x1="66.20" y1="525.46" x2="130.00" y2="525.46" stroke="#ffffff" stroke-width="0.5"/>
<line x1="66.20" y1="535.88" x2="130.00" y2="535.88" stroke="#ffffff" stroke-width="0.9"/>
<line x1="66.20" y1="546.30" x2="130.00" y2="546.30" stroke="#ffffff" stroke-width="0.5"/>
<line x1="66.20" y1="556.72" x2="130.00" y2="556.72" stroke="#ffffff" stroke-width="0.5"/>
<line x1="98.10" y1="442.10" x2="98.10" y2="567.14" stroke="#ffffff" stroke-width="0.3"/>
<line x1="22.60" y1="442.90" x2="22.60" y2="472.56" stroke="#d99a9a" stroke-width="1.0"/>
<rect x="133.40" y="442.90" width="1.50" height="29.66" fill="#d99a9a"/>
<text x="17.50" y="457.73" font-size="4.45" text-anchor="middle" font-weight="normal" fill="#2a2a2a" transform="rotate(-90 17.50 457.73)">Promoter</text>
<line x1="22.60" y1="474.16" x2="22.60" y2="503.82" stroke="#e3a244" stroke-width="1.0"/>
<rect x="133.40" y="474.16" width="1.50" height="29.66" fill="#e3a244"/>
<text x="17.50" y="488.99" font-size="4.45" text-anchor="middle" font-weight="normal" fill="#2a2a2a" transform="rotate(-90 17.50 488.99)">Enhancer</text>
<line x1="22.60" y1="505.42" x2="22.60" y2="535.08" stroke="#8fc154" stroke-width="1.0"/>
<rect x="133.40" y="505.42" width="1.50" height="29.66" fill="#8fc154"/>
<text x="17.50" y="520.25" font-size="4.45" text-anchor="middle" font-weight="normal" fill="#2a2a2a" transform="rotate(-90 17.50 520.25)">Transcrip.</text>
<line x1="22.60" y1="536.68" x2="22.60" y2="566.34" stroke="#777777" stroke-width="1.0"/>
<rect x="133.40" y="536.68" width="1.50" height="29.66" fill="#777777"/>
<text x="17.50" y="551.51" font-size="4.45" text-anchor="middle" font-weight="normal" fill="#2a2a2a" transform="rotate(-90 17.50 551.51)">Repressed</text>
<defs><linearGradient id="cb" x1="0" x2="1" y1="0" y2="0"><stop offset="0" stop-color="#1d4f91"/><stop offset="0.25" stop-color="#7fa9d0"/><stop offset="0.5" stop-color="#fafafa"/><stop offset="0.75" stop-color="#e08a8a"/><stop offset="1" stop-color="#b2182b"/></linearGradient></defs>
<rect x="74.40" y="577.80" width="48.90" height="5.80" fill="url(#cb)" stroke="#111" stroke-width="0.6"/>
<text x="98.60" y="575.00" font-size="4.45" text-anchor="middle" font-weight="normal" fill="#2a2a2a">Log2FC</text>
<text x="72.20" y="582.30" font-size="4.45" text-anchor="end" font-weight="normal" fill="#2a2a2a">&lt;-2</text>
<text x="125.30" y="582.30" font-size="4.45" text-anchor="start" font-weight="normal" fill="#2a2a2a">&gt;2</text>
<line x1="178.10" y1="426.80" x2="188.50" y2="426.80" stroke="#4a86cc" stroke-width="1.2"/>
<text x="192.00" y="428.50" font-size="4.45" text-anchor="start" font-weight="normal" fill="#2a2a2a">cMCL</text>
<line x1="218.00" y1="426.80" x2="228.90" y2="426.80" stroke="#f2c61f" stroke-width="1.2"/>
<text x="232.40" y="428.50" font-size="4.45" text-anchor="start" font-weight="normal" fill="#2a2a2a">rnMCL</text>
<line x1="178.10" y1="434.50" x2="178.10" y2="567.50" stroke="#222" stroke-width="1.0"/>
<line x1="175.50" y1="565.82" x2="178.10" y2="565.82" stroke="#222" stroke-width="0.9"/>
<text x="171.50" y="567.32" font-size="4.1" text-anchor="end" font-weight="normal" fill="#2a2a2a">60</text>
<line x1="175.50" y1="554.90" x2="178.10" y2="554.90" stroke="#222" stroke-width="0.9"/>
<text x="171.50" y="556.40" font-size="4.1" text-anchor="end" font-weight="normal" fill="#2a2a2a">50</text>
<line x1="175.50" y1="543.98" x2="178.10" y2="543.98" stroke="#222" stroke-width="0.9"/>
<text x="171.50" y="545.48" font-size="4.1" text-anchor="end" font-weight="normal" fill="#2a2a2a">40</text>
<line x1="175.50" y1="533.06" x2="178.10" y2="533.06" stroke="#222" stroke-width="0.9"/>
<text x="171.50" y="534.56" font-size="4.1" text-anchor="end" font-weight="normal" fill="#2a2a2a">30</text>
<line x1="175.50" y1="522.14" x2="178.10" y2="522.14" stroke="#222" stroke-width="0.9"/>
<text x="171.50" y="523.64" font-size="4.1" text-anchor="end" font-weight="normal" fill="#2a2a2a">20</text>
<line x1="175.50" y1="511.22" x2="178.10" y2="511.22" stroke="#222" stroke-width="0.9"/>
<text x="171.50" y="512.72" font-size="4.1" text-anchor="end" font-weight="normal" fill="#2a2a2a">10</text>
<line x1="175.50" y1="500.30" x2="178.10" y2="500.30" stroke="#222" stroke-width="0.9"/>
<text x="171.50" y="501.80" font-size="4.1" text-anchor="end" font-weight="normal" fill="#2a2a2a">0</text>
<line x1="175.50" y1="489.38" x2="178.10" y2="489.38" stroke="#222" stroke-width="0.9"/>
<text x="171.50" y="490.88" font-size="4.1" text-anchor="end" font-weight="normal" fill="#2a2a2a">10</text>
<line x1="175.50" y1="478.46" x2="178.10" y2="478.46" stroke="#222" stroke-width="0.9"/>
<text x="171.50" y="479.96" font-size="4.1" text-anchor="end" font-weight="normal" fill="#2a2a2a">20</text>
<line x1="175.50" y1="467.54" x2="178.10" y2="467.54" stroke="#222" stroke-width="0.9"/>
<text x="171.50" y="469.04" font-size="4.1" text-anchor="end" font-weight="normal" fill="#2a2a2a">30</text>
<line x1="175.50" y1="456.62" x2="178.10" y2="456.62" stroke="#222" stroke-width="0.9"/>
<text x="171.50" y="458.12" font-size="4.1" text-anchor="end" font-weight="normal" fill="#2a2a2a">40</text>
<line x1="175.50" y1="445.70" x2="178.10" y2="445.70" stroke="#222" stroke-width="0.9"/>
<text x="171.50" y="447.20" font-size="4.1" text-anchor="end" font-weight="normal" fill="#2a2a2a">50</text>
<line x1="175.50" y1="434.78" x2="178.10" y2="434.78" stroke="#222" stroke-width="0.9"/>
<text x="171.50" y="436.28" font-size="4.1" text-anchor="end" font-weight="normal" fill="#2a2a2a">60</text>
<text x="162.20" y="500.80" font-size="5.7" text-anchor="middle" font-weight="normal" fill="#2a2a2a" transform="rotate(-90 162.20 500.80)" textLength="32.4" lengthAdjust="spacingAndGlyphs">Frequency (%)</text>
<path d="M178.10,500.30 L178.10,497.92 L179.17,497.92 L179.17,492.85 L180.05,492.85 L180.05,497.47 L180.96,497.47 L180.96,497.15 L182.06,497.15 L182.06,497.21 L183.01,497.21 L183.01,497.40 L183.76,497.40 L183.76,497.97 L184.33,497.97 L184.33,496.80 L184.96,496.80 L184.96,496.70 L185.85,496.70 L185.85,496.84 L186.55,496.84 L186.55,498.04 L187.43,498.04 L187.43,493.97 L188.23,493.97 L188.23,497.64 L188.65,497.64 L188.65,497.46 L189.18,497.46 L189.18,497.19 L189.71,497.19 L189.71,497.49 L190.64,497.49 L190.64,498.15 L191.41,498.15 L191.41,496.90 L192.04,496.90 L192.04,496.93 L192.47,496.93 L192.47,498.25 L192.91,498.25 L192.91,498.41 L193.92,498.41 L193.92,496.35 L194.83,496.35 L194.83,497.40 L195.35,497.40 L195.35,498.67 L196.32,498.67 L196.32,497.67 L197.37,497.67 L197.37,498.86 L198.46,498.86 L198.46,497.15 L199.26,497.15 L199.26,496.30 L199.93,496.30 L199.93,497.11 L200.41,497.11 L200.41,497.40 L201.01,497.40 L201.01,495.30 L202.06,495.30 L202.06,497.28 L202.54,497.28 L202.54,494.59 L203.56,494.59 L203.56,498.62 L204.38,498.62 L204.38,497.42 L205.26,497.42 L205.26,498.00 L206.06,498.00 L206.06,498.30 L206.95,498.30 L206.95,496.88 L207.65,496.88 L207.65,497.71 L208.18,497.71 L208.18,497.97 L208.84,497.97 L208.84,498.57 L209.73,498.57 L209.73,497.63 L210.41,497.63 L210.41,498.52 L211.21,498.52 L211.21,498.78 L212.10,498.78 L212.10,498.16 L212.84,498.16 L212.84,498.57 L213.29,498.57 L213.29,496.29 L214.02,496.29 L214.02,497.53 L214.62,497.53 L214.62,495.21 L215.37,495.21 L215.37,496.29 L216.43,496.29 L216.43,497.53 L217.05,497.53 L217.05,497.89 L217.57,497.89 L217.57,498.14 L218.47,498.14 L218.47,496.05 L219.34,496.05 L219.34,498.72 L220.00,498.72 L220.00,499.68 L220.52,499.68 L220.52,498.26 L221.11,498.26 L221.11,498.73 L222.08,498.73 L222.08,497.75 L222.61,497.75 L222.61,497.86 L223.44,497.86 L223.44,498.79 L223.89,498.79 L223.89,499.25 L224.67,499.25 L224.67,498.41 L225.25,498.41 L225.25,496.18 L226.33,496.18 L226.33,495.54 L227.15,495.54 L227.15,493.61 L227.66,493.61 L227.66,494.70 L228.58,494.70 L228.58,498.00 L229.42,498.00 L229.42,497.50 L229.88,497.50 L229.88,498.14 L230.67,498.14 L230.67,497.60 L231.60,497.60 L231.60,498.16 L232.41,498.16 L232.41,492.51 L233.36,492.51 L233.36,492.23 L234.01,492.23 L234.01,492.69 L234.76,492.69 L234.76,493.10 L235.29,493.10 L235.29,492.86 L236.32,492.86 L236.32,492.64 L237.27,492.64 L237.27,492.82 L238.06,492.82 L238.06,487.65 L238.57,487.65 L238.57,493.95 L239.47,493.95 L239.47,493.70 L240.44,493.70 L240.44,492.42 L241.46,492.42 L241.46,489.68 L241.94,489.68 L241.94,493.51 L242.39,493.51 L242.39,487.70 L242.85,487.70 L242.85,487.15 L243.96,487.15 L243.96,478.46 L244.96,478.46 L244.96,468.63 L246.02,468.63 L246.02,452.25 L246.57,452.25 L246.57,452.25 L247.47,452.25 L247.47,447.88 L248.45,447.88 L248.45,444.61 L249.38,444.61 L249.38,444.61 L249.99,444.61 L249.99,442.42 L251.09,442.42 L251.09,441.11 L252.02,441.11 L252.02,441.11 L252.92,441.11 L252.92,441.11 L253.54,441.11 L253.54,492.64 L254.49,492.64 L254.49,493.36 L255.20,493.36 L255.20,492.73 L255.65,492.73 L255.65,489.69 L256.27,489.69 L256.27,492.84 L257.13,492.84 L257.13,491.70 L257.65,491.70 L257.65,491.55 L258.11,491.55 L258.11,491.82 L258.91,491.82 L258.91,492.04 L259.65,492.04 L259.65,492.20 L260.12,492.20 L260.12,493.71 L261.15,493.71 L261.15,492.07 L262.24,492.07 L262.24,485.01 L263.17,485.01 L263.17,485.01 L264.13,485.01 L264.13,485.01 L265.19,485.01 L265.19,485.01 L265.65,485.01 L265.65,485.01 L266.58,485.01 L266.58,485.01 L267.41,485.01 L267.41,485.01 L267.84,485.01 L267.84,485.01 L268.44,485.01 L268.44,485.01 L269.36,485.01 L269.36,485.01 L270.15,485.01 L270.15,485.01 L270.97,485.01 L270.97,485.01 L271.59,485.01 L271.59,485.01 L272.40,485.01 L272.40,485.01 L273.44,485.01 L273.44,485.01 L274.54,485.01 L274.54,497.80 L275.48,497.80 L275.48,496.74 L276.48,496.74 L276.48,496.85 L277.00,496.85 L277.00,497.55 L277.53,497.55 L277.53,497.02 L278.50,497.02 L278.50,498.68 L279.10,498.68 L279.10,498.23 L279.52,498.23 L279.52,499.36 L280.57,499.36 L280.57,498.89 L281.49,498.89 L281.49,498.82 L282.13,498.82 L282.13,499.45 L282.96,499.45 L282.96,499.96 L283.60,499.96 L283.60,498.18 L284.23,498.18 L284.23,499.53 L284.76,499.53 L284.76,497.80 L285.68,497.80 L285.68,498.92 L286.72,498.92 L286.72,499.19 L287.32,499.19 L287.32,499.97 L287.81,499.97 L287.81,498.74 L288.71,498.74 L288.71,496.12 L289.22,496.12 L289.22,499.97 L289.92,499.97 L289.92,498.46 L290.82,498.46 L290.82,499.60 L291.87,499.60 L291.87,498.48 L292.41,498.48 L292.41,497.25 L293.33,497.25 L293.33,498.83 L294.24,498.83 L294.24,490.39 L294.76,490.39 L294.76,491.43 L295.71,491.43 L295.71,491.91 L296.30,491.91 L296.30,491.17 L297.03,491.17 L297.03,497.39 L297.47,497.39 L297.47,497.48 L298.15,497.48 L298.15,497.56 L299.25,497.56 L299.25,496.01 L299.88,496.01 L299.88,496.64 L300.45,496.64 L300.45,498.98 L301.23,498.98 L301.23,499.55 L302.20,499.55 L302.20,499.97 L303.10,499.97 L303.10,497.59 L303.81,497.59 L303.81,499.40 L304.76,499.40 L304.76,498.75 L305.53,498.75 L305.53,499.12 L305.97,499.12 L305.97,499.64 L306.97,499.64 L306.97,499.16 L308.07,499.16 L308.07,498.66 L308.55,498.66 L308.55,497.19 L309.46,497.19 L309.46,499.29 L310.08,499.29 L310.08,499.43 L310.57,499.43 L310.57,499.33 L311.26,499.33 L311.26,499.33 L312.08,499.33 L312.08,469.72 L312.68,469.72 L312.68,469.72 L313.48,469.72 L313.48,469.72 L314.44,469.72 L314.44,473.00 L314.92,473.00 L314.92,473.00 L315.47,473.00 L315.47,483.92 L315.91,483.92 L315.91,483.92 L316.67,483.92 L316.67,483.92 L317.17,483.92 L317.17,483.92 L317.95,483.92 L317.95,483.92 L318.49,483.92 L318.49,493.20 L319.10,493.20 L319.10,492.66 L319.85,492.66 L319.85,493.78 L320.87,493.78 L320.87,493.54 L321.40,493.54 L321.40,491.19 L322.30,491.19 L322.30,493.37 L323.31,493.37 L323.31,493.30 L323.85,493.30 L323.85,489.94 L324.39,489.94 L324.39,492.87 L325.32,492.87 L325.32,491.50 L325.87,491.50 L325.87,493.19 L326.57,493.19 L326.57,493.19 L327.42,493.19 L327.42,492.38 L328.44,492.38 L328.44,500.30 L329.40,500.30 L329.40,500.30 L330.17,500.30 L330.17,500.30 L330.88,500.30 L330.88,500.30 L331.68,500.30 L331.68,500.30 L332.42,500.30 L332.42,500.30 L333.31,500.30 L333.31,500.30 L334.32,500.30 L334.32,496.14 L335.06,496.14 L335.06,496.35 L335.56,496.35 L335.56,497.32 L336.02,497.32 L336.02,495.49 L336.94,495.49 L336.94,495.99 L337.60,495.99 L337.60,495.97 L338.10,495.97 L338.10,496.51 L338.87,496.51 L338.87,496.54 L339.37,496.54 L339.37,495.36 L340.32,495.36 L340.32,497.02 L340.95,497.02 L340.95,494.91 L342.03,494.91 L342.03,495.59 L343.01,495.59 L343.01,495.76 L344.04,495.76 L344.04,496.19 L344.96,496.19 L344.96,499.97 L345.58,499.97 L345.58,495.90 L346.04,495.90 L346.04,499.94 L346.77,499.94 L346.77,499.97 L347.75,499.97 L347.75,499.66 L348.41,499.66 L348.41,499.97 L349.26,499.97 L349.26,496.51 L350.12,496.51 L350.12,497.20 L351.05,497.20 L351.05,497.43 L351.61,497.43 L351.61,497.68 L352.16,497.68 L352.16,497.80 L352.66,497.80 L352.66,496.92 L353.27,496.92 L353.27,497.13 L353.84,497.13 L353.84,496.39 L354.91,496.39 L354.91,496.66 L355.61,496.66 L355.61,497.15 L356.52,497.15 L356.52,497.63 L357.61,497.63 L357.61,497.40 L358.21,497.40 L358.21,499.74 L359.12,499.74 L359.12,499.92 L359.84,499.92 L359.84,499.32 L360.38,499.32 L360.38,497.10 L361.27,497.10 L361.27,488.28 L362.23,488.28 L362.23,487.45 L362.70,487.45 L362.70,486.80 L363.51,486.80 L363.51,493.44 L364.05,493.44 L364.05,494.98 L364.66,494.98 L364.66,497.01 L365.76,497.01 L365.76,496.38 L366.62,496.38 L366.62,496.73 L367.71,496.73 L367.71,497.15 L368.52,497.15 L368.52,497.87 L369.37,497.87 L369.37,499.48 L370.46,499.48 L370.46,497.39 L371.05,497.39 L371.05,497.44 L372.04,497.44 L372.04,498.77 L372.65,498.77 L372.65,499.97 L373.77,499.97 L373.77,499.01 L374.69,499.01 L374.69,499.14 L375.53,499.14 L375.53,499.53 L376.05,499.53 L376.05,498.97 L377.07,498.97 L377.07,499.96 L377.79,499.96 L377.79,499.08 L378.57,499.08 L378.57,499.97 L379.02,499.97 L379.02,498.66 L380.05,498.66 L380.05,491.34 L381.14,491.34 L381.14,491.60 L381.82,491.60 L381.82,490.36 L382.94,490.36 L382.94,491.77 L383.76,491.77 L383.76,498.07 L384.28,498.07 L384.28,498.20 L384.98,498.20 L384.98,497.76 L385.76,497.76 L385.76,498.10 L386.46,498.10 L386.46,498.96 L386.96,498.96 L386.96,497.87 L387.61,497.87 L387.61,498.00 L388.03,498.00 L388.03,498.07 L389.13,498.07 L389.13,497.23 L389.96,497.23 L389.96,496.53 L390.41,496.53 L390.41,497.46 L391.37,497.46 L391.37,492.71 L392.38,492.71 L392.38,491.52 L393.28,491.52 L393.28,485.01 L394.31,485.01 L394.31,485.01 L395.17,485.01 L395.17,491.17 L395.67,491.17 L395.67,491.44 L396.77,491.44 L396.77,493.40 L397.74,493.40 L397.74,491.59 L398.32,491.59 L398.32,491.17 L399.17,491.17 L399.17,489.20 L399.91,489.20 L399.91,490.23 L400.91,490.23 L400.91,492.82 L401.99,492.82 L401.99,493.84 L402.59,493.84 L402.59,493.27 L403.68,493.27 L403.68,491.53 L404.41,491.53 L404.41,492.08 L405.39,492.08 L405.39,495.23 L406.49,495.23 L406.49,492.85 L407.34,492.85 L407.34,495.07 L408.39,495.07 L408.39,494.48 L409.49,494.48 L409.49,495.61 L410.47,495.61 L410.47,495.23 L411.24,495.23 L411.24,495.92 L412.12,495.92 L412.12,487.04 L412.63,487.04 L412.63,497.15 L413.30,497.15 L413.30,496.88 L413.82,496.88 L413.82,497.86 L414.75,497.86 L414.75,498.00 L415.17,498.00 L415.17,496.75 L415.61,496.75 L415.61,497.15 L416.27,497.15 L416.27,497.56 L417.12,497.56 L417.12,496.51 L418.13,496.51 L418.13,495.75 L419.07,495.75 L419.07,494.58 L419.61,494.58 L419.61,495.16 L420.06,495.16 L420.06,499.07 L420.55,499.07 L420.55,498.96 L421.55,498.96 L421.55,497.39 L422.48,497.39 L422.48,496.40 L423.44,496.40 L423.44,497.79 L424.44,497.79 L424.44,498.01 L424.91,498.01 L424.91,499.53 L425.41,499.53 L425.41,497.91 L425.91,497.91 L425.91,498.71 L426.83,498.71 L426.83,499.24 L427.85,499.24 L427.85,499.59 L428.62,499.59 L428.62,498.24 L429.50,498.24 L429.50,499.09 L430.36,499.09 L430.36,499.02 L431.46,499.02 L431.46,487.62 L431.96,487.62 L431.96,487.86 L432.65,487.86 L432.65,487.85 L433.72,487.85 L433.72,487.03 L434.15,487.03 L434.15,486.99 L434.96,486.99 L434.96,487.40 L435.84,487.40 L435.84,487.62 L436.59,487.62 L436.59,498.60 L437.29,498.60 L437.29,499.49 L437.91,499.49 L437.91,499.92 L438.87,499.92 L438.87,499.94 L439.85,499.94 L439.85,498.93 L440.45,498.93 L440.45,498.85 L441.11,498.85 L441.11,498.95 L441.75,498.95 L441.75,499.75 L442.59,499.75 L442.59,499.85 L443.39,499.85 L443.39,498.34 L443.97,498.34 L443.97,499.75 L444.72,499.75 L444.72,498.08 L445.80,498.08 L445.80,499.29 L446.50,499.29 L446.50,499.51 L447.12,499.51 L447.12,499.97 L447.60,499.97 L447.60,498.92 L448.04,498.92 L448.04,499.51 L448.59,499.51 L448.59,498.86 L449.61,498.86 L449.61,499.49 L450.70,499.49 L450.70,497.57 L451.60,497.57 L451.60,497.04 L452.60,497.04 L452.60,496.57 L453.23,496.57 L453.23,497.26 L454.15,497.26 L454.15,498.12 L454.61,498.12 L454.61,497.24 L455.06,497.24 L455.06,495.95 L455.60,495.95 L455.60,497.84 L456.40,497.84 L456.40,495.43 L457.49,495.43 L457.49,495.27 L458.40,495.27 L458.40,491.88 L458.82,491.88 L458.82,491.02 L459.59,491.02 L459.59,491.20 L460.38,491.20 L460.38,486.10 L461.31,486.10 L461.31,486.10 L462.09,486.10 L462.09,493.81 L463.07,493.81 L463.07,494.32 L464.05,494.32 L464.05,494.24 L464.93,494.24 L464.93,494.72 L465.63,494.72 L465.63,492.55 L466.28,492.55 L466.28,493.46 L466.78,493.46 L466.78,493.52 L467.21,493.52 L467.21,493.85 L468.12,493.85 L468.12,498.01 L469.18,498.01 L469.18,498.91 L469.79,498.91 L469.79,497.60 L470.65,497.60 L470.65,497.66 L471.58,497.66 L471.58,494.91 L472.36,494.91 L472.36,498.32 L473.01,498.32 L473.01,497.42 L473.91,497.42 L473.91,498.41 L474.85,498.41 L474.85,497.82 L475.28,497.82 L475.28,498.36 L476.21,498.36 L476.21,495.65 L477.04,495.65 L477.04,495.15 L478.08,495.15 L478.08,495.97 L478.87,495.97 L478.87,495.72 L479.60,495.72 L479.60,495.09 L480.31,495.09 L480.31,493.88 L481.12,493.88 L481.12,493.35 L482.10,493.35 L482.10,494.22 L483.16,494.22 L483.16,495.20 L483.58,495.20 L483.58,494.24 L484.49,494.24 L484.49,494.65 L485.45,494.65 L485.45,494.88 L485.97,494.88 L485.97,494.92 L486.46,494.92 L486.46,489.04 L487.39,489.04 L487.39,495.33 L487.60,495.33 L487.60,500.30 Z" stroke="none" stroke-width="1" fill="#a6c3e8"/>
<path d="M178.10,500.30 L178.10,500.63 L179.02,500.63 L179.02,502.35 L179.71,502.35 L179.71,506.99 L180.56,506.99 L180.56,501.49 L181.60,501.49 L181.60,501.01 L182.11,501.01 L182.11,501.55 L183.01,501.55 L183.01,504.09 L183.59,504.09 L183.59,503.99 L184.11,503.99 L184.11,506.38 L184.70,506.38 L184.70,506.35 L185.35,506.35 L185.35,511.50 L186.07,511.50 L186.07,516.68 L186.77,516.68 L186.77,516.68 L187.83,516.68 L187.83,522.14 L188.37,522.14 L188.37,527.60 L188.93,527.60 L188.93,527.60 L189.76,527.60 L189.76,533.06 L190.62,533.06 L190.62,537.43 L191.35,537.43 L191.35,533.06 L192.16,533.06 L192.16,522.14 L192.89,522.14 L192.89,522.14 L193.77,522.14 L193.77,511.89 L194.77,511.89 L194.77,505.11 L195.51,505.11 L195.51,505.20 L196.53,505.20 L196.53,507.10 L197.37,507.10 L197.37,504.13 L198.23,504.13 L198.23,505.19 L198.93,505.19 L198.93,503.92 L200.01,503.92 L200.01,503.46 L201.05,503.46 L201.05,503.37 L201.65,503.37 L201.65,504.16 L202.38,504.16 L202.38,504.91 L202.95,504.91 L202.95,503.87 L203.53,503.87 L203.53,503.40 L204.23,503.40 L204.23,503.40 L204.94,503.40 L204.94,503.33 L205.87,503.33 L205.87,503.97 L206.50,503.97 L206.50,503.34 L207.06,503.34 L207.06,504.66 L207.80,504.66 L207.80,503.34 L208.67,503.34 L208.67,503.54 L209.64,503.54 L209.64,503.31 L210.65,503.31 L210.65,504.42 L211.08,504.42 L211.08,503.85 L211.65,503.85 L211.65,504.14 L212.56,504.14 L212.56,504.34 L213.43,504.34 L213.43,504.73 L214.39,504.73 L214.39,503.39 L215.42,503.39 L215.42,503.21 L215.94,503.21 L215.94,503.43 L216.78,503.43 L216.78,504.83 L217.44,504.83 L217.44,508.89 L218.50,508.89 L218.50,505.11 L218.93,505.11 L218.93,504.54 L219.54,504.54 L219.54,505.97 L220.63,505.97 L220.63,509.52 L221.58,509.52 L221.58,512.29 L222.39,512.29 L222.39,507.30 L223.14,507.30 L223.14,505.95 L224.05,505.95 L224.05,504.45 L224.86,504.45 L224.86,504.93 L225.81,504.93 L225.81,503.13 L226.37,503.13 L226.37,503.44 L227.47,503.44 L227.47,503.39 L228.51,503.39 L228.51,503.21 L229.18,503.21 L229.18,503.16 L229.77,503.16 L229.77,503.99 L230.68,503.99 L230.68,503.53 L231.44,503.53 L231.44,507.56 L232.55,507.56 L232.55,505.85 L233.67,505.85 L233.67,501.57 L234.77,501.57 L234.77,507.27 L235.78,507.27 L235.78,502.99 L236.47,502.99 L236.47,502.07 L237.57,502.07 L237.57,502.42 L238.51,502.42 L238.51,501.95 L239.41,501.95 L239.41,501.47 L240.03,501.47 L240.03,503.09 L241.05,503.09 L241.05,501.67 L241.98,501.67 L241.98,503.49 L242.55,503.49 L242.55,502.11 L243.45,502.11 L243.45,502.43 L244.44,502.43 L244.44,503.12 L245.17,503.12 L245.17,504.06 L246.09,504.06 L246.09,502.46 L246.79,502.46 L246.79,501.67 L247.22,501.67 L247.22,503.12 L247.68,503.12 L247.68,502.63 L248.34,502.63 L248.34,501.98 L248.81,501.98 L248.81,502.13 L249.29,502.13 L249.29,503.06 L250.33,503.06 L250.33,502.38 L250.96,502.38 L250.96,503.00 L251.82,503.00 L251.82,501.47 L252.38,501.47 L252.38,503.62 L253.39,503.62 L253.39,501.48 L253.82,501.48 L253.82,502.98 L254.78,502.98 L254.78,505.77 L255.46,505.77 L255.46,501.50 L256.40,501.50 L256.40,503.14 L257.26,503.14 L257.26,503.05 L258.13,503.05 L258.13,503.74 L258.72,503.74 L258.72,503.80 L259.41,503.80 L259.41,503.29 L260.28,503.29 L260.28,502.55 L261.22,502.55 L261.22,501.02 L261.76,501.02 L261.76,503.06 L262.41,503.06 L262.41,500.75 L263.41,500.75 L263.41,502.52 L263.95,502.52 L263.95,500.82 L265.00,500.82 L265.00,501.94 L266.09,501.94 L266.09,502.77 L266.67,502.77 L266.67,501.89 L267.68,501.89 L267.68,502.57 L268.21,502.57 L268.21,502.57 L269.17,502.57 L269.17,502.47 L270.22,502.47 L270.22,502.24 L270.76,502.24 L270.76,502.14 L271.83,502.14 L271.83,501.80 L272.57,501.80 L272.57,501.55 L273.51,501.55 L273.51,502.10 L274.55,502.10 L274.55,503.30 L275.04,503.30 L275.04,503.59 L275.73,503.59 L275.73,504.12 L276.39,504.12 L276.39,503.95 L277.04,503.95 L277.04,503.61 L277.62,503.61 L277.62,504.47 L278.24,504.47 L278.24,503.53 L278.94,503.53 L278.94,504.07 L279.96,504.07 L279.96,502.89 L280.98,502.89 L280.98,504.67 L281.89,504.67 L281.89,504.45 L282.58,504.45 L282.58,502.49 L283.23,502.49 L283.23,502.72 L284.18,502.72 L284.18,503.43 L285.26,503.43 L285.26,503.84 L286.34,503.84 L286.34,504.73 L287.36,504.73 L287.36,504.14 L288.04,504.14 L288.04,502.85 L289.09,502.85 L289.09,502.86 L289.83,502.86 L289.83,502.73 L290.33,502.73 L290.33,503.82 L291.40,503.82 L291.40,505.60 L292.16,505.60 L292.16,504.12 L293.12,504.12 L293.12,504.41 L294.18,504.41 L294.18,501.83 L295.01,501.83 L295.01,501.83 L295.64,501.83 L295.64,503.03 L296.07,503.03 L296.07,502.25 L297.15,502.25 L297.15,506.51 L297.59,506.51 L297.59,505.80 L298.11,505.80 L298.11,510.06 L298.96,510.06 L298.96,506.28 L299.50,506.28 L299.50,506.57 L300.33,506.57 L300.33,510.63 L301.33,510.63 L301.33,519.96 L302.34,519.96 L302.34,527.60 L302.93,527.60 L302.93,527.60 L303.48,527.60 L303.48,534.15 L303.91,534.15 L303.91,534.15 L304.94,534.15 L304.94,538.52 L305.50,538.52 L305.50,541.80 L306.33,541.80 L306.33,540.70 L307.12,540.70 L307.12,540.70 L308.00,540.70 L308.00,533.06 L309.07,533.06 L309.07,526.51 L309.95,526.51 L309.95,519.96 L310.50,519.96 L310.50,519.96 L311.22,519.96 L311.22,511.88 L311.90,511.88 L311.90,502.54 L312.93,502.54 L312.93,503.37 L313.52,503.37 L313.52,507.63 L314.22,507.63 L314.22,503.32 L314.80,503.32 L314.80,502.76 L315.25,502.76 L315.25,502.34 L316.18,502.34 L316.18,502.96 L317.09,502.96 L317.09,502.73 L318.01,502.73 L318.01,501.34 L318.97,501.34 L318.97,502.96 L319.66,502.96 L319.66,501.49 L320.46,501.49 L320.46,502.53 L321.38,502.53 L321.38,503.15 L322.41,503.15 L322.41,502.58 L323.00,502.58 L323.00,503.54 L323.84,503.54 L323.84,501.70 L324.41,501.70 L324.41,503.41 L325.11,503.41 L325.11,502.90 L325.95,502.90 L325.95,502.27 L326.91,502.27 L326.91,501.37 L327.51,501.37 L327.51,502.49 L328.62,502.49 L328.62,516.68 L329.24,516.68 L329.24,516.68 L329.72,516.68 L329.72,516.68 L330.60,516.68 L330.60,516.68 L331.70,516.68 L331.70,505.28 L332.28,505.28 L332.28,506.23 L333.10,506.23 L333.10,506.04 L333.79,506.04 L333.79,506.38 L334.82,506.38 L334.82,501.76 L335.69,501.76 L335.69,503.31 L336.22,503.31 L336.22,502.54 L336.92,502.54 L336.92,501.75 L337.65,501.75 L337.65,502.49 L338.32,502.49 L338.32,502.91 L339.08,502.91 L339.08,502.13 L340.15,502.13 L340.15,502.95 L341.09,502.95 L341.09,501.77 L342.08,501.77 L342.08,502.20 L342.75,502.20 L342.75,501.67 L343.71,501.67 L343.71,501.41 L344.78,501.41 L344.78,509.60 L345.63,509.60 L345.63,519.96 L346.61,519.96 L346.61,527.60 L347.57,527.60 L347.57,527.60 L348.00,527.60 L348.00,511.86 L348.99,511.86 L348.99,511.83 L349.47,511.83 L349.47,511.28 L349.97,511.28 L349.97,513.78 L350.89,513.78 L350.89,516.68 L351.43,516.68 L351.43,516.68 L352.53,516.68 L352.53,510.77 L353.57,510.77 L353.57,522.14 L354.34,522.14 L354.34,527.60 L355.35,527.60 L355.35,527.60 L356.08,527.60 L356.08,516.68 L356.70,516.68 L356.70,510.16 L357.13,510.16 L357.13,510.99 L358.08,510.99 L358.08,510.98 L358.91,510.98 L358.91,511.18 L359.43,511.18 L359.43,514.52 L360.12,514.52 L360.12,507.88 L360.64,507.88 L360.64,503.04 L361.39,503.04 L361.39,503.41 L361.86,503.41 L361.86,502.85 L362.58,502.85 L362.58,503.01 L363.67,503.01 L363.67,504.44 L364.48,504.44 L364.48,509.80 L365.44,509.80 L365.44,509.40 L366.28,509.40 L366.28,509.36 L366.78,509.36 L366.78,509.13 L367.63,509.13 L367.63,505.66 L368.16,505.66 L368.16,505.17 L368.94,505.17 L368.94,506.25 L369.75,506.25 L369.75,505.67 L370.22,505.67 L370.22,510.55 L371.12,510.55 L371.12,505.60 L371.58,505.60 L371.58,506.14 L372.40,506.14 L372.40,505.40 L372.85,505.40 L372.85,506.74 L373.30,506.74 L373.30,505.63 L373.88,505.63 L373.88,504.62 L374.77,504.62 L374.77,505.43 L375.70,505.43 L375.70,506.73 L376.79,506.73 L376.79,505.39 L377.76,505.39 L377.76,504.32 L378.47,504.32 L378.47,506.05 L379.58,506.05 L379.58,505.22 L380.07,505.22 L380.07,505.40 L380.62,505.40 L380.62,505.12 L381.39,505.12 L381.39,507.35 L382.18,507.35 L382.18,505.49 L383.27,505.49 L383.27,516.68 L384.22,516.68 L384.22,530.88 L385.26,530.88 L385.26,530.88 L386.23,530.88 L386.23,527.60 L386.72,527.60 L386.72,508.92 L387.61,508.92 L387.61,505.57 L388.12,505.57 L388.12,505.86 L388.78,505.86 L388.78,503.73 L389.86,503.73 L389.86,502.53 L390.39,502.53 L390.39,504.57 L391.40,504.57 L391.40,503.24 L392.21,503.24 L392.21,502.69 L392.85,502.69 L392.85,503.27 L393.32,503.27 L393.32,503.18 L394.01,503.18 L394.01,503.96 L395.12,503.96 L395.12,502.87 L395.88,502.87 L395.88,503.87 L396.33,503.87 L396.33,503.40 L397.10,503.40 L397.10,502.68 L397.82,502.68 L397.82,502.72 L398.83,502.72 L398.83,503.97 L399.75,503.97 L399.75,506.63 L400.81,506.63 L400.81,503.71 L401.42,503.71 L401.42,503.79 L402.22,503.79 L402.22,504.30 L402.89,504.30 L402.89,510.10 L403.62,510.10 L403.62,508.98 L404.47,508.98 L404.47,508.76 L404.90,508.76 L404.90,516.68 L405.80,516.68 L405.80,516.68 L406.28,516.68 L406.28,524.32 L406.91,524.32 L406.91,524.32 L407.75,524.32 L407.75,527.60 L408.78,527.60 L408.78,527.60 L409.65,527.60 L409.65,522.14 L410.74,522.14 L410.74,530.88 L411.17,530.88 L411.17,530.88 L412.15,530.88 L412.15,538.52 L413.09,538.52 L413.09,546.16 L414.01,546.16 L414.01,510.57 L414.47,510.57 L414.47,509.91 L414.97,509.91 L414.97,505.00 L416.01,505.00 L416.01,505.89 L417.01,505.89 L417.01,505.84 L417.63,505.84 L417.63,505.59 L418.17,505.59 L418.17,513.75 L418.97,513.75 L418.97,513.28 L419.89,513.28 L419.89,514.00 L420.32,514.00 L420.32,505.02 L421.16,505.02 L421.16,505.32 L421.63,505.32 L421.63,504.86 L422.41,504.86 L422.41,504.64 L423.50,504.64 L423.50,504.29 L424.41,504.29 L424.41,505.28 L424.85,505.28 L424.85,504.69 L425.71,504.69 L425.71,506.15 L426.27,506.15 L426.27,505.65 L426.85,505.65 L426.85,504.53 L427.78,504.53 L427.78,505.52 L428.56,505.52 L428.56,505.97 L429.67,505.97 L429.67,505.32 L430.74,505.32 L430.74,505.43 L431.37,505.43 L431.37,506.11 L432.09,506.11 L432.09,505.95 L433.07,505.95 L433.07,505.99 L433.49,505.99 L433.49,505.78 L434.60,505.78 L434.60,505.61 L435.50,505.61 L435.50,507.41 L436.23,507.41 L436.23,505.64 L437.32,505.64 L437.32,507.11 L437.79,507.11 L437.79,506.30 L438.60,506.30 L438.60,514.00 L439.21,514.00 L439.21,513.69 L440.17,513.69 L440.17,513.88 L441.20,513.88 L441.20,508.85 L441.92,508.85 L441.92,511.62 L442.53,511.62 L442.53,507.82 L443.12,507.82 L443.12,504.45 L444.02,504.45 L444.02,505.74 L444.50,505.74 L444.50,504.10 L445.54,504.10 L445.54,505.36 L446.03,505.36 L446.03,503.83 L446.68,503.83 L446.68,506.42 L447.12,506.42 L447.12,506.04 L447.63,506.04 L447.63,507.28 L448.06,507.28 L448.06,504.39 L448.75,504.39 L448.75,504.71 L449.74,504.71 L449.74,505.15 L450.52,505.15 L450.52,508.71 L451.57,508.71 L451.57,503.73 L452.36,503.73 L452.36,502.73 L453.46,502.73 L453.46,502.81 L454.57,502.81 L454.57,502.76 L455.11,502.76 L455.11,502.96 L456.10,502.96 L456.10,502.17 L456.87,502.17 L456.87,503.58 L457.83,503.58 L457.83,502.49 L458.44,502.49 L458.44,503.39 L459.14,503.39 L459.14,507.29 L459.67,507.29 L459.67,501.52 L460.61,501.52 L460.61,502.51 L461.67,502.51 L461.67,502.33 L462.25,502.33 L462.25,503.32 L463.10,503.32 L463.10,502.43 L463.68,502.43 L463.68,502.84 L464.40,502.84 L464.40,503.09 L465.05,503.09 L465.05,508.41 L465.56,508.41 L465.56,509.70 L466.49,509.70 L466.49,504.60 L467.26,504.60 L467.26,503.42 L468.03,503.42 L468.03,504.57 L468.71,504.57 L468.71,505.22 L469.37,505.22 L469.37,502.46 L469.81,502.46 L469.81,504.68 L470.37,504.68 L470.37,509.00 L471.47,509.00 L471.47,508.37 L472.18,508.37 L472.18,505.22 L473.28,505.22 L473.28,504.77 L474.25,504.77 L474.25,504.40 L474.79,504.40 L474.79,504.46 L475.72,504.46 L475.72,503.59 L476.49,503.59 L476.49,504.20 L477.20,504.20 L477.20,504.13 L477.92,504.13 L477.92,505.25 L478.57,505.25 L478.57,504.19 L479.64,504.19 L479.64,503.53 L480.60,503.53 L480.60,505.31 L481.10,505.31 L481.10,504.99 L481.53,504.99 L481.53,507.77 L482.65,507.77 L482.65,505.63 L483.75,505.63 L483.75,506.29 L484.52,506.29 L484.52,506.06 L484.99,506.06 L484.99,506.73 L485.51,506.73 L485.51,507.21 L485.97,507.21 L485.97,505.94 L487.07,505.94 L487.07,507.02 L487.60,507.02 L487.60,500.30 Z" stroke="none" stroke-width="1" fill="#a6c3e8"/>
<path d="M178.10,497.92 L179.17,497.92 L179.17,492.85 L180.05,492.85 L180.05,497.47 L180.96,497.47 L180.96,497.15 L182.06,497.15 L182.06,497.21 L183.01,497.21 L183.01,497.40 L183.76,497.40 L183.76,497.97 L184.33,497.97 L184.33,496.80 L184.96,496.80 L184.96,496.70 L185.85,496.70 L185.85,496.84 L186.55,496.84 L186.55,498.04 L187.43,498.04 L187.43,493.97 L188.23,493.97 L188.23,497.64 L188.65,497.64 L188.65,497.46 L189.18,497.46 L189.18,497.19 L189.71,497.19 L189.71,497.49 L190.64,497.49 L190.64,498.15 L191.41,498.15 L191.41,496.90 L192.04,496.90 L192.04,496.93 L192.47,496.93 L192.47,498.25 L192.91,498.25 L192.91,498.41 L193.92,498.41 L193.92,496.35 L194.83,496.35 L194.83,497.40 L195.35,497.40 L195.35,498.67 L196.32,498.67 L196.32,497.67 L197.37,497.67 L197.37,498.86 L198.46,498.86 L198.46,497.15 L199.26,497.15 L199.26,496.30 L199.93,496.30 L199.93,497.11 L200.41,497.11 L200.41,497.40 L201.01,497.40 L201.01,495.30 L202.06,495.30 L202.06,497.28 L202.54,497.28 L202.54,494.59 L203.56,494.59 L203.56,498.62 L204.38,498.62 L204.38,497.42 L205.26,497.42 L205.26,498.00 L206.06,498.00 L206.06,498.30 L206.95,498.30 L206.95,496.88 L207.65,496.88 L207.65,497.71 L208.18,497.71 L208.18,497.97 L208.84,497.97 L208.84,498.57 L209.73,498.57 L209.73,497.63 L210.41,497.63 L210.41,498.52 L211.21,498.52 L211.21,498.78 L212.10,498.78 L212.10,498.16 L212.84,498.16 L212.84,498.57 L213.29,498.57 L213.29,496.29 L214.02,496.29 L214.02,497.53 L214.62,497.53 L214.62,495.21 L215.37,495.21 L215.37,496.29 L216.43,496.29 L216.43,497.53 L217.05,497.53 L217.05,497.89 L217.57,497.89 L217.57,498.14 L218.47,498.14 L218.47,496.05 L219.34,496.05 L219.34,498.72 L220.00,498.72 L220.00,499.68 L220.52,499.68 L220.52,498.26 L221.11,498.26 L221.11,498.73 L222.08,498.73 L222.08,497.75 L222.61,497.75 L222.61,497.86 L223.44,497.86 L223.44,498.79 L223.89,498.79 L223.89,499.25 L224.67,499.25 L224.67,498.41 L225.25,498.41 L225.25,496.18 L226.33,496.18 L226.33,495.54 L227.15,495.54 L227.15,493.61 L227.66,493.61 L227.66,494.70 L228.58,494.70 L228.58,498.00 L229.42,498.00 L229.42,497.50 L229.88,497.50 L229.88,498.14 L230.67,498.14 L230.67,497.60 L231.60,497.60 L231.60,498.16 L232.41,498.16 L232.41,492.51 L233.36,492.51 L233.36,492.23 L234.01,492.23 L234.01,492.69 L234.76,492.69 L234.76,493.10 L235.29,493.10 L235.29,492.86 L236.32,492.86 L236.32,492.64 L237.27,492.64 L237.27,492.82 L238.06,492.82 L238.06,487.65 L238.57,487.65 L238.57,493.95 L239.47,493.95 L239.47,493.70 L240.44,493.70 L240.44,492.42 L241.46,492.42 L241.46,489.68 L241.94,489.68 L241.94,493.51 L242.39,493.51 L242.39,487.70 L242.85,487.70 L242.85,487.15 L243.96,487.15 L243.96,478.46 L244.96,478.46 L244.96,468.63 L246.02,468.63 L246.02,452.25 L246.57,452.25 L246.57,452.25 L247.47,452.25 L247.47,447.88 L248.45,447.88 L248.45,444.61 L249.38,444.61 L249.38,444.61 L249.99,444.61 L249.99,442.42 L251.09,442.42 L251.09,441.11 L252.02,441.11 L252.02,441.11 L252.92,441.11 L252.92,441.11 L253.54,441.11 L253.54,492.64 L254.49,492.64 L254.49,493.36 L255.20,493.36 L255.20,492.73 L255.65,492.73 L255.65,489.69 L256.27,489.69 L256.27,492.84 L257.13,492.84 L257.13,491.70 L257.65,491.70 L257.65,491.55 L258.11,491.55 L258.11,491.82 L258.91,491.82 L258.91,492.04 L259.65,492.04 L259.65,492.20 L260.12,492.20 L260.12,493.71 L261.15,493.71 L261.15,492.07 L262.24,492.07 L262.24,485.01 L263.17,485.01 L263.17,485.01 L264.13,485.01 L264.13,485.01 L265.19,485.01 L265.19,485.01 L265.65,485.01 L265.65,485.01 L266.58,485.01 L266.58,485.01 L267.41,485.01 L267.41,485.01 L267.84,485.01 L267.84,485.01 L268.44,485.01 L268.44,485.01 L269.36,485.01 L269.36,485.01 L270.15,485.01 L270.15,485.01 L270.97,485.01 L270.97,485.01 L271.59,485.01 L271.59,485.01 L272.40,485.01 L272.40,485.01 L273.44,485.01 L273.44,485.01 L274.54,485.01 L274.54,497.80 L275.48,497.80 L275.48,496.74 L276.48,496.74 L276.48,496.85 L277.00,496.85 L277.00,497.55 L277.53,497.55 L277.53,497.02 L278.50,497.02 L278.50,498.68 L279.10,498.68 L279.10,498.23 L279.52,498.23 L279.52,499.36 L280.57,499.36 L280.57,498.89 L281.49,498.89 L281.49,498.82 L282.13,498.82 L282.13,499.45 L282.96,499.45 L282.96,499.96 L283.60,499.96 L283.60,498.18 L284.23,498.18 L284.23,499.53 L284.76,499.53 L284.76,497.80 L285.68,497.80 L285.68,498.92 L286.72,498.92 L286.72,499.19 L287.32,499.19 L287.32,499.97 L287.81,499.97 L287.81,498.74 L288.71,498.74 L288.71,496.12 L289.22,496.12 L289.22,499.97 L289.92,499.97 L289.92,498.46 L290.82,498.46 L290.82,499.60 L291.87,499.60 L291.87,498.48 L292.41,498.48 L292.41,497.25 L293.33,497.25 L293.33,498.83 L294.24,498.83 L294.24,490.39 L294.76,490.39 L294.76,491.43 L295.71,491.43 L295.71,491.91 L296.30,491.91 L296.30,491.17 L297.03,491.17 L297.03,497.39 L297.47,497.39 L297.47,497.48 L298.15,497.48 L298.15,497.56 L299.25,497.56 L299.25,496.01 L299.88,496.01 L299.88,496.64 L300.45,496.64 L300.45,498.98 L301.23,498.98 L301.23,499.55 L302.20,499.55 L302.20,499.97 L303.10,499.97 L303.10,497.59 L303.81,497.59 L303.81,499.40 L304.76,499.40 L304.76,498.75 L305.53,498.75 L305.53,499.12 L305.97,499.12 L305.97,499.64 L306.97,499.64 L306.97,499.16 L308.07,499.16 L308.07,498.66 L308.55,498.66 L308.55,497.19 L309.46,497.19 L309.46,499.29 L310.08,499.29 L310.08,499.43 L310.57,499.43 L310.57,499.33 L311.26,499.33 L311.26,499.33 L312.08,499.33 L312.08,469.72 L312.68,469.72 L312.68,469.72 L313.48,469.72 L313.48,469.72 L314.44,469.72 L314.44,473.00 L314.92,473.00 L314.92,473.00 L315.47,473.00 L315.47,483.92 L315.91,483.92 L315.91,483.92 L316.67,483.92 L316.67,483.92 L317.17,483.92 L317.17,483.92 L317.95,483.92 L317.95,483.92 L318.49,483.92 L318.49,493.20 L319.10,493.20 L319.10,492.66 L319.85,492.66 L319.85,493.78 L320.87,493.78 L320.87,493.54 L321.40,493.54 L321.40,491.19 L322.30,491.19 L322.30,493.37 L323.31,493.37 L323.31,493.30 L323.85,493.30 L323.85,489.94 L324.39,489.94 L324.39,492.87 L325.32,492.87 L325.32,491.50 L325.87,491.50 L325.87,493.19 L326.57,493.19 L326.57,493.19 L327.42,493.19 L327.42,492.38 L328.44,492.38 L328.44,500.30 L329.40,500.30 L329.40,500.30 L330.17,500.30 L330.17,500.30 L330.88,500.30 L330.88,500.30 L331.68,500.30 L331.68,500.30 L332.42,500.30 L332.42,500.30 L333.31,500.30 L333.31,500.30 L334.32,500.30 L334.32,496.14 L335.06,496.14 L335.06,496.35 L335.56,496.35 L335.56,497.32 L336.02,497.32 L336.02,495.49 L336.94,495.49 L336.94,495.99 L337.60,495.99 L337.60,495.97 L338.10,495.97 L338.10,496.51 L338.87,496.51 L338.87,496.54 L339.37,496.54 L339.37,495.36 L340.32,495.36 L340.32,497.02 L340.95,497.02 L340.95,494.91 L342.03,494.91 L342.03,495.59 L343.01,495.59 L343.01,495.76 L344.04,495.76 L344.04,496.19 L344.96,496.19 L344.96,499.97 L345.58,499.97 L345.58,495.90 L346.04,495.90 L346.04,499.94 L346.77,499.94 L346.77,499.97 L347.75,499.97 L347.75,499.66 L348.41,499.66 L348.41,499.97 L349.26,499.97 L349.26,496.51 L350.12,496.51 L350.12,497.20 L351.05,497.20 L351.05,497.43 L351.61,497.43 L351.61,497.68 L352.16,497.68 L352.16,497.80 L352.66,497.80 L352.66,496.92 L353.27,496.92 L353.27,497.13 L353.84,497.13 L353.84,496.39 L354.91,496.39 L354.91,496.66 L355.61,496.66 L355.61,497.15 L356.52,497.15 L356.52,497.63 L357.61,497.63 L357.61,497.40 L358.21,497.40 L358.21,499.74 L359.12,499.74 L359.12,499.92 L359.84,499.92 L359.84,499.32 L360.38,499.32 L360.38,497.10 L361.27,497.10 L361.27,488.28 L362.23,488.28 L362.23,487.45 L362.70,487.45 L362.70,486.80 L363.51,486.80 L363.51,493.44 L364.05,493.44 L364.05,494.98 L364.66,494.98 L364.66,497.01 L365.76,497.01 L365.76,496.38 L366.62,496.38 L366.62,496.73 L367.71,496.73 L367.71,497.15 L368.52,497.15 L368.52,497.87 L369.37,497.87 L369.37,499.48 L370.46,499.48 L370.46,497.39 L371.05,497.39 L371.05,497.44 L372.04,497.44 L372.04,498.77 L372.65,498.77 L372.65,499.97 L373.77,499.97 L373.77,499.01 L374.69,499.01 L374.69,499.14 L375.53,499.14 L375.53,499.53 L376.05,499.53 L376.05,498.97 L377.07,498.97 L377.07,499.96 L377.79,499.96 L377.79,499.08 L378.57,499.08 L378.57,499.97 L379.02,499.97 L379.02,498.66 L380.05,498.66 L380.05,491.34 L381.14,491.34 L381.14,491.60 L381.82,491.60 L381.82,490.36 L382.94,490.36 L382.94,491.77 L383.76,491.77 L383.76,498.07 L384.28,498.07 L384.28,498.20 L384.98,498.20 L384.98,497.76 L385.76,497.76 L385.76,498.10 L386.46,498.10 L386.46,498.96 L386.96,498.96 L386.96,497.87 L387.61,497.87 L387.61,498.00 L388.03,498.00 L388.03,498.07 L389.13,498.07 L389.13,497.23 L389.96,497.23 L389.96,496.53 L390.41,496.53 L390.41,497.46 L391.37,497.46 L391.37,492.71 L392.38,492.71 L392.38,491.52 L393.28,491.52 L393.28,485.01 L394.31,485.01 L394.31,485.01 L395.17,485.01 L395.17,491.17 L395.67,491.17 L395.67,491.44 L396.77,491.44 L396.77,493.40 L397.74,493.40 L397.74,491.59 L398.32,491.59 L398.32,491.17 L399.17,491.17 L399.17,489.20 L399.91,489.20 L399.91,490.23 L400.91,490.23 L400.91,492.82 L401.99,492.82 L401.99,493.84 L402.59,493.84 L402.59,493.27 L403.68,493.27 L403.68,491.53 L404.41,491.53 L404.41,492.08 L405.39,492.08 L405.39,495.23 L406.49,495.23 L406.49,492.85 L407.34,492.85 L407.34,495.07 L408.39,495.07 L408.39,494.48 L409.49,494.48 L409.49,495.61 L410.47,495.61 L410.47,495.23 L411.24,495.23 L411.24,495.92 L412.12,495.92 L412.12,487.04 L412.63,487.04 L412.63,497.15 L413.30,497.15 L413.30,496.88 L413.82,496.88 L413.82,497.86 L414.75,497.86 L414.75,498.00 L415.17,498.00 L415.17,496.75 L415.61,496.75 L415.61,497.15 L416.27,497.15 L416.27,497.56 L417.12,497.56 L417.12,496.51 L418.13,496.51 L418.13,495.75 L419.07,495.75 L419.07,494.58 L419.61,494.58 L419.61,495.16 L420.06,495.16 L420.06,499.07 L420.55,499.07 L420.55,498.96 L421.55,498.96 L421.55,497.39 L422.48,497.39 L422.48,496.40 L423.44,496.40 L423.44,497.79 L424.44,497.79 L424.44,498.01 L424.91,498.01 L424.91,499.53 L425.41,499.53 L425.41,497.91 L425.91,497.91 L425.91,498.71 L426.83,498.71 L426.83,499.24 L427.85,499.24 L427.85,499.59 L428.62,499.59 L428.62,498.24 L429.50,498.24 L429.50,499.09 L430.36,499.09 L430.36,499.02 L431.46,499.02 L431.46,487.62 L431.96,487.62 L431.96,487.86 L432.65,487.86 L432.65,487.85 L433.72,487.85 L433.72,487.03 L434.15,487.03 L434.15,486.99 L434.96,486.99 L434.96,487.40 L435.84,487.40 L435.84,487.62 L436.59,487.62 L436.59,498.60 L437.29,498.60 L437.29,499.49 L437.91,499.49 L437.91,499.92 L438.87,499.92 L438.87,499.94 L439.85,499.94 L439.85,498.93 L440.45,498.93 L440.45,498.85 L441.11,498.85 L441.11,498.95 L441.75,498.95 L441.75,499.75 L442.59,499.75 L442.59,499.85 L443.39,499.85 L443.39,498.34 L443.97,498.34 L443.97,499.75 L444.72,499.75 L444.72,498.08 L445.80,498.08 L445.80,499.29 L446.50,499.29 L446.50,499.51 L447.12,499.51 L447.12,499.97 L447.60,499.97 L447.60,498.92 L448.04,498.92 L448.04,499.51 L448.59,499.51 L448.59,498.86 L449.61,498.86 L449.61,499.49 L450.70,499.49 L450.70,497.57 L451.60,497.57 L451.60,497.04 L452.60,497.04 L452.60,496.57 L453.23,496.57 L453.23,497.26 L454.15,497.26 L454.15,498.12 L454.61,498.12 L454.61,497.24 L455.06,497.24 L455.06,495.95 L455.60,495.95 L455.60,497.84 L456.40,497.84 L456.40,495.43 L457.49,495.43 L457.49,495.27 L458.40,495.27 L458.40,491.88 L458.82,491.88 L458.82,491.02 L459.59,491.02 L459.59,491.20 L460.38,491.20 L460.38,486.10 L461.31,486.10 L461.31,486.10 L462.09,486.10 L462.09,493.81 L463.07,493.81 L463.07,494.32 L464.05,494.32 L464.05,494.24 L464.93,494.24 L464.93,494.72 L465.63,494.72 L465.63,492.55 L466.28,492.55 L466.28,493.46 L466.78,493.46 L466.78,493.52 L467.21,493.52 L467.21,493.85 L468.12,493.85 L468.12,498.01 L469.18,498.01 L469.18,498.91 L469.79,498.91 L469.79,497.60 L470.65,497.60 L470.65,497.66 L471.58,497.66 L471.58,494.91 L472.36,494.91 L472.36,498.32 L473.01,498.32 L473.01,497.42 L473.91,497.42 L473.91,498.41 L474.85,498.41 L474.85,497.82 L475.28,497.82 L475.28,498.36 L476.21,498.36 L476.21,495.65 L477.04,495.65 L477.04,495.15 L478.08,495.15 L478.08,495.97 L478.87,495.97 L478.87,495.72 L479.60,495.72 L479.60,495.09 L480.31,495.09 L480.31,493.88 L481.12,493.88 L481.12,493.35 L482.10,493.35 L482.10,494.22 L483.16,494.22 L483.16,495.20 L483.58,495.20 L483.58,494.24 L484.49,494.24 L484.49,494.65 L485.45,494.65 L485.45,494.88 L485.97,494.88 L485.97,494.92 L486.46,494.92 L486.46,489.04 L487.39,489.04 L487.39,495.33 L487.60,495.33" stroke="#3f7fcf" stroke-width="0.75" fill="none"/>
<path d="M178.10,500.63 L179.02,500.63 L179.02,502.35 L179.71,502.35 L179.71,506.99 L180.56,506.99 L180.56,501.49 L181.60,501.49 L181.60,501.01 L182.11,501.01 L182.11,501.55 L183.01,501.55 L183.01,504.09 L183.59,504.09 L183.59,503.99 L184.11,503.99 L184.11,506.38 L184.70,506.38 L184.70,506.35 L185.35,506.35 L185.35,511.50 L186.07,511.50 L186.07,516.68 L186.77,516.68 L186.77,516.68 L187.83,516.68 L187.83,522.14 L188.37,522.14 L188.37,527.60 L188.93,527.60 L188.93,527.60 L189.76,527.60 L189.76,533.06 L190.62,533.06 L190.62,537.43 L191.35,537.43 L191.35,533.06 L192.16,533.06 L192.16,522.14 L192.89,522.14 L192.89,522.14 L193.77,522.14 L193.77,511.89 L194.77,511.89 L194.77,505.11 L195.51,505.11 L195.51,505.20 L196.53,505.20 L196.53,507.10 L197.37,507.10 L197.37,504.13 L198.23,504.13 L198.23,505.19 L198.93,505.19 L198.93,503.92 L200.01,503.92 L200.01,503.46 L201.05,503.46 L201.05,503.37 L201.65,503.37 L201.65,504.16 L202.38,504.16 L202.38,504.91 L202.95,504.91 L202.95,503.87 L203.53,503.87 L203.53,503.40 L204.23,503.40 L204.23,503.40 L204.94,503.40 L204.94,503.33 L205.87,503.33 L205.87,503.97 L206.50,503.97 L206.50,503.34 L207.06,503.34 L207.06,504.66 L207.80,504.66 L207.80,503.34 L208.67,503.34 L208.67,503.54 L209.64,503.54 L209.64,503.31 L210.65,503.31 L210.65,504.42 L211.08,504.42 L211.08,503.85 L211.65,503.85 L211.65,504.14 L212.56,504.14 L212.56,504.34 L213.43,504.34 L213.43,504.73 L214.39,504.73 L214.39,503.39 L215.42,503.39 L215.42,503.21 L215.94,503.21 L215.94,503.43 L216.78,503.43 L216.78,504.83 L217.44,504.83 L217.44,508.89 L218.50,508.89 L218.50,505.11 L218.93,505.11 L218.93,504.54 L219.54,504.54 L219.54,505.97 L220.63,505.97 L220.63,509.52 L221.58,509.52 L221.58,512.29 L222.39,512.29 L222.39,507.30 L223.14,507.30 L223.14,505.95 L224.05,505.95 L224.05,504.45 L224.86,504.45 L224.86,504.93 L225.81,504.93 L225.81,503.13 L226.37,503.13 L226.37,503.44 L227.47,503.44 L227.47,503.39 L228.51,503.39 L228.51,503.21 L229.18,503.21 L229.18,503.16 L229.77,503.16 L229.77,503.99 L230.68,503.99 L230.68,503.53 L231.44,503.53 L231.44,507.56 L232.55,507.56 L232.55,505.85 L233.67,505.85 L233.67,501.57 L234.77,501.57 L234.77,507.27 L235.78,507.27 L235.78,502.99 L236.47,502.99 L236.47,502.07 L237.57,502.07 L237.57,502.42 L238.51,502.42 L238.51,501.95 L239.41,501.95 L239.41,501.47 L240.03,501.47 L240.03,503.09 L241.05,503.09 L241.05,501.67 L241.98,501.67 L241.98,503.49 L242.55,503.49 L242.55,502.11 L243.45,502.11 L243.45,502.43 L244.44,502.43 L244.44,503.12 L245.17,503.12 L245.17,504.06 L246.09,504.06 L246.09,502.46 L246.79,502.46 L246.79,501.67 L247.22,501.67 L247.22,503.12 L247.68,503.12 L247.68,502.63 L248.34,502.63 L248.34,501.98 L248.81,501.98 L248.81,502.13 L249.29,502.13 L249.29,503.06 L250.33,503.06 L250.33,502.38 L250.96,502.38 L250.96,503.00 L251.82,503.00 L251.82,501.47 L252.38,501.47 L252.38,503.62 L253.39,503.62 L253.39,501.48 L253.82,501.48 L253.82,502.98 L254.78,502.98 L254.78,505.77 L255.46,505.77 L255.46,501.50 L256.40,501.50 L256.40,503.14 L257.26,503.14 L257.26,503.05 L258.13,503.05 L258.13,503.74 L258.72,503.74 L258.72,503.80 L259.41,503.80 L259.41,503.29 L260.28,503.29 L260.28,502.55 L261.22,502.55 L261.22,501.02 L261.76,501.02 L261.76,503.06 L262.41,503.06 L262.41,500.75 L263.41,500.75 L263.41,502.52 L263.95,502.52 L263.95,500.82 L265.00,500.82 L265.00,501.94 L266.09,501.94 L266.09,502.77 L266.67,502.77 L266.67,501.89 L267.68,501.89 L267.68,502.57 L268.21,502.57 L268.21,502.57 L269.17,502.57 L269.17,502.47 L270.22,502.47 L270.22,502.24 L270.76,502.24 L270.76,502.14 L271.83,502.14 L271.83,501.80 L272.57,501.80 L272.57,501.55 L273.51,501.55 L273.51,502.10 L274.55,502.10 L274.55,503.30 L275.04,503.30 L275.04,503.59 L275.73,503.59 L275.73,504.12 L276.39,504.12 L276.39,503.95 L277.04,503.95 L277.04,503.61 L277.62,503.61 L277.62,504.47 L278.24,504.47 L278.24,503.53 L278.94,503.53 L278.94,504.07 L279.96,504.07 L279.96,502.89 L280.98,502.89 L280.98,504.67 L281.89,504.67 L281.89,504.45 L282.58,504.45 L282.58,502.49 L283.23,502.49 L283.23,502.72 L284.18,502.72 L284.18,503.43 L285.26,503.43 L285.26,503.84 L286.34,503.84 L286.34,504.73 L287.36,504.73 L287.36,504.14 L288.04,504.14 L288.04,502.85 L289.09,502.85 L289.09,502.86 L289.83,502.86 L289.83,502.73 L290.33,502.73 L290.33,503.82 L291.40,503.82 L291.40,505.60 L292.16,505.60 L292.16,504.12 L293.12,504.12 L293.12,504.41 L294.18,504.41 L294.18,501.83 L295.01,501.83 L295.01,501.83 L295.64,501.83 L295.64,503.03 L296.07,503.03 L296.07,502.25 L297.15,502.25 L297.15,506.51 L297.59,506.51 L297.59,505.80 L298.11,505.80 L298.11,510.06 L298.96,510.06 L298.96,506.28 L299.50,506.28 L299.50,506.57 L300.33,506.57 L300.33,510.63 L301.33,510.63 L301.33,519.96 L302.34,519.96 L302.34,527.60 L302.93,527.60 L302.93,527.60 L303.48,527.60 L303.48,534.15 L303.91,534.15 L303.91,534.15 L304.94,534.15 L304.94,538.52 L305.50,538.52 L305.50,541.80 L306.33,541.80 L306.33,540.70 L307.12,540.70 L307.12,540.70 L308.00,540.70 L308.00,533.06 L309.07,533.06 L309.07,526.51 L309.95,526.51 L309.95,519.96 L310.50,519.96 L310.50,519.96 L311.22,519.96 L311.22,511.88 L311.90,511.88 L311.90,502.54 L312.93,502.54 L312.93,503.37 L313.52,503.37 L313.52,507.63 L314.22,507.63 L314.22,503.32 L314.80,503.32 L314.80,502.76 L315.25,502.76 L315.25,502.34 L316.18,502.34 L316.18,502.96 L317.09,502.96 L317.09,502.73 L318.01,502.73 L318.01,501.34 L318.97,501.34 L318.97,502.96 L319.66,502.96 L319.66,501.49 L320.46,501.49 L320.46,502.53 L321.38,502.53 L321.38,503.15 L322.41,503.15 L322.41,502.58 L323.00,502.58 L323.00,503.54 L323.84,503.54 L323.84,501.70 L324.41,501.70 L324.41,503.41 L325.11,503.41 L325.11,502.90 L325.95,502.90 L325.95,502.27 L326.91,502.27 L326.91,501.37 L327.51,501.37 L327.51,502.49 L328.62,502.49 L328.62,516.68 L329.24,516.68 L329.24,516.68 L329.72,516.68 L329.72,516.68 L330.60,516.68 L330.60,516.68 L331.70,516.68 L331.70,505.28 L332.28,505.28 L332.28,506.23 L333.10,506.23 L333.10,506.04 L333.79,506.04 L333.79,506.38 L334.82,506.38 L334.82,501.76 L335.69,501.76 L335.69,503.31 L336.22,503.31 L336.22,502.54 L336.92,502.54 L336.92,501.75 L337.65,501.75 L337.65,502.49 L338.32,502.49 L338.32,502.91 L339.08,502.91 L339.08,502.13 L340.15,502.13 L340.15,502.95 L341.09,502.95 L341.09,501.77 L342.08,501.77 L342.08,502.20 L342.75,502.20 L342.75,501.67 L343.71,501.67 L343.71,501.41 L344.78,501.41 L344.78,509.60 L345.63,509.60 L345.63,519.96 L346.61,519.96 L346.61,527.60 L347.57,527.60 L347.57,527.60 L348.00,527.60 L348.00,511.86 L348.99,511.86 L348.99,511.83 L349.47,511.83 L349.47,511.28 L349.97,511.28 L349.97,513.78 L350.89,513.78 L350.89,516.68 L351.43,516.68 L351.43,516.68 L352.53,516.68 L352.53,510.77 L353.57,510.77 L353.57,522.14 L354.34,522.14 L354.34,527.60 L355.35,527.60 L355.35,527.60 L356.08,527.60 L356.08,516.68 L356.70,516.68 L356.70,510.16 L357.13,510.16 L357.13,510.99 L358.08,510.99 L358.08,510.98 L358.91,510.98 L358.91,511.18 L359.43,511.18 L359.43,514.52 L360.12,514.52 L360.12,507.88 L360.64,507.88 L360.64,503.04 L361.39,503.04 L361.39,503.41 L361.86,503.41 L361.86,502.85 L362.58,502.85 L362.58,503.01 L363.67,503.01 L363.67,504.44 L364.48,504.44 L364.48,509.80 L365.44,509.80 L365.44,509.40 L366.28,509.40 L366.28,509.36 L366.78,509.36 L366.78,509.13 L367.63,509.13 L367.63,505.66 L368.16,505.66 L368.16,505.17 L368.94,505.17 L368.94,506.25 L369.75,506.25 L369.75,505.67 L370.22,505.67 L370.22,510.55 L371.12,510.55 L371.12,505.60 L371.58,505.60 L371.58,506.14 L372.40,506.14 L372.40,505.40 L372.85,505.40 L372.85,506.74 L373.30,506.74 L373.30,505.63 L373.88,505.63 L373.88,504.62 L374.77,504.62 L374.77,505.43 L375.70,505.43 L375.70,506.73 L376.79,506.73 L376.79,505.39 L377.76,505.39 L377.76,504.32 L378.47,504.32 L378.47,506.05 L379.58,506.05 L379.58,505.22 L380.07,505.22 L380.07,505.40 L380.62,505.40 L380.62,505.12 L381.39,505.12 L381.39,507.35 L382.18,507.35 L382.18,505.49 L383.27,505.49 L383.27,516.68 L384.22,516.68 L384.22,530.88 L385.26,530.88 L385.26,530.88 L386.23,530.88 L386.23,527.60 L386.72,527.60 L386.72,508.92 L387.61,508.92 L387.61,505.57 L388.12,505.57 L388.12,505.86 L388.78,505.86 L388.78,503.73 L389.86,503.73 L389.86,502.53 L390.39,502.53 L390.39,504.57 L391.40,504.57 L391.40,503.24 L392.21,503.24 L392.21,502.69 L392.85,502.69 L392.85,503.27 L393.32,503.27 L393.32,503.18 L394.01,503.18 L394.01,503.96 L395.12,503.96 L395.12,502.87 L395.88,502.87 L395.88,503.87 L396.33,503.87 L396.33,503.40 L397.10,503.40 L397.10,502.68 L397.82,502.68 L397.82,502.72 L398.83,502.72 L398.83,503.97 L399.75,503.97 L399.75,506.63 L400.81,506.63 L400.81,503.71 L401.42,503.71 L401.42,503.79 L402.22,503.79 L402.22,504.30 L402.89,504.30 L402.89,510.10 L403.62,510.10 L403.62,508.98 L404.47,508.98 L404.47,508.76 L404.90,508.76 L404.90,516.68 L405.80,516.68 L405.80,516.68 L406.28,516.68 L406.28,524.32 L406.91,524.32 L406.91,524.32 L407.75,524.32 L407.75,527.60 L408.78,527.60 L408.78,527.60 L409.65,527.60 L409.65,522.14 L410.74,522.14 L410.74,530.88 L411.17,530.88 L411.17,530.88 L412.15,530.88 L412.15,538.52 L413.09,538.52 L413.09,546.16 L414.01,546.16 L414.01,510.57 L414.47,510.57 L414.47,509.91 L414.97,509.91 L414.97,505.00 L416.01,505.00 L416.01,505.89 L417.01,505.89 L417.01,505.84 L417.63,505.84 L417.63,505.59 L418.17,505.59 L418.17,513.75 L418.97,513.75 L418.97,513.28 L419.89,513.28 L419.89,514.00 L420.32,514.00 L420.32,505.02 L421.16,505.02 L421.16,505.32 L421.63,505.32 L421.63,504.86 L422.41,504.86 L422.41,504.64 L423.50,504.64 L423.50,504.29 L424.41,504.29 L424.41,505.28 L424.85,505.28 L424.85,504.69 L425.71,504.69 L425.71,506.15 L426.27,506.15 L426.27,505.65 L426.85,505.65 L426.85,504.53 L427.78,504.53 L427.78,505.52 L428.56,505.52 L428.56,505.97 L429.67,505.97 L429.67,505.32 L430.74,505.32 L430.74,505.43 L431.37,505.43 L431.37,506.11 L432.09,506.11 L432.09,505.95 L433.07,505.95 L433.07,505.99 L433.49,505.99 L433.49,505.78 L434.60,505.78 L434.60,505.61 L435.50,505.61 L435.50,507.41 L436.23,507.41 L436.23,505.64 L437.32,505.64 L437.32,507.11 L437.79,507.11 L437.79,506.30 L438.60,506.30 L438.60,514.00 L439.21,514.00 L439.21,513.69 L440.17,513.69 L440.17,513.88 L441.20,513.88 L441.20,508.85 L441.92,508.85 L441.92,511.62 L442.53,511.62 L442.53,507.82 L443.12,507.82 L443.12,504.45 L444.02,504.45 L444.02,505.74 L444.50,505.74 L444.50,504.10 L445.54,504.10 L445.54,505.36 L446.03,505.36 L446.03,503.83 L446.68,503.83 L446.68,506.42 L447.12,506.42 L447.12,506.04 L447.63,506.04 L447.63,507.28 L448.06,507.28 L448.06,504.39 L448.75,504.39 L448.75,504.71 L449.74,504.71 L449.74,505.15 L450.52,505.15 L450.52,508.71 L451.57,508.71 L451.57,503.73 L452.36,503.73 L452.36,502.73 L453.46,502.73 L453.46,502.81 L454.57,502.81 L454.57,502.76 L455.11,502.76 L455.11,502.96 L456.10,502.96 L456.10,502.17 L456.87,502.17 L456.87,503.58 L457.83,503.58 L457.83,502.49 L458.44,502.49 L458.44,503.39 L459.14,503.39 L459.14,507.29 L459.67,507.29 L459.67,501.52 L460.61,501.52 L460.61,502.51 L461.67,502.51 L461.67,502.33 L462.25,502.33 L462.25,503.32 L463.10,503.32 L463.10,502.43 L463.68,502.43 L463.68,502.84 L464.40,502.84 L464.40,503.09 L465.05,503.09 L465.05,508.41 L465.56,508.41 L465.56,509.70 L466.49,509.70 L466.49,504.60 L467.26,504.60 L467.26,503.42 L468.03,503.42 L468.03,504.57 L468.71,504.57 L468.71,505.22 L469.37,505.22 L469.37,502.46 L469.81,502.46 L469.81,504.68 L470.37,504.68 L470.37,509.00 L471.47,509.00 L471.47,508.37 L472.18,508.37 L472.18,505.22 L473.28,505.22 L473.28,504.77 L474.25,504.77 L474.25,504.40 L474.79,504.40 L474.79,504.46 L475.72,504.46 L475.72,503.59 L476.49,503.59 L476.49,504.20 L477.20,504.20 L477.20,504.13 L477.92,504.13 L477.92,505.25 L478.57,505.25 L478.57,504.19 L479.64,504.19 L479.64,503.53 L480.60,503.53 L480.60,505.31 L481.10,505.31 L481.10,504.99 L481.53,504.99 L481.53,507.77 L482.65,507.77 L482.65,505.63 L483.75,505.63 L483.75,506.29 L484.52,506.29 L484.52,506.06 L484.99,506.06 L484.99,506.73 L485.51,506.73 L485.51,507.21 L485.97,507.21 L485.97,505.94 L487.07,505.94 L487.07,507.02 L487.60,507.02" stroke="#3f7fcf" stroke-width="0.75" fill="none"/>
<path d="M178.10,500.30 L178.10,500.30 L209.00,500.30 L209.00,493.75 L212.00,493.75 L212.00,500.30 L232.40,500.30 L232.40,492.66 L242.00,492.66 L242.00,487.20 L245.00,487.20 L245.00,480.64 L253.30,480.64 L253.30,492.66 L274.10,492.66 L274.10,500.30 L333.00,500.30 L333.00,493.75 L338.00,493.75 L338.00,487.20 L342.00,487.20 L342.00,500.30 L359.60,500.30 L359.60,500.30 L389.00,500.30 L389.00,494.84 L392.00,494.84 L392.00,497.02 L394.00,497.02 L394.00,494.84 L400.00,494.84 L400.00,500.30 L403.00,500.30 L403.00,497.02 L413.00,497.02 L413.00,500.30 L430.00,500.30 L430.00,494.84 L436.30,494.84 L436.30,500.30 L450.00,500.30 L450.00,494.84 L455.00,494.84 L455.00,500.30 L456.50,500.30 L456.50,494.84 L462.00,494.84 L462.00,500.30 L487.60,500.30 L487.60,500.30 Z" stroke="none" stroke-width="1" fill="#f0cf2a" fill-opacity="0.55"/>
<path d="M178.10,500.30 L178.10,500.30 L197.00,500.30 L197.00,506.85 L202.00,506.85 L202.00,504.67 L206.50,504.67 L206.50,500.30 L212.00,500.30 L212.00,506.85 L214.00,506.85 L214.00,500.30 L232.40,500.30 L232.40,526.51 L234.00,526.51 L234.00,518.86 L238.00,518.86 L238.00,513.40 L242.50,513.40 L242.50,505.76 L244.00,505.76 L244.00,500.30 L276.50,500.30 L276.50,513.40 L278.00,513.40 L278.00,500.30 L285.00,500.30 L285.00,506.85 L287.00,506.85 L287.00,500.30 L295.00,500.30 L295.00,506.85 L311.70,506.85 L311.70,500.30 L318.00,500.30 L318.00,505.76 L327.00,505.76 L327.00,500.30 L334.00,500.30 L334.00,505.76 L344.20,505.76 L344.20,500.30 L345.00,500.30 L345.00,505.76 L358.00,505.76 L358.00,500.30 L359.60,500.30 L359.60,500.30 L362.00,500.30 L362.00,506.85 L372.00,506.85 L372.00,500.30 L378.00,500.30 L378.00,504.67 L383.00,504.67 L383.00,506.85 L388.60,506.85 L388.60,506.85 L402.00,506.85 L402.00,500.30 L402.70,500.30 L402.70,509.04 L404.00,509.04 L404.00,513.40 L409.00,513.40 L409.00,509.04 L413.00,509.04 L413.00,500.30 L415.00,500.30 L415.00,505.76 L426.00,505.76 L426.00,500.30 L430.00,500.30 L430.00,504.67 L436.90,504.67 L436.90,505.76 L446.40,505.76 L446.40,500.30 L447.00,500.30 L447.00,546.16 L449.00,546.16 L449.00,500.30 L450.00,500.30 L450.00,504.67 L455.80,504.67 L455.80,500.30 L470.50,500.30 L470.50,503.58 L476.00,503.58 L476.00,500.30 L482.00,500.30 L482.00,506.85 L487.00,506.85 L487.00,500.30 Z" stroke="none" stroke-width="1" fill="#f0cf2a" fill-opacity="0.55"/>
<path d="M178.10,500.30 L209.00,500.30 L209.00,493.75 L212.00,493.75 L212.00,500.30 L232.40,500.30 L232.40,492.66 L242.00,492.66 L242.00,487.20 L245.00,487.20 L245.00,480.64 L253.30,480.64 L253.30,492.66 L274.10,492.66 L274.10,500.30 L333.00,500.30 L333.00,493.75 L338.00,493.75 L338.00,487.20 L342.00,487.20 L342.00,500.30 L359.60,500.30 L359.60,500.30 L389.00,500.30 L389.00,494.84 L392.00,494.84 L392.00,497.02 L394.00,497.02 L394.00,494.84 L400.00,494.84 L400.00,500.30 L403.00,500.30 L403.00,497.02 L413.00,497.02 L413.00,500.30 L430.00,500.30 L430.00,494.84 L436.30,494.84 L436.30,500.30 L450.00,500.30 L450.00,494.84 L455.00,494.84 L455.00,500.30 L456.50,500.30 L456.50,494.84 L462.00,494.84 L462.00,500.30 L487.60,500.30" stroke="#f0c419" stroke-width="0.7" fill="none"/>
<path d="M178.10,500.30 L197.00,500.30 L197.00,506.85 L202.00,506.85 L202.00,504.67 L206.50,504.67 L206.50,500.30 L212.00,500.30 L212.00,506.85 L214.00,506.85 L214.00,500.30 L232.40,500.30 L232.40,526.51 L234.00,526.51 L234.00,518.86 L238.00,518.86 L238.00,513.40 L242.50,513.40 L242.50,505.76 L244.00,505.76 L244.00,500.30 L276.50,500.30 L276.50,513.40 L278.00,513.40 L278.00,500.30 L285.00,500.30 L285.00,506.85 L287.00,506.85 L287.00,500.30 L295.00,500.30 L295.00,506.85 L311.70,506.85 L311.70,500.30 L318.00,500.30 L318.00,505.76 L327.00,505.76 L327.00,500.30 L334.00,500.30 L334.00,505.76 L344.20,505.76 L344.20,500.30 L345.00,500.30 L345.00,505.76 L358.00,505.76 L358.00,500.30 L359.60,500.30 L359.60,500.30 L362.00,500.30 L362.00,506.85 L372.00,506.85 L372.00,500.30 L378.00,500.30 L378.00,504.67 L383.00,504.67 L383.00,506.85 L388.60,506.85 L388.60,506.85 L402.00,506.85 L402.00,500.30 L402.70,500.30 L402.70,509.04 L404.00,509.04 L404.00,513.40 L409.00,513.40 L409.00,509.04 L413.00,509.04 L413.00,500.30 L415.00,500.30 L415.00,505.76 L426.00,505.76 L426.00,500.30 L430.00,500.30 L430.00,504.67 L436.90,504.67 L436.90,505.76 L446.40,505.76 L446.40,500.30 L447.00,500.30 L447.00,546.16 L449.00,546.16 L449.00,500.30 L450.00,500.30 L450.00,504.67 L455.80,504.67 L455.80,500.30 L470.50,500.30 L470.50,503.58 L476.00,503.58 L476.00,500.30 L482.00,500.30 L482.00,506.85 L487.00,506.85" stroke="#f0c419" stroke-width="0.7" fill="none"/>
<line x1="206.50" y1="434.50" x2="206.50" y2="566.00" stroke="#333" stroke-width="0.7"/>
<line x1="232.40" y1="434.50" x2="232.40" y2="566.00" stroke="#333" stroke-width="0.7"/>
<line x1="253.30" y1="434.50" x2="253.30" y2="566.00" stroke="#333" stroke-width="0.7"/>
<line x1="274.10" y1="434.50" x2="274.10" y2="566.00" stroke="#333" stroke-width="0.7"/>
<line x1="293.60" y1="434.50" x2="293.60" y2="566.00" stroke="#333" stroke-width="0.7"/>
<line x1="311.70" y1="434.50" x2="311.70" y2="566.00" stroke="#333" stroke-width="0.7"/>
<line x1="328.40" y1="434.50" x2="328.40" y2="566.00" stroke="#333" stroke-width="0.7"/>
<line x1="344.20" y1="434.50" x2="344.20" y2="566.00" stroke="#333" stroke-width="0.7"/>
<line x1="359.60" y1="434.50" x2="359.60" y2="566.00" stroke="#333" stroke-width="0.7"/>
<line x1="373.70" y1="434.50" x2="373.70" y2="566.00" stroke="#333" stroke-width="0.7"/>
<line x1="388.60" y1="434.50" x2="388.60" y2="566.00" stroke="#333" stroke-width="0.7"/>
<line x1="402.70" y1="434.50" x2="402.70" y2="566.00" stroke="#333" stroke-width="0.7"/>
<line x1="414.80" y1="434.50" x2="414.80" y2="566.00" stroke="#333" stroke-width="0.7"/>
<line x1="426.10" y1="434.50" x2="426.10" y2="566.00" stroke="#333" stroke-width="0.7"/>
<line x1="436.90" y1="434.50" x2="436.90" y2="566.00" stroke="#333" stroke-width="0.7"/>
<line x1="446.40" y1="434.50" x2="446.40" y2="566.00" stroke="#333" stroke-width="0.7"/>
<line x1="455.80" y1="434.50" x2="455.80" y2="566.00" stroke="#333" stroke-width="0.7"/>
<line x1="463.90" y1="434.50" x2="463.90" y2="566.00" stroke="#333" stroke-width="0.7"/>
<line x1="470.10" y1="434.50" x2="470.10" y2="566.00" stroke="#333" stroke-width="0.7"/>
<line x1="476.00" y1="434.50" x2="476.00" y2="566.00" stroke="#333" stroke-width="0.7"/>
<line x1="481.70" y1="434.50" x2="481.70" y2="566.00" stroke="#333" stroke-width="0.7"/>
<line x1="193.20" y1="434.50" x2="193.20" y2="566.00" stroke="#333" stroke-width="0.7" stroke-dasharray="2.6,1.8"/>
<line x1="216.60" y1="434.50" x2="216.60" y2="566.00" stroke="#333" stroke-width="0.7" stroke-dasharray="2.6,1.8"/>
<line x1="242.10" y1="434.50" x2="242.10" y2="566.00" stroke="#333" stroke-width="0.7" stroke-dasharray="2.6,1.8"/>
<line x1="258.90" y1="434.50" x2="258.90" y2="566.00" stroke="#333" stroke-width="0.7" stroke-dasharray="2.6,1.8"/>
<line x1="278.80" y1="434.50" x2="278.80" y2="566.00" stroke="#333" stroke-width="0.7" stroke-dasharray="2.6,1.8"/>
<line x1="299.90" y1="434.50" x2="299.90" y2="566.00" stroke="#333" stroke-width="0.7" stroke-dasharray="2.6,1.8"/>
<line x1="317.80" y1="434.50" x2="317.80" y2="566.00" stroke="#333" stroke-width="0.7" stroke-dasharray="2.6,1.8"/>
<line x1="333.20" y1="434.50" x2="333.20" y2="566.00" stroke="#333" stroke-width="0.7" stroke-dasharray="2.6,1.8"/>
<line x1="349.40" y1="434.50" x2="349.40" y2="566.00" stroke="#333" stroke-width="0.7" stroke-dasharray="2.6,1.8"/>
<line x1="363.60" y1="434.50" x2="363.60" y2="566.00" stroke="#333" stroke-width="0.7" stroke-dasharray="2.6,1.8"/>
<line x1="379.20" y1="434.50" x2="379.20" y2="566.00" stroke="#333" stroke-width="0.7" stroke-dasharray="2.6,1.8"/>
<line x1="391.90" y1="434.50" x2="391.90" y2="566.00" stroke="#333" stroke-width="0.7" stroke-dasharray="2.6,1.8"/>
<line x1="404.30" y1="434.50" x2="404.30" y2="566.00" stroke="#333" stroke-width="0.7" stroke-dasharray="2.6,1.8"/>
<line x1="416.70" y1="434.50" x2="416.70" y2="566.00" stroke="#333" stroke-width="0.7" stroke-dasharray="2.6,1.8"/>
<line x1="428.00" y1="434.50" x2="428.00" y2="566.00" stroke="#333" stroke-width="0.7" stroke-dasharray="2.6,1.8"/>
<line x1="441.00" y1="434.50" x2="441.00" y2="566.00" stroke="#333" stroke-width="0.7" stroke-dasharray="2.6,1.8"/>
<line x1="449.00" y1="434.50" x2="449.00" y2="566.00" stroke="#333" stroke-width="0.7" stroke-dasharray="2.6,1.8"/>
<line x1="457.40" y1="434.50" x2="457.40" y2="566.00" stroke="#333" stroke-width="0.7" stroke-dasharray="2.6,1.8"/>
<line x1="466.60" y1="434.50" x2="466.60" y2="566.00" stroke="#333" stroke-width="0.7" stroke-dasharray="2.6,1.8"/>
<line x1="472.00" y1="434.50" x2="472.00" y2="566.00" stroke="#333" stroke-width="0.7" stroke-dasharray="2.6,1.8"/>
<line x1="477.60" y1="434.50" x2="477.60" y2="566.00" stroke="#333" stroke-width="0.7" stroke-dasharray="2.6,1.8"/>
<line x1="483.00" y1="434.50" x2="483.00" y2="566.00" stroke="#333" stroke-width="0.7" stroke-dasharray="2.6,1.8"/>
<line x1="178.10" y1="500.30" x2="495.50" y2="500.30" stroke="#111" stroke-width="0.9"/>
<line x1="490.00" y1="500.30" x2="499.30" y2="500.30" stroke="#111" stroke-width="0.8"/>
<text x="188.70" y="545.00" font-size="5" text-anchor="middle" font-weight="normal" fill="#d0303a">*</text>
<text x="250.60" y="439.30" font-size="5" text-anchor="middle" font-weight="normal" fill="#d0303a">*</text>
<text x="307.00" y="545.50" font-size="5" text-anchor="middle" font-weight="normal" fill="#d0303a">*</text>
<text x="313.60" y="471.40" font-size="5" text-anchor="middle" font-weight="normal" fill="#d0303a">*</text>
<text x="354.20" y="533.70" font-size="5" text-anchor="middle" font-weight="normal" fill="#d0303a">*</text>
<text x="385.50" y="536.80" font-size="5" text-anchor="middle" font-weight="normal" fill="#d0303a">*</text>
<text x="411.30" y="550.60" font-size="5" text-anchor="middle" font-weight="normal" fill="#d0303a">*</text>
<text x="192.00" y="575.90" font-size="4.45" text-anchor="middle" font-weight="normal" fill="#2a2a2a">1</text>
<text x="219.40" y="575.90" font-size="4.45" text-anchor="middle" font-weight="normal" fill="#2a2a2a">2</text>
<text x="242.90" y="575.90" font-size="4.45" text-anchor="middle" font-weight="normal" fill="#2a2a2a">3</text>
<text x="263.70" y="575.90" font-size="4.45" text-anchor="middle" font-weight="normal" fill="#2a2a2a">4</text>
<text x="283.60" y="575.90" font-size="4.45" text-anchor="middle" font-weight="normal" fill="#2a2a2a">5</text>
<text x="302.40" y="575.90" font-size="4.45" text-anchor="middle" font-weight="normal" fill="#2a2a2a">6</text>
<text x="320.00" y="575.90" font-size="4.45" text-anchor="middle" font-weight="normal" fill="#2a2a2a">7</text>
<text x="336.40" y="575.90" font-size="4.45" text-anchor="middle" font-weight="normal" fill="#2a2a2a">8</text>
<text x="351.90" y="575.90" font-size="4.45" text-anchor="middle" font-weight="normal" fill="#2a2a2a">9</text>
<text x="366.60" y="575.90" font-size="4.45" text-anchor="middle" font-weight="normal" fill="#2a2a2a">10</text>
<text x="381.10" y="575.90" font-size="4.45" text-anchor="middle" font-weight="normal" fill="#2a2a2a">11</text>
<text x="395.60" y="575.90" font-size="4.45" text-anchor="middle" font-weight="normal" fill="#2a2a2a">12</text>
<text x="408.70" y="575.90" font-size="4.45" text-anchor="middle" font-weight="normal" fill="#2a2a2a">13</text>
<text x="420.50" y="575.90" font-size="4.45" text-anchor="middle" font-weight="normal" fill="#2a2a2a">14</text>
<text x="431.50" y="575.90" font-size="4.45" text-anchor="middle" font-weight="normal" fill="#2a2a2a">15</text>
<text x="441.60" y="575.90" font-size="4.45" text-anchor="middle" font-weight="normal" fill="#2a2a2a">16</text>
<text x="451.10" y="575.90" font-size="4.45" text-anchor="middle" font-weight="normal" fill="#2a2a2a">17</text>
<text x="459.80" y="575.90" font-size="4.45" text-anchor="middle" font-weight="normal" fill="#2a2a2a">18</text>
<text x="467.00" y="575.90" font-size="4.45" text-anchor="middle" font-weight="normal" fill="#2a2a2a">19</text>
<text x="473.10" y="575.90" font-size="4.45" text-anchor="middle" font-weight="normal" fill="#2a2a2a">20</text>
<text x="478.90" y="575.90" font-size="4.45" text-anchor="middle" font-weight="normal" fill="#2a2a2a">21</text>
<text x="484.70" y="575.90" font-size="4.45" text-anchor="middle" font-weight="normal" fill="#2a2a2a">22</text>
<text x="338.20" y="585.80" font-size="6.4" text-anchor="middle" font-weight="normal" fill="#2a2a2a" textLength="30.4" lengthAdjust="spacingAndGlyphs">Chromosome</text>
<line x1="491.30" y1="443.50" x2="491.30" y2="557.00" stroke="#222" stroke-width="0.8"/>
<path d="M491.3,441.3 L489.7,445.2 L492.9,445.2 Z" stroke="none" stroke-width="1" fill="#222"/>
<path d="M491.3,559.2 L489.7,555.3 L492.9,555.3 Z" stroke="none" stroke-width="1" fill="#222"/>
<text x="498.00" y="493.80" font-size="4.6" text-anchor="middle" font-weight="normal" fill="#2a2a2a" transform="rotate(-90 498.00 493.80)">Gain</text>
<text x="498.00" y="511.50" font-size="4.6" text-anchor="middle" font-weight="normal" fill="#2a2a2a" transform="rotate(-90 498.00 511.50)">Deletion</text>
<text x="447.20" y="554.00" font-size="4" text-anchor="middle" font-weight="normal" fill="#333">*</text>
<rect x="0.5" y="0.5" width="519" height="593" fill="none" stroke="#000" stroke-width="1"/>
</svg></body></html>
